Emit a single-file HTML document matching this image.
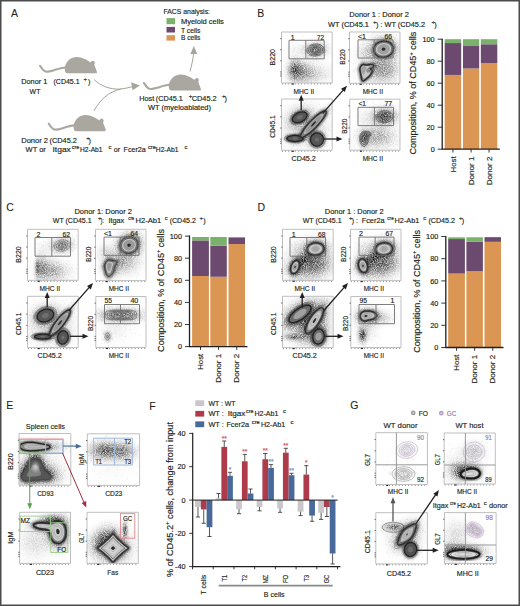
<!DOCTYPE html>
<html><head><meta charset="utf-8"><style>
html,body{margin:0;padding:0;background:#fff;}
svg{display:block;font-family:"Liberation Sans", sans-serif;}
text{stroke-width:.16px;}text:not([fill]){fill:#231f20;stroke:#231f20;}
</style></head><body>
<svg width="520" height="606" viewBox="0 0 520 606">
<rect width="520" height="606" fill="#fff"/>
<rect x="0.75" y="0.75" width="518.5" height="604.5" fill="none" stroke="#4b4b4b" stroke-width="1.5"/>
<text x="11.00" y="16.80" font-size="10.5" style="stroke-width:.08px">A</text>
<text x="257.30" y="16.60" font-size="10.5" style="stroke-width:.08px">B</text>
<text x="6.20" y="211.20" font-size="10.5" style="stroke-width:.08px">C</text>
<text x="257.50" y="211.20" font-size="10.5" style="stroke-width:.08px">D</text>
<text x="6.30" y="409.00" font-size="10.5" style="stroke-width:.08px">E</text>
<text x="149.20" y="409.60" font-size="10.5" style="stroke-width:.08px">F</text>
<text x="350.20" y="408.80" font-size="10.5" style="stroke-width:.08px">G</text>
<g transform="translate(65 73.3)"><path d="M2 0C0.3 0 -0.4 -2.5 -0.2 -5C0.2 -10 4 -15.5 11 -16.2C17 -16.5 22.5 -12.8 25.8 -10.8C26 -12.6 28.3 -13.3 29.4 -11.8C30.1 -10.8 29.8 -9.5 29.2 -8.8L31.9 -1.6C32.3 -0.5 31.6 0 30.5 0Z" fill="#aaa6a0"/><path d="M0.5 -5.8C-4 -5.5 -8 -4 -12 -2.8C-15 -1.8 -18 -1.1 -20 -2C-22 -3 -23.8 -5.5 -25 -7.5" fill="none" stroke="#aaa6a0" stroke-width="2.1" stroke-linecap="round"/></g>
<g transform="translate(73.8 131.2)"><path d="M2 0C0.3 0 -0.4 -2.5 -0.2 -5C0.2 -10 4 -15.5 11 -16.2C17 -16.5 22.5 -12.8 25.8 -10.8C26 -12.6 28.3 -13.3 29.4 -11.8C30.1 -10.8 29.8 -9.5 29.2 -8.8L31.9 -1.6C32.3 -0.5 31.6 0 30.5 0Z" fill="#aaa6a0"/><path d="M0.5 -5.8C-4 -5.5 -8 -4 -12 -2.8C-15 -1.8 -18 -1.1 -20 -2C-22 -3 -23.8 -5.5 -25 -7.5" fill="none" stroke="#aaa6a0" stroke-width="2.1" stroke-linecap="round"/></g>
<g transform="translate(169 90.6)"><path d="M2 0C0.3 0 -0.4 -2.5 -0.2 -5C0.2 -10 4 -15.5 11 -16.2C17 -16.5 22.5 -12.8 25.8 -10.8C26 -12.6 28.3 -13.3 29.4 -11.8C30.1 -10.8 29.8 -9.5 29.2 -8.8L31.9 -1.6C32.3 -0.5 31.6 0 30.5 0Z" fill="#aaa6a0"/><path d="M0.5 -5.8C-4 -5.5 -8 -4 -12 -2.8C-15 -1.8 -18 -1.1 -20 -2C-22 -3 -23.8 -5.5 -25 -7.5" fill="none" stroke="#aaa6a0" stroke-width="2.1" stroke-linecap="round"/></g>
<path d="M94.2 79.7C101 86 110 89.6 120 89.1C124 88.8 128 87.7 132 86.8" fill="none" stroke="#a7a39d" stroke-width="1"/>
<path d="M94 110.8C100 100 108 92 121 89" fill="none" stroke="#a7a39d" stroke-width="1"/>
<path d="M139.8 85.6L131.2 82.2L132.6 90.2Z" fill="#a7a39d"/>
<path d="M190.1 71.5C191.6 65 193 60 193.6 53.5" fill="none" stroke="#a7a39d" stroke-width="1"/>
<path d="M193.8 46.1L190.4 54L197.2 54Z" fill="#a7a39d"/>
<rect x="166.50" y="18.10" width="8.50" height="6.10" fill="#7bb26b"/>
<rect x="166.50" y="26.90" width="8.50" height="5.60" fill="#6c4a70"/>
<rect x="166.50" y="35.20" width="8.50" height="5.40" fill="#da9652"/>
<text x="163.40" y="14.10" font-size="7.3" textLength="46.60" lengthAdjust="spacingAndGlyphs">FACS analysis:</text>
<text x="180.90" y="23.50" font-size="7.3" textLength="43.00" lengthAdjust="spacingAndGlyphs">Myeloid cells</text>
<text x="180.90" y="32.50" font-size="7.3" textLength="19.50" lengthAdjust="spacingAndGlyphs">T cells</text>
<text x="180.90" y="40.30" font-size="7.3" textLength="19.50" lengthAdjust="spacingAndGlyphs">B cells</text>
<text x="21.20" y="84.20" font-size="7.3" textLength="26.10" lengthAdjust="spacingAndGlyphs">Donor 1</text>
<text x="53.50" y="84.20" font-size="7.3" textLength="26.10" lengthAdjust="spacingAndGlyphs">(CD45.1</text>
<text x="83.50" y="81.20" font-size="6.0">+</text>
<text x="88.00" y="84.20" font-size="7.3">)</text>
<text x="29.60" y="93.50" font-size="7.3" textLength="10.80" lengthAdjust="spacingAndGlyphs">WT</text>
<text x="21.20" y="142.70" font-size="7.3" textLength="26.90" lengthAdjust="spacingAndGlyphs">Donor 2</text>
<text x="49.60" y="142.70" font-size="7.3" textLength="27.30" lengthAdjust="spacingAndGlyphs">(CD45.2</text>
<text x="86.30" y="139.70" font-size="6.0">+</text>
<text x="88.60" y="142.70" font-size="7.3">)</text>
<text x="25.60" y="152.30" font-size="7.3" textLength="20.20" lengthAdjust="spacingAndGlyphs">WT or</text>
<text x="52.50" y="152.30" font-size="7.3" textLength="18.30" lengthAdjust="spacingAndGlyphs">Itgax</text>
<text x="71.70" y="149.20" font-size="6.0" textLength="7.70" lengthAdjust="spacingAndGlyphs">cre</text>
<text x="80.00" y="152.30" font-size="7.3" textLength="22.50" lengthAdjust="spacingAndGlyphs">H2-Ab1</text>
<text x="108.50" y="149.20" font-size="6.0">c</text>
<text x="113.80" y="152.10" font-size="7.3" textLength="6.40" lengthAdjust="spacingAndGlyphs">or</text>
<text x="123.50" y="152.10" font-size="7.3" textLength="22.30" lengthAdjust="spacingAndGlyphs">Fcer2a</text>
<text x="148.00" y="149.00" font-size="6.0" textLength="7.80" lengthAdjust="spacingAndGlyphs">cre</text>
<text x="155.80" y="152.10" font-size="7.3" textLength="22.70" lengthAdjust="spacingAndGlyphs">H2-Ab1</text>
<text x="184.60" y="149.00" font-size="6.0">c</text>
<text x="139.20" y="101.20" font-size="7.3" textLength="15.00" lengthAdjust="spacingAndGlyphs">Host</text>
<text x="155.80" y="101.20" font-size="7.3" textLength="26.90" lengthAdjust="spacingAndGlyphs">(CD45.1</text>
<text x="188.80" y="98.20" font-size="6.0">+</text>
<text x="191.70" y="101.20" font-size="7.3" textLength="25.00" lengthAdjust="spacingAndGlyphs">CD45.2</text>
<text x="221.90" y="98.20" font-size="6.0">+</text>
<text x="224.40" y="101.20" font-size="7.3">)</text>
<text x="148.00" y="110.40" font-size="7.3" textLength="63.00" lengthAdjust="spacingAndGlyphs">WT (myeloablated)</text>
<defs><radialGradient id="gg"><stop offset="0.00" stop-opacity="1.000"/><stop offset="0.15" stop-opacity="0.904"/><stop offset="0.30" stop-opacity="0.667"/><stop offset="0.45" stop-opacity="0.402"/><stop offset="0.60" stop-opacity="0.198"/><stop offset="0.75" stop-opacity="0.080"/><stop offset="0.90" stop-opacity="0.026"/><stop offset="1.00" stop-opacity="0.011"/></radialGradient><filter id="sp" x="-5%" y="-5%" width="110%" height="110%"><feTurbulence type="fractalNoise" baseFrequency="1.1" numOctaves="1" seed="4" result="n"/><feColorMatrix in="n" type="matrix" values="0 0 0 0 0 0 0 0 0 0 0 0 0 0 0 0 0 0 1.8 -0.2" result="na"/><feComposite in="SourceGraphic" in2="na" operator="in"/></filter><radialGradient id="gw"><stop offset="0" stop-color="#fff" stop-opacity="1"/><stop offset="1" stop-color="#fff" stop-opacity="0"/></radialGradient><filter id="bl" x="-20%" y="-20%" width="140%" height="140%"><feGaussianBlur stdDeviation="0.9"/></filter></defs>
<clipPath id="c1"><rect x="281.50" y="32.00" width="50.70" height="51.00"/></clipPath>
<g clip-path="url(#c1)">
<g filter="url(#sp)" fill="#000">
<ellipse rx="15.6" ry="10.8" fill="url(#gg)" opacity="0.59" transform="translate(315.5 50.0) rotate(-5)"/>
<ellipse rx="21.0" ry="14.4" fill="url(#gg)" opacity="0.33" transform="translate(315.5 50.0) rotate(-5)"/>
<ellipse rx="12.0" ry="18.0" fill="url(#gg)" opacity="0.78" transform="translate(295.0 70.0) rotate(0)"/>
<ellipse rx="21.0" ry="18.0" fill="url(#gg)" opacity="0.45" transform="translate(302.0 72.0) rotate(0)"/>
<ellipse rx="36.0" ry="18.0" fill="url(#gg)" opacity="0.20" transform="translate(312.0 74.0) rotate(0)"/>
<ellipse rx="18.0" ry="15.0" fill="url(#gg)" opacity="0.07" transform="translate(297.0 50.0) rotate(0)"/>
</g>
<path transform="translate(281.50 32.00) scale(.5)" d="M0 0m44 9h1m24 4h1m14 2h1m-25 1h1m-32 1h1m22 0h1m19 0h1m5 1h1m-32 2h1m24 0h1m1 0h1m-30 2h1m18 0h1m19 0h1m-22 1h1m2 0h1m5 0h1m-14 1h1m11 0h1m-10 1h1m30 0h1m-37 1h1m4 0h1m1 0h1m2 0h1m-26 1h1m9 0h1m9 0h1m12 0h1m13 0h1m-30 1h1m19 0h1m-31 1h1m1 0h1m26 0h1m-53 1h1m37 0h1m6 0h1m-27 1h1m13 0h1m24 0h1m-1 0h1m-6 1h1m0 0h1m13 0h1m-71 1h1m24 0h1m16 0h1m-1 0h1m16 0h1m-32 1h1m10 0h1m4 0h1m3 0h1m2 0h1m6 0h1m-45 1h1m2 0h1m5 0h1m30 0h1m-55 1h1m39 0h1m12 0h1m5 0h1m-80 1h1m44 0h1m2 0h1m11 0h1m8 0h1m0 0h1m1 0h1m11 0h1m-68 1h1m47 0h1m5 0h1m0 0h1m11 0h1m-38 1h1m6 0h1m2 0h1m4 0h1m2 0h1m-31 1h1m19 0h1m1 0h1m1 0h1m6 0h1m6 0h1m8 0h1m0 0h1m-30 1h1m14 0h1m9 0h1m1 0h1m-1 0h1m0 0h1m-54 1h1m8 0h1m24 0h1m4 0h1m-15 1h1m13 0h1m2 0h1m-29 1h1m2 0h1m21 0h1m4 0h1m-19 1h1m1 0h1m2 0h1m2 0h1m1 0h1m-15 1h1m3 0h1m-34 1h1m24 0h1m1 0h1m-1 1h1m5 0h1m10 0h1m-48 1h1m54 0h1m-70 1h1m33 0h1m9 0h1m8 0h1m8 0h1m-69 1h1m27 0h1m18 0h1m10 0h1m-9 1h1m6 0h1m10 0h1m4 0h1m13 0h1m-64 2h1m11 0h1m7 0h1m7 0h1m13 0h1m-7 1h1m5 0h1m-50 1h1m9 0h1m1 0h1m35 0h1m-46 1h1m10 0h1m-17 1h1m13 0h1m30 0h1m-41 1h1m6 0h1m10 0h1m-16 1h1m7 0h1m21 0h1m-40 1h1m3 0h1m0 0h1m22 0h1m-1 0h1m26 0h1m-50 1h1m4 0h1m-22 1h1m12 0h1m0 0h1m2 0h1m20 0h1m-12 1h1m4 0h1m39 0h1m-53 1h1m2 0h1m4 0h1m-34 1h1m12 0h1m2 0h1m2 0h1m3 0h1m20 0h1m0 0h1m-9 1h1m2 0h1m1 0h1m0 0h1m4 0h1m-23 1h1m0 0h1m6 0h1m0 0h1m4 0h1m5 0h1m11 0h1m-38 1h1m3 0h1m12 0h1m3 0h1m-35 1h1m28 0h1m17 0h1m-1 0h1m18 0h1m22 0h1m-81 1h1m6 0h1m2 0h1m0 0h1m3 0h1m41 0h1m5 0h1m-70 1h1m16 0h1m6 0h1m27 0h1m-53 1h1m-2 1h1m6 0h1m1 0h1m0 0h1m1 0h1m3 0h1m10 0h1m18 0h1m-39 1h1m2 0h1m16 0h1m23 0h1m-38 1h1m-1 0h1m1 0h1m8 0h1m41 0h1m-69 1h1m17 0h1m5 0h1m0 0h1m10 0h1m1 0h1m-31 1h1m3 0h1m0 0h1m18 0h1m1 0h1m8 0h1m0 0h1m1 0h1m8 0h1m6 0h1m-57 1h1m0 0h1m4 0h1m11 0h1m11 0h1m-1 0h1m15 0h1m-51 1h1m1 0h1m4 0h1m22 0h1m21 0h1m-51 1h1m-1 0h1m5 0h1m5 0h1m0 0h1m11 0h1m0 0h1m3 0h1m10 0h1m10 0h1m-47 1h1m2 0h1m7 0h1m1 0h1m10 0h1m9 0h1m0 0h1m4 0h1m-47 1h1m8 0h1m6 0h1m0 0h1m15 0h1m-25 1h1m6 0h1m21 0h1m-44 1h1m3 0h1m21 0h1m7 0h1m8 0h1m-36 1h1m1 0h1m0 0h1m10 0h1m2 0h1m7 0h1m20 0h1m0 0h1m-28 1h1m4 0h1m4 0h1m11 0h1m1 0h1m17 0h1m2 0h1m-61 1h1m0 0h1m4 0h1m22 0h1m0 0h1m1 0h1m3 0h1m14 0h1m-61 1h1m14 0h1m11 0h1m8 0h1m-45 1h1m4 0h1m11 0h1m16 0h1m26 0h1m17 0h1m-51 1h1m4 0h1m-30 1h1m3 0h1m1 0h1m2 0h1m18 0h1m4 0h1m0 0h1m10 0h1m8 0h1m30 0h1m-74 1h1m0 0h1m15 0h1m13 0h1m-42 1h1m10 0h1m-1 0h1m33 0h1m10 0h1m1 0h1m16 0h1m-74 1h1m23 0h1m0 0h1m-17 1h1m6 0h1m38 0h1m-44 1h1m9 0h1m6 0h1m22 0h1m-64 1h1m38 0h1m3 0h1m2 0h1m12 0h1m-35 1h1m18 1h1m8 0h1" stroke="#333" stroke-width="1" stroke-opacity="0.3"/>
<path d="M315.4 44l.7 0 .6 0 .9.1 1 .2.9.2.7.2.6.3.8.5.6.4.5.4.5.6.4.6.2.5.3 1 0 1-.2 1-.2.6-.5.8-.5.6-.5.5-.5.4-.5.4-.5.3-.9.4-.7.3-.6.2-.9.2-1 .2-1 .1-.5 0-.8 0-.7 0-1-.2-1-.3-.5-.1-.9-.4-.6-.3-.5-.4-.5-.4-.5-.5-.5-.6-.4-.8-.2-.5-.1-1 0-1 .2-.5.5-1 .3-.5.4-.5.5-.5.6-.5.7-.5.5-.2.6-.3.9-.4.5-.1 1-.3 1-.1.8-.1zM313.2 45.5l.9-.2 1-.2 1 0 1 .1 1 .2.6.1 1 .4.5.2.5.4.6.5.5.5.4.7.3.8 0 1-.2 1-.3.5-.3.6-.5.5-.5.5-.6.4-.9.5-.6.2-.8.3-.7.2-1 .1-1 .1-1 0-1-.2-.8-.2-.7-.3-.5-.2-.8-.5-.6-.5-.5-.5-.3-.5-.3-.8-.1-.7.1-1 .1-.5.4-.7.5-.7.5-.5.5-.4.5-.3.7-.4.8-.3.6-.2zM314.3 46.5l.8-.1 1 0 1 .1.5.1 1 .3.5.3.6.4.5.5.4.9.1.5 0 .9-.3.6-.3.5-.4.5-.6.5-.9.5-.6.2-.9.3-.6.1-1 .1-1-.1-.5-.1-1-.3-.5-.3-.7-.4-.5-.5-.3-.5-.3-1 .1-1 .2-.6.5-.7.5-.5.5-.3.7-.4.8-.3.7-.2zM313.8 48l.8-.3 1-.1 1 .1 1 .3.5.3.5.6.3.6-.1 1-.2.5-.5.5-.9.5-.6.2-1 .2-1 0-1-.3-.5-.2-.5-.4-.5-.8-.1-.7.2-.5.4-.7.5-.4.7-.4z" fill="none" stroke="#444" stroke-width="0.7"/>
</g>
<clipPath id="c2"><rect x="349.50" y="32.00" width="50.50" height="51.30"/></clipPath>
<g clip-path="url(#c2)">
<g filter="url(#sp)" fill="#000">
<ellipse rx="18.9" ry="15.6" fill="url(#gg)" opacity="1.00" transform="translate(383.5 49.2) rotate(-8)"/>
<ellipse rx="25.5" ry="21.0" fill="url(#gg)" opacity="0.52" transform="translate(383.0 48.5) rotate(-8)"/>
<ellipse rx="6.0" ry="18.0" fill="url(#gg)" opacity="0.65" transform="translate(362.8 72.0) rotate(0)"/>
<ellipse rx="16.5" ry="5.4" fill="url(#gg)" opacity="0.55" transform="translate(368.5 66.5) rotate(-15)"/>
<ellipse rx="16.5" ry="5.4" fill="url(#gg)" opacity="0.55" transform="translate(368.5 74.5) rotate(-48)"/>
<ellipse rx="9.0" ry="10.5" fill="url(#gg)" opacity="0.39" transform="translate(365.5 71.0) rotate(0)"/>
<ellipse rx="30.0" ry="21.0" fill="url(#gg)" opacity="0.45" transform="translate(378.0 70.0) rotate(0)"/>
<ellipse rx="18.0" ry="15.0" fill="url(#gg)" opacity="0.18" transform="translate(366.0 52.0) rotate(0)"/>
<ellipse rx="21.0" ry="27.0" fill="url(#gg)" opacity="0.23" transform="translate(388.0 68.0) rotate(0)"/>
</g>
<path transform="translate(349.50 32.00) scale(.5)" d="M0 0m45 3h1m1 1h1m28 2h1m-23 1h1m39 0h1m-51 1h1m30 0h1m-7 1h1m-7 1h1m27 0h1m-37 2h1m7 0h1m17 0h1m-12 1h1m9 0h1m-12 1h1m2 0h1m11 0h1m-57 1h1m23 0h1m18 0h1m0 0h1m1 0h1m-41 1h1m23 0h1m3 0h1m6 0h1m-16 1h1m2 0h1m19 0h1m-37 1h1m16 0h1m11 0h1m0 0h1m-34 1h1m5 0h1m15 0h1m4 0h1m5 0h1m10 0h1m5 0h1m-63 1h1m39 0h1m24 1h1m0 0h1m-42 1h1m0 0h1m27 0h1m8 0h1m-58 1h1m19 0h1m6 0h1m2 0h1m1 0h1m4 0h1m5 0h1m13 0h1m-32 1h1m1 0h1m10 0h1m5 0h1m8 0h1m0 0h1m9 0h1m-77 1h1m5 0h1m33 0h1m6 0h1m9 0h1m10 0h1m1 0h1m-42 1h1m2 0h1m-1 0h1m5 0h1m3 0h1m2 0h1m0 0h1m5 0h1m-21 1h1m11 0h1m-1 0h1m0 0h1m7 0h1m-1 0h1m4 0h1m-31 1h1m7 0h1m6 0h1m4 0h1m-1 0h1m4 0h1m1 0h1m3 0h1m0 0h1m-32 1h1m9 0h1m2 0h1m4 0h1m26 0h1m-35 1h1m0 0h1m4 0h1m9 0h1m0 0h1m1 0h1m2 0h1m-64 1h1m34 0h1m4 0h1m3 0h1m3 0h1m5 0h1m14 0h1m-58 1h1m26 0h1m10 0h1m18 0h1m0 0h1m5 0h1m-50 1h1m9 0h1m6 0h1m0 0h1m5 0h1m-1 0h1m-1 0h1m-1 0h1m1 0h1m21 0h1m-44 1h1m1 0h1m-1 0h1m17 0h1m6 0h1m-39 1h1m12 0h1m2 0h1m8 0h1m5 0h1m1 0h1m7 0h1m5 0h1m-32 1h1m2 0h1m3 0h1m2 0h1m5 0h1m1 0h1m3 0h1m1 0h1m16 0h1m1 0h1m-68 1h1m8 0h1m3 0h1m2 0h1m0 0h1m9 0h1m11 0h1m5 0h1m-24 1h1m0 0h1m5 0h1m8 0h1m1 0h1m24 0h1m-64 1h1m20 0h1m6 0h1m4 0h1m-13 1h1m-1 0h1m3 0h1m-15 1h1m3 0h1m-1 0h1m13 0h1m7 0h1m2 0h1m-1 0h1m13 0h1m-69 1h1m3 0h1m1 0h1m11 0h1m17 0h1m1 0h1m2 0h1m5 0h1m5 0h1m3 0h1m-12 1h1m7 0h1m14 0h1m-75 1h1m11 0h1m9 0h1m12 0h1m2 0h1m4 0h1m1 0h1m3 0h1m7 0h1m-1 0h1m0 0h1m-39 1h1m9 0h1m22 0h1m0 0h1m0 0h1m-1 0h1m1 0h1m0 0h1m2 0h1m15 0h1m-82 1h1m19 0h1m13 0h1m19 0h1m1 0h1m1 0h1m-1 0h1m0 0h1m5 0h1m-12 1h1m-1 0h1m27 0h1m0 0h1m-63 1h1m16 0h1m10 0h1m12 0h1m13 0h1m3 0h1m-60 1h1m4 0h1m1 0h1m22 0h1m-1 0h1m5 0h1m11 0h1m11 0h1m-65 1h1m0 0h1m26 0h1m1 0h1m18 0h1m1 0h1m-25 1h1m11 0h1m1 0h1m-14 1h1m13 0h1m23 0h1m-6 1h1m9 0h1m-81 2h1m6 0h1m28 0h1m4 0h1m-21 1h1m13 0h1m22 0h1m13 0h1m-46 1h1m1 0h1m5 0h1m7 0h1m14 0h1m2 0h1m-73 1h1m15 0h1m4 0h1m21 0h1m-1 0h1m10 0h1m0 0h1m8 0h1m-40 1h1m5 0h1m0 0h1m1 1h1m10 0h1m1 0h1m8 0h1m-1 0h1m2 0h1m3 0h1m7 0h1m-49 1h1m31 0h1m14 0h1m0 0h1m9 0h1m1 0h1m-85 1h1m18 0h1m15 0h1m25 0h1m2 0h1m26 0h1m-88 1h1m24 0h1m22 0h1m7 0h1m26 0h1m-55 1h1m26 0h1m0 0h1m0 0h1m5 0h1m17 0h1m-68 1h1m13 0h1m24 0h1m7 0h1m-41 1h1m16 0h1m19 0h1m2 0h1m14 0h1m-41 1h1m3 0h1m4 0h1m1 0h1m-19 1h1m9 0h1m-20 1h1m6 0h1m7 0h1m8 0h1m-36 1h1m1 0h1m13 0h1m2 0h1m2 0h1m5 0h1m-14 1h1m9 0h1m4 0h1m6 0h1m7 0h1m18 0h1m-50 1h1m7 0h1m3 0h1m14 0h1m0 0h1m2 0h1m15 0h1m5 0h1m-64 1h1m3 0h1m17 0h1m4 0h1m0 0h1m10 0h1m-50 1h1m12 0h1m6 0h1m1 0h1m11 0h1m11 0h1m21 0h1m-59 1h1m1 0h1m1 0h1m47 0h1m-59 1h1m9 0h1m4 0h1m7 0h1m4 0h1m18 0h1m2 0h1m10 0h1m-56 1h1m9 0h1m0 0h1m46 0h1m-79 1h1m24 0h1m0 0h1m13 0h1m9 0h1m8 0h1m12 0h1m-55 1h1m1 0h1m13 0h1m9 0h1m26 0h1m0 0h1m3 0h1m-55 1h1m13 0h1m16 0h1m12 0h1m-33 1h1m53 0h1m-60 1h1m0 0h1m3 0h1m28 0h1m6 0h1m1 0h1m10 0h1m-63 1h1m0 0h1m6 0h1m6 0h1m17 0h1m3 0h1m2 0h1m-47 1h1m12 0h1m1 0h1m17 0h1m0 0h1m10 0h1m8 0h1m-50 1h1m10 0h1m1 0h1m42 0h1m-13 1h1m3 0h1m7 0h1m-61 1h1m10 0h1m33 0h1m-2 1h1m1 0h1m16 0h1m-61 1h1m0 0h1m5 0h1m4 2h1m5 0h1m2 0h1m30 0h1m-13 1h1m-45 1h1m21 0h1m-23 1h1m6 0h1m21 0h1m8 0h1m-35 1h1m7 0h1m-1 1h1m6 0h1m22 0h1m5 0h1m20 0h1m-52 1h1m9 0h1m0 0h1m16 0h1m11 0h1m10 0h1m-62 1h1m7 0h1m23 0h1m-36 1h1m14 0h1m2 0h1m9 0h1m-45 1h1m12 0h1m24 0h1m-26 1h1" stroke="#333" stroke-width="1" stroke-opacity="0.3"/>
<defs><path id="p2" d="M380.8 41.6l.7-.2 1-.2 1-.1 1 0 1 .1 1 .2.7.2.8.2.6.3.9.5.5.3.5.4.5.4.5.5.5.7.4.7.3.5.3.9.1.6.1 1 0 1-.2 1-.2.5-.3.8-.4.7-.3.5-.4.5-.5.5-.5.5-.6.5-.8.5-.5.3-.5.3-1 .4-.5.2-1 .2-.6.1-.9.2-1 0-1 0-.9-.2-.6-.1-1-.2-.5-.2-1-.5-.5-.3-.5-.3-.5-.4-.6-.5-.4-.5-.5-.6-.5-.8-.3-.6-.2-.7-.2-.8-.1-1 .1-1 .2-.8.2-.7.3-.6.5-.9.4-.5.4-.5.5-.5.6-.5.6-.5.5-.3.5-.3.9-.4.6-.3.8-.2zM362.2 64.7l.8-.4 1 .1 1 .2.5.1 1 .1 1 0 .8-.1.7-.1 1-.1 1 0 1 .1.7.1.8.4.2.6-.2.6-.5.6-.5.4-.5.4-.8.5-.6.5-.4.5.8.5.5.2.5.5.2.8-.2.9-.2.6-.3.6-.5.8-.4.7-.4.5-.4.5-.5.5-.5.5-.5.5-.6.5-.6.5-.6.4-.5.5-.5.4-.5.4-.5.4-.8.4-.7.1-.5-.2-.5-.7-.3-.7-.2-.9-.1-.6-.3-1-.1-.5-.3-1-.1-1.1-.1-.5-.2-1-.1-1-.2-1-.1-.5-.1-1 .1-1 .2-.5.4-1 .3-.5.3-.5.5-.5.6-.5z"/></defs>
<use href="#p2" fill="none" stroke="#222" stroke-width="3" stroke-opacity="0.6" filter="url(#bl)"/>
<use href="#p2" fill="#c8c8c8" stroke="#2e2e2e" stroke-width="1.25" stroke-linejoin="round"/>
<path d="M382.3 44.1l.7-.1 1-.1 1 .1.5.1 1 .3.5.2.7.5.6.5.5.5.4.5.3.6.3.9 0 1-.1 1-.2.6-.5.9-.4.5-.5.5-.6.5-.5.3-.5.3-1 .4-.5.2-1 .1-1 .1-1-.1-1-.2-.5-.2-.7-.4-.8-.5-.5-.4-.5-.6-.3-.5-.2-.5-.3-1 0-1 .2-1 .2-.5.4-.8.5-.6.5-.5.5-.4.5-.3.7-.4.8-.3.8-.2zM362.5 66.7l.5-.3 1-.1 1 .1 1 .3.5.3.2.7-.2.5-.5.8-.4.7-.2.5-.3 1-.1.6-.2.9-.2 1-.3.5-.3.6-.9 0-.5-.6-.3-.5-.3-.9-.1-.6-.2-1-.2-.9-.1-.6 0-1 .1-.5.5-1 .5-.5z" fill="#a8a8a8"/>
<path d="M381.3 42.1l.7-.2 1-.1 1-.1 1 .1 1 .1.6.2.9.2.5.3 1 .5.5.3.5.4.5.4.5.6.5.7.3.6.3.5.3 1 .1 1-.1 1-.2 1-.2.6-.4.9-.3.5-.4.5-.5.5-.5.5-.6.5-.7.5-.6.4-.5.2-1 .4-.5.2-1 .2-1 .1-.5.1-1 0-.5-.1-1-.1-1-.3-.5-.1-1-.5-.5-.3-.5-.3-.5-.4-.5-.5-.5-.5-.5-.7-.4-.8-.2-.5-.3-1-.1-1 .1-1 .2-1 .2-.5.5-.9.4-.6.4-.5.5-.5.5-.5.7-.5.5-.4.5-.3.8-.3.7-.3.8-.2zM362.2 65.2l.8-.4 1 0 1 .2 1 .1 1 .1 1-.1 1-.1 1 0 1 .1.6.1.7.5-.3.8-.5.5-.5.4-.5.3-.8.5-.7.5-.5.5-.4.5-.1.5.5.5.5.1.9-.1.2 0 .9.2.4.8-.2 1-.2.6-.5.9-.4.6-.4.5-.4.5-.5.5-.5.5-.6.5-.6.5-.6.4-.5.4-.5.4-.5.4-.6.4-.9.3-.8-.3-.4-.5-.3-.9-.2-.6-.3-1-.1-.5-.3-1-.1-.6-.2-1-.1-1-.2-1-.1-.5-.1-1-.1-1 .1-1 .2-.7.4-.8.3-.5.4-.5.6-.5zM382.5 42.6l1-.1 1 0 .8.1.7.1 1 .3.5.2.8.4.7.4.5.4.5.5.5.6.4.6.2.5.4 1 .1.5 0 1-.1.8-.2.7-.3.8-.4.7-.3.5-.5.5-.5.5-.6.5-.7.5-.5.3-.5.2-1 .4-.5.1-1 .2-1 .1-1 0-1-.1-.8-.2-.7-.2-.7-.3-.8-.4-.5-.3-.5-.4-.5-.5-.5-.6-.5-.8-.2-.5-.3-1-.1-.5 0-1 .1-.6.2-.9.3-.6.5-.9.4-.5.5-.5.5-.5.6-.5.5-.3.5-.3 1-.4.5-.2 1-.2.5-.1zM362.3 65.7l.7-.3 1-.1 1 .1 1 .2 1 0 1 0 1 0 .7.1.7.5-.4.7-.5.5-.5.4-.5.4-.6.5-.5.5-.4.7-.2.8.2 1 .5.3 1-.1 1-.2 1 .5 0 .5-.1.5-.4.8-.5.8-.4.5-.5.5-.5.5-.6.5-.5.3-.5.4-.5.4-.5.4-.8.5-.7.3-1-.3-.3-.5-.2-.5-.3-1-.2-.5-.4-1-.1-.5-.3-1.1-.2-1 0-.5-.2-1-.1-1-.1-1 .1-1 .3-.9.3-.6.4-.5.6-.5z" fill="none" stroke="#333" stroke-width="0.6"/>
<path d="M382.6 45.1l.9-.1 1 0 .5.1 1 .3.5.3.6.4.6.5.3.5.5 1 .1.5-.1 1-.1.5-.4.9-.5.6-.5.5-.5.4-.5.3-.8.3-.7.2-1 .1-1 0-1-.2-.5-.2-.7-.4-.7-.5-.4-.5-.4-.5-.3-.9-.1-.6.1-1 .2-.5.3-.7.5-.6.5-.5.5-.4.6-.3.9-.4.6-.1zM363.1 67.2l.9-.1.6.1.6.5-.1 1-.2.5-.4 1-.3.5-.2.7-.5.7-.7-.4-.3-.5-.3-1-.1-1 .1-1 .3-.5.6-.5zM382.3 46.6l.7-.2 1-.1 1 .3.5.2.5.3.5.6.4.9 0 1-.4.9-.5.6-.5.3-.5.3-1 .3-1 .1-1-.3-.5-.2-.7-.5-.4-.5-.3-1 .1-1 .3-.7.5-.6.5-.3.8-.4z" fill="none" stroke="#8a8a8a" stroke-width="0.45"/>
<path d="M383.1 47.6l.9 0 .5.1.6.4.4.9 0 .2-.4.9-.6.5-.5.2-1 0-.7-.2-.5-.5-.3-.9 0-.1.5-.9.5-.4.6-.2z" fill="#2a2a2a"/>
</g>
<clipPath id="c3"><rect x="281.50" y="99.00" width="50.70" height="51.30"/></clipPath>
<g clip-path="url(#c3)">
<g filter="url(#sp)" fill="#000">
<ellipse rx="15.0" ry="9.0" fill="url(#gg)" opacity="1.00" transform="translate(299.7 117.3) rotate(-25)"/>
<ellipse rx="34.5" ry="7.8" fill="url(#gg)" opacity="1.00" transform="translate(313.5 124.0) rotate(-46)"/>
<ellipse rx="16.5" ry="6.0" fill="url(#gg)" opacity="1.00" transform="translate(295.0 138.5) rotate(0)"/>
<ellipse rx="12.9" ry="13.2" fill="url(#gg)" opacity="1.00" transform="translate(317.0 139.5) rotate(30)"/>
<ellipse rx="39.0" ry="33.0" fill="url(#gg)" opacity="0.26" transform="translate(306.0 128.0) rotate(0)"/>
<ellipse rx="24.0" ry="18.0" fill="url(#gg)" opacity="0.39" transform="translate(300.0 117.0) rotate(-25)"/>
</g>
<path transform="translate(281.50 99.00) scale(.5)" d="M0 0m96 1h1m-59 5h1m21 0h1m12 1h1m19 1h1m6 0h1m-56 1h1m29 2h1m22 0h1m-71 1h1m13 5h1m6 1h1m-37 1h1m50 0h1m-28 1h1m1 0h1m22 0h1m1 0h1m6 0h1m5 0h1m-30 1h1m46 0h1m0 0h1m-59 1h1m26 0h1m21 0h1m-8 1h1m3 0h1m-44 1h1m7 0h1m14 0h1m-8 1h1m20 0h1m2 0h1m11 0h1m-50 1h1m42 0h1m-51 1h1m19 0h1m-33 2h1m14 0h1m7 0h1m23 0h1m5 0h1m19 0h1m-68 1h1m22 0h1m5 0h1m4 0h1m-34 1h1m0 0h1m14 0h1m0 0h1m1 0h1m20 0h1m5 0h1m-59 1h1m14 0h1m-1 0h1m2 0h1m6 0h1m4 0h1m2 0h1m12 0h1m24 0h1m-1 0h1m-77 1h1m16 0h1m3 0h1m0 0h1m0 0h1m6 0h1m5 0h1m34 0h1m-59 1h1m2 0h1m1 0h1m3 0h1m8 0h1m7 0h1m6 0h1m29 0h1m-67 1h1m5 0h1m25 0h1m0 0h1m7 0h1m16 0h1m-55 1h1m2 0h1m1 0h1m0 0h1m1 0h1m33 0h1m1 0h1m-54 1h1m1 0h1m1 0h1m4 0h1m9 0h1m1 0h1m2 0h1m0 0h1m1 0h1m-42 1h1m2 0h1m27 0h1m3 0h1m41 0h1m-50 1h1m2 0h1m3 0h1m0 0h1m10 0h1m26 0h1m14 0h1m-82 1h1m6 0h1m1 0h1m0 0h1m0 0h1m0 0h1m0 0h1m0 0h1m3 0h1m0 0h1m2 0h1m2 0h1m27 0h1m11 0h1m-64 1h1m8 0h1m3 0h1m10 0h1m10 0h1m4 0h1m7 0h1m7 0h1m-55 1h1m0 0h1m9 0h1m3 0h1m4 0h1m29 0h1m5 0h1m-49 1h1m26 0h1m7 0h1m7 0h1m10 0h1m-47 1h1m5 0h1m0 0h1m0 0h1m13 0h1m15 0h1m2 0h1m-60 1h1m2 0h1m39 0h1m2 0h1m4 0h1m4 0h1m0 0h1m8 0h1m1 0h1m-69 1h1m8 0h1m1 0h1m3 0h1m40 0h1m-56 1h1m18 0h1m4 0h1m6 0h1m1 0h1m3 0h1m10 0h1m0 0h1m-1 0h1m4 0h1m-41 1h1m0 0h1m15 0h1m1 0h1m9 0h1m1 0h1m0 0h1m0 0h1m6 0h1m-50 1h1m5 0h1m2 0h1m11 0h1m22 0h1m-47 1h1m11 0h1m10 0h1m9 0h1m8 0h1m0 0h1m6 0h1m-46 1h1m7 0h1m19 0h1m9 0h1m0 0h1m11 0h1m-71 1h1m4 0h1m9 0h1m4 0h1m28 0h1m11 0h1m0 0h1m2 0h1m7 0h1m-67 1h1m13 0h1m34 0h1m2 0h1m3 0h1m3 0h1m-23 1h1m4 0h1m1 0h1m7 0h1m2 0h1m-1 0h1m3 0h1m11 0h1m-25 1h1m-1 0h1m21 0h1m-52 1h1m10 0h1m20 0h1m-20 1h1m10 0h1m3 0h1m3 0h1m-49 1h1m3 0h1m27 0h1m2 0h1m0 0h1m12 0h1m-60 1h1m47 0h1m2 0h1m-38 1h1m10 0h1m-1 0h1m1 0h1m1 0h1m13 0h1m6 0h1m2 0h1m4 0h1m-44 1h1m4 0h1m30 0h1m27 0h1m7 0h1m-42 1h1m0 0h1m16 0h1m-37 1h1m30 0h1m2 0h1m8 0h1m-48 1h1m8 0h1m10 0h1m11 0h1m7 0h1m26 0h1m-57 1h1m7 0h1m4 0h1m-1 0h1m24 0h1m-28 1h1m1 0h1m15 0h1m-14 1h1m1 0h1m5 0h1m1 0h1m0 0h1m-28 1h1m8 0h1m5 0h1m4 0h1m1 0h1m3 0h1m1 0h1m10 0h1m-75 1h1m21 0h1m5 0h1m0 0h1m-1 0h1m-24 1h1m43 0h1m12 0h1m1 0h1m-1 0h1m15 0h1m-61 1h1m31 0h1m18 0h1m20 0h1m-93 1h1m4 0h1m12 0h1m-1 0h1m16 0h1m4 0h1m0 0h1m9 0h1m8 0h1m4 0h1m1 0h1m3 0h1m-60 1h1m26 0h1m15 0h1m-1 0h1m9 0h1m5 0h1m-55 1h1m16 0h1m22 0h1m8 0h1m-60 1h1m20 0h1m8 0h1m11 0h1m3 0h1m0 0h1m0 0h1m4 0h1m8 0h1m1 0h1m-59 1h1m13 0h1m1 0h1m1 0h1m4 0h1m4 0h1m7 0h1m2 0h1m2 0h1m11 0h1m-46 1h1m18 0h1m24 0h1m0 0h1m14 0h1m-75 1h1m1 0h1m2 0h1m5 0h1m3 0h1m0 0h1m2 0h1m-1 0h1m2 0h1m2 0h1m15 0h1m21 0h1m1 0h1m2 0h1m-68 1h1m19 0h1m-1 0h1m0 0h1m-1 0h1m0 0h1m4 0h1m37 0h1m-62 1h1m7 0h1m6 0h1m3 0h1m0 0h1m19 0h1m16 0h1m-66 1h1m0 0h1m1 0h1m7 0h1m11 0h1m36 0h1m12 0h1m9 0h1m-84 1h1m19 0h1m30 0h1m10 0h1m-54 1h1m7 0h1m2 0h1m15 0h1m24 0h1m-40 1h1m37 0h1m1 0h1m2 0h1m3 0h1m-70 1h1m1 0h1m12 0h1m33 0h1m2 0h1m2 0h1m5 0h1m-47 1h1m15 0h1m4 0h1m4 0h1m21 0h1m3 0h1m0 0h1m4 0h1m-63 1h1m0 0h1m30 0h1m5 0h1m3 0h1m5 0h1m8 0h1m-16 1h1m-1 0h1m4 0h1m-43 1h1m4 0h1m45 0h1m-46 1h1m52 0h1m-10 1h1m-55 1h1m5 0h1m5 0h1m20 0h1m9 0h1m-30 1h1m-34 1h1m70 1h1m-25 1h1m19 0h1m5 0h1m3 0h1m-26 2h1m14 0h1m-41 1h1" stroke="#333" stroke-width="1" stroke-opacity="0.3"/>
<path d="M301.3 110.6l.8-.1 1-.1 1 0 1 .2.5.1 1 .3.5.3.5.3.5.5.5.7.4.8.1.8 0 .6-.1.6-.3 1-.2.5-.4.8-.5.7-.4.5-.5.5-.5.5-.6.5-.5.4-.5.4-.5.3-.7.4-.8.5-.5.2-.8.3-.7.3-.8.2-.7.3-1 .1-.9.1-.6.1-1 0-.5-.1-1.1-.1-1-.3-.5-.3-.5-.3-.6-.5-.4-.5-.5-.8-.2-.7 0-1 .2-1 .1-.5.4-.9.4-.6.3-.5.4-.5.5-.5.5-.5.5-.5.7-.5.7-.5.6-.4.5-.3.6-.3.9-.4.5-.2 1-.4.5-.2 1-.2.7-.1zM315.3 131.2l.8-.2 1 0 1 0 .9.2.7.1.8.4.7.3.5.3.5.4.6.5.5.5.4.5.5.7.4.8.3.5.3 1 .1.5.1 1 0 1-.1 1-.1.7-.3.9-.2.6-.5.9-.3.5-.4.5-.4.5-.5.5-.6.5-.7.5-.6.3-.5.2-1.1.4-.5.1-1 .2-1 0-1 0-.8-.2-.7-.2-.7-.3-.8-.4-.5-.3-.5-.4-.5-.5-.5-.5-.5-.6-.5-.8-.3-.5-.2-.5-.5-1-.2-.6-.3-.5-.5-.7-.5-.4-1 .1-.5.3-.5.2-1 .5-.5.2-.9.3-.6.3-1 .2-.5.1-1 .2-1 .2-.7.1-.8 0-1 .1-1 0-1.1 0-1-.1-.9 0-.6-.1-1-.1-1-.2-.5-.2-1-.2-.6-.3-.9-.3-.5-.3-.6-.4-.6-.5-.3-.5-.2-1 .2-.5.5-.6.5-.4.8-.5.7-.3.5-.2 1-.3.7-.2.8-.2 1-.1 1-.2.5 0 1-.1 1.1 0 1 0 1 0 .9.1.6.1 1 .1 1 .1.7.2.8.2 1 .3.5.2.8.3.7.4.5.2.7.4.8.5.5.1.5-.2.5-.4.5-.6.5-.6.5-.7.4-.6.5-.5.4-.5.5-.5.6-.5.6-.4.5-.3.7-.3.8-.3.7-.2z" fill="none" stroke="#666" stroke-width="0.5"/>
<defs><path id="p3" d="M301 112.1l.6-.1 1-.1 1 .1.5.1 1 .4.5.2.5.4.5.7.3.8.1 1-.2 1-.2.5-.5.8-.5.7-.5.5-.5.5-.5.4-.5.4-.5.4-.7.3-.8.5-.5.2-1 .3-.5.2-1 .2-1 .1-.5 0-.6 0-.9-.1-1-.3-.6-.2-.5-.4-.5-.5-.5-.8-.1-.7.1-1 .1-.5.4-1 .3-.5.4-.5.5-.5.5-.5.6-.5.6-.5.7-.4.5-.3.6-.3.9-.4.5-.2 1-.3.9-.1zM315.6 133.2l.5-.1 1-.1 1 .1.6.1 1 .3.5.3.6.4.6.5.5.5.4.5.4.6.4.9.1.5.2 1 0 1-.1 1-.2.5-.3 1.1-.3.5-.3.5-.5.6-.5.5-.5.4-.9.5-.7.3-.6.2-.9.2-1 0-1-.1-.5-.1-1-.4-.5-.3-.5-.3-.6-.5-.4-.5-.5-.6-.5-.9-.2-.5-.3-1-.1-.6-.1-1 .2-1 .1-.5.4-.9.4-.6.3-.5.4-.5.5-.5.7-.5.7-.5.5-.2 1-.3zM292.2 135.7l.8-.1 1-.1 1.1 0 1 0 1 .1.7.1.8.1 1 .2.6.2.9.3.5.2.8.5.5.5.3.5-.1.8-.5.6-.5.4-.5.3-1 .4-.5.1-1 .3-1 .1-.5.1-1 .1-1 .1-1 0-1.1-.1-1-.1-.6-.1-.9-.1-1-.2-.5-.2-1-.4-.5-.3-.5-.3-.5-.6-.1-.9.2-.5.5-.5.9-.5.5-.2.8-.3.7-.2 1-.2.7-.1z"/></defs>
<use href="#p3" fill="none" stroke="#222" stroke-width="3" stroke-opacity="0.6" filter="url(#bl)"/>
<use href="#p3" fill="#555" stroke="#222" stroke-width="1.25" stroke-linejoin="round"/>
<path d="M300 115.1l.6-.1 1 .1.5.1.5.4.2 1-.2.8-.5.6-.5.5-.5.3-.5.3-1 .4-1 .1-1-.1-.6-.4-.4-.8 0-.3.3-.9.4-.5.5-.5.8-.5.5-.2.9-.3zM293.3 137.7l.7-.1 1.1-.1 1 .1.6.1.9.5 0 .5-.5.4-.5.2-1 .1-1 0-1.1-.1-.5-.1-.6-.5.1-.6.8-.4zM315.8 137.7l.8-.3 1 0 .6.3.5.5.4 1-.1 1-.4.6-.5.5-1 .3-1-.1-.5-.3-.5-.6-.2-.9.1-1 .3-.5.5-.5z" fill="#6e6e6e"/>
</g>
<clipPath id="c4"><rect x="281.50" y="99.00" width="50.70" height="51.30"/></clipPath>
<g clip-path="url(#c4)">
<defs><path id="p4" d="M323.8 111.1l.9-.2 1 .1.5.6 0 .5 0 .6-.2.9-.3.7-.4.8-.2.5-.4.7-.5.8-.3.5-.3.5-.4.6-.5.7-.5.7-.4.5-.4.5-.4.5-.4.5-.5.5-.4.6-.6.6-.5.6-.5.6-.5.5-.5.5-.5.6-.5.5-.5.5-.5.5-.5.5-.5.5-.5.4-.5.5-.5.5-.5.4-.5.5-.5.4-.5.4-.6.5-.6.5-.7.5-.6.5-.5.3-.5.4-.5.3-.9.5-.6.4-.5.2-.9.4-.6.3-1 .1-1-.3-.3-.6 0-1 .3-.9.2-.6.3-.6.4-.9.3-.5.3-.5.5-.8.5-.7.3-.5.4-.5.3-.5.5-.6.5-.7.5-.6.5-.6.4-.5.4-.6.5-.5.4-.5.5-.5.4-.5.5-.5.5-.5.5-.5.4-.5.5-.5.6-.5.5-.5.5-.5.5-.5.6-.5.6-.5.5-.5.6-.5.6-.5.5-.4.5-.4.5-.4.5-.4.7-.4.7-.5.7-.5.5-.3.5-.2.9-.5.6-.3.6-.2z"/></defs>
<use href="#p4" fill="none" stroke="#222" stroke-width="3" stroke-opacity="0.6" filter="url(#bl)"/>
<use href="#p4" fill="#b4b4b4" stroke="#2e2e2e" stroke-width="1.25" stroke-linejoin="round"/>
<path d="M320.1 115.6l.6-.1.8.1.3.5-.1 1-.2.5-.3.7-.5.8-.3.5-.3.5-.4.6-.6.7-.5.7-.4.5-.4.5-.4.5-.5.5-.4.5-.5.6-.4.5-.5.5-.5.5-.5.5-.6.5-.5.5-.6.5-.6.5-.6.5-.6.4-.5.4-.5.4-.5.3-.8.5-.7.4-.5.2-1 .3-.8-.4 0-1 .3-1 .3-.5.2-.5.5-.8.5-.7.3-.5.4-.5.4-.5.4-.6.5-.6.5-.6.5-.6.5-.6.5-.5.5-.5.5-.6.5-.5.5-.4.5-.5.5-.5.5-.4.5-.4.5-.5.5-.4.6-.4.7-.5.7-.5.5-.3.5-.3 1-.4z" fill="#9a9a9a"/>
<path d="M323.1 112.1l.6-.2 1 .1.5.6 0 .5 0 .6-.3.9-.2.6-.5.9-.2.5-.3.5-.5.9-.5.6-.3.5-.4.5-.3.6-.5.6-.5.7-.5.6-.5.5-.4.5-.4.5-.5.5-.4.5-.5.6-.4.5-.5.5-.5.5-.5.5-.5.5-.5.5-.5.5-.6.5-.5.5-.6.5-.5.5-.6.5-.6.5-.6.5-.5.3-.5.4-.5.4-.6.4-.7.5-.7.4-.5.3-.5.3-1 .5-.5.2-1 .2-1-.3-.3-.6.1-1 .2-.8.3-.7.2-.5.5-.9.3-.6.3-.5.4-.6.5-.7.5-.7.4-.5.3-.5.4-.5.4-.5.5-.6.5-.6.5-.6.5-.6.5-.5.5-.6.5-.5.5-.6.5-.5.5-.5.5-.5.5-.5.5-.5.5-.4.5-.5.5-.4.5-.5.5-.4.5-.4.5-.5.6-.4.7-.5.6-.5.6-.4.6-.4.5-.3.7-.4.8-.5.5-.2.9-.3zM322.9 113.1l.4 0 .7.5.1 1-.3 1-.2.5-.4.8-.4.7-.3.5-.3.5-.5.8-.5.7-.4.5-.4.5-.4.5-.4.5-.5.6-.5.6-.5.6-.5.6-.5.5-.5.6-.5.5-.5.5-.5.5-.5.5-.5.5-.5.5-.5.5-.5.4-.5.5-.5.4-.5.4-.5.4-.6.5-.6.5-.7.5-.6.4-.5.3-.5.3-.9.5-.6.3-.5.2-1 .2-.9-.2-.3-.5.1-1 .1-.5.4-1 .3-.5.3-.6.5-.8.4-.6.3-.5.3-.5.5-.7.5-.6.5-.7.4-.5.5-.5.4-.6.4-.5.4-.5.5-.5.5-.5.4-.5.5-.5.5-.5.5-.5.5-.5.5-.5.6-.5.5-.5.6-.5.6-.5.6-.5.6-.5.5-.4.5-.4.5-.4.5-.3.8-.5.8-.5.5-.2.5-.3 1-.4.7-.1z" fill="none" stroke="#333" stroke-width="0.6"/>
<path d="M317.5 118.6l.6-.2.8.2-.1 1-.2.5-.5.9-.4.6-.3.5-.4.5-.4.5-.5.6-.5.6-.5.5-.5.5-.5.5-.5.5-.5.5-.5.4-.5.5-.7.5-.7.5-.6.4-.5.2-1 .4-.6-.5.1-.6.4-.9.3-.5.3-.6.5-.7.5-.7.5-.6.4-.5.5-.5.4-.5.5-.5.5-.5.5-.5.6-.5.5-.5.6-.5.5-.3.5-.4.5-.3.9-.5z" fill="none" stroke="#8a8a8a" stroke-width="0.45"/>
<path d="M315 121.6l.6-.3.6.3-.2.5-.4.6-.5.7-.5.6-.5.6-.5.5-.5.4-.5.4-.5.4-.7.4-.4 0 .1-1 .4-.5.3-.5.4-.6.5-.5.5-.5.5-.5.6-.5.7-.5z" fill="#2a2a2a"/>
</g>
<clipPath id="c5"><rect x="349.80" y="99.20" width="50.20" height="51.00"/></clipPath>
<g clip-path="url(#c5)">
<g filter="url(#sp)" fill="#000">
<ellipse rx="17.1" ry="12.0" fill="url(#gg)" opacity="0.72" transform="translate(384.3 116.8) rotate(-5)"/>
<ellipse rx="22.5" ry="16.5" fill="url(#gg)" opacity="0.45" transform="translate(384.3 116.8) rotate(-5)"/>
<ellipse rx="8.4" ry="15.0" fill="url(#gg)" opacity="0.72" transform="translate(364.0 139.0) rotate(0)"/>
<ellipse rx="10.5" ry="6.0" fill="url(#gg)" opacity="0.45" transform="translate(367.0 135.0) rotate(-30)"/>
<ellipse rx="33.0" ry="21.0" fill="url(#gg)" opacity="0.39" transform="translate(377.0 137.0) rotate(0)"/>
<ellipse rx="18.0" ry="15.0" fill="url(#gg)" opacity="0.08" transform="translate(366.0 117.0) rotate(0)"/>
</g>
<path transform="translate(349.80 99.20) scale(.5)" d="M0 0m61 3h1m-17 3h1m2 2h1m33 2h1m-33 1h1m10 0h1m6 0h1m15 1h1m1 0h1m-20 1h1m2 0h1m-24 1h1m8 0h1m-1 0h1m31 1h1m-62 1h1m22 0h1m10 2h1m13 0h1m-32 1h1m7 0h1m25 0h1m-36 1h1m1 0h1m12 0h1m8 0h1m-2 1h1m1 0h1m-13 1h1m3 0h1m0 0h1m2 0h1m-1 0h1m5 0h1m-8 1h1m-1 0h1m1 0h1m10 0h1m3 0h1m2 0h1m1 0h1m-9 1h1m-47 1h1m9 0h1m1 0h1m21 0h1m2 0h1m1 1h1m3 0h1m14 0h1m-38 1h1m9 0h1m7 0h1m8 0h1m0 0h1m2 0h1m5 0h1m2 0h1m-39 1h1m9 0h1m2 0h1m0 0h1m11 0h1m2 0h1m6 0h1m2 0h1m-61 1h1m25 0h1m3 0h1m9 0h1m6 0h1m-50 1h1m13 0h1m10 0h1m9 0h1m1 0h1m5 0h1m22 0h1m-43 1h1m6 0h1m1 0h1m3 0h1m1 0h1m2 0h1m18 0h1m3 0h1m-60 1h1m10 0h1m1 0h1m0 0h1m0 0h1m4 0h1m5 0h1m9 0h1m23 0h1m-55 1h1m10 0h1m3 0h1m4 0h1m0 0h1m2 0h1m6 0h1m3 0h1m0 0h1m-65 1h1m25 0h1m4 0h1m16 0h1m8 0h1m16 0h1m-52 1h1m14 0h1m3 0h1m0 0h1m3 0h1m2 0h1m0 0h1m0 0h1m0 0h1m0 0h1m0 0h1m21 0h1m1 0h1m0 0h1m-1 0h1m-39 1h1m0 0h1m3 0h1m2 0h1m-25 1h1m11 0h1m9 0h1m15 0h1m2 0h1m-34 1h1m0 0h1m8 0h1m4 0h1m3 0h1m0 0h1m0 0h1m2 0h1m8 0h1m-61 1h1m21 0h1m19 0h1m1 0h1m1 0h1m-36 1h1m1 0h1m22 0h1m9 0h1m14 0h1m-59 1h1m44 0h1m9 0h1m-17 1h1m0 0h1m0 0h1m1 0h1m6 0h1m2 0h1m14 0h1m-58 1h1m32 0h1m14 0h1m7 0h1m-77 1h1m5 0h1m35 0h1m5 0h1m5 0h1m1 0h1m16 0h1m-28 1h1m9 0h1m8 0h1m3 0h1m-60 1h1m24 0h1m26 0h1m9 0h1m0 0h1m-64 1h1m39 1h1m0 0h1m3 0h1m-1 0h1m6 0h1m10 0h1m4 0h1m-33 1h1m16 1h1m18 0h1m-44 1h1m2 0h1m6 0h1m-44 1h1m17 0h1m21 0h1m2 0h1m12 0h1m3 0h1m-1 0h1m-20 2h1m-20 1h1m48 0h1m-34 1h1m2 0h1m-38 1h1m36 0h1m7 0h1m-41 1h1m12 0h1m23 0h1m-28 1h1m8 0h1m6 0h1m1 0h1m7 0h1m0 0h1m-23 1h1m16 0h1m-10 1h1m9 0h1m0 0h1m-51 1h1m15 0h1m46 0h1m19 0h1m-62 1h1m18 0h1m34 0h1m-77 1h1m20 0h1m7 0h1m1 0h1m3 0h1m17 0h1m-56 1h1m16 0h1m3 0h1m16 0h1m6 0h1m-1 0h1m3 0h1m14 0h1m-52 1h1m2 0h1m1 0h1m6 0h1m5 0h1m10 0h1m-32 1h1m0 0h1m6 0h1m9 0h1m19 0h1m13 0h1m-49 1h1m11 0h1m4 0h1m-1 0h1m40 0h1m-52 1h1m15 0h1m6 0h1m-30 1h1m4 0h1m0 0h1m-1 0h1m23 0h1m-40 1h1m12 0h1m3 0h1m0 0h1m38 0h1m9 0h1m-79 1h1m18 0h1m-1 0h1m0 0h1m9 0h1m1 0h1m2 0h1m14 0h1m3 0h1m1 0h1m1 0h1m10 0h1m-50 1h1m4 0h1m0 0h1m50 0h1m6 0h1m-77 1h1m13 0h1m4 0h1m5 0h1m0 0h1m2 0h1m2 0h1m8 0h1m5 0h1m12 0h1m6 0h1m-58 1h1m2 0h1m1 0h1m2 0h1m-29 1h1m12 0h1m7 0h1m1 0h1m2 0h1m-1 0h1m3 0h1m6 0h1m10 0h1m22 0h1m9 0h1m-59 1h1m13 0h1m6 0h1m-30 1h1m3 0h1m-1 0h1m13 0h1m25 0h1m-47 1h1m29 0h1m1 0h1m-1 0h1m-32 1h1m0 0h1m-1 0h1m-1 0h1m0 0h1m5 0h1m17 0h1m11 0h1m-32 1h1m9 0h1m8 0h1m11 0h1m-40 1h1m4 0h1m1 0h1m0 0h1m3 0h1m-1 0h1m-1 0h1m15 0h1m-40 1h1m11 0h1m6 0h1m3 0h1m3 0h1m29 0h1m17 0h1m-67 1h1m1 0h1m0 0h1m1 0h1m11 0h1m1 0h1m57 0h1m-75 1h1m1 0h1m19 0h1m11 0h1m-30 1h1m11 0h1m0 0h1m4 0h1m5 0h1m25 0h1m0 0h1m-53 1h1m3 0h1m3 0h1m2 0h1m8 0h1m12 0h1m13 0h1m-46 1h1m1 0h1m23 0h1m1 0h1m4 0h1m26 0h1m-62 1h1m5 0h1m1 0h1m7 0h1m7 0h1m-20 1h1m4 0h1m27 0h1m-46 1h1m19 0h1m1 0h1m3 0h1m0 0h1m47 0h1m-1 0h1m-28 1h1m-44 1h1m8 0h1m3 0h1m39 0h1m-73 1h1m29 0h1m51 0h1m-65 1h1m31 0h1m-6 2h1m21 0h1m-39 1h1m2 0h1m4 0h1m31 0h1m16 0h1m-70 1h1m-3 1h1m1 0h1m17 0h1m4 0h1m-3 1h1m31 0h1" stroke="#333" stroke-width="1" stroke-opacity="0.3"/>
<path d="M381.8 111.2l.6-.1 1-.2 1-.1 1 0 1 .1 1 .2.6.2 1 .3.5.2.6.4.7.5.6.5.4.5.3.5.4.7.2.8.1 1-.2 1-.2.5-.4.8-.5.7-.5.5-.5.4-.5.4-.5.3-.8.4-.7.3-.6.2-1 .3-1 .2-.5 0-1 .1-1 0-.5-.1-1-.2-1-.2-.5-.2-.9-.4-.6-.3-.5-.4-.5-.4-.5-.6-.5-.7-.3-.6-.2-.8-.1-.7.1-.8.2-.7.3-.7.5-.8.4-.5.6-.5.5-.4.5-.4.5-.3.9-.4.6-.2.9-.3zM364 131.2l.9-.1 1 .1.5 0 1 .2 1 .1.6.2.9.4.5.4.4.7.1.5-.1.5-.3 1-.2.5-.4.7-.5.8-.3.5-.2.5-.4 1-.1.5-.3 1-.2 1-.1.5-.4 1-.2.5-.3.7-.5.7-.5.6-.5.3-.5.3-1 .1-.9-.2-.6-.4-.6-.4-.5-.7-.3-.5-.2-.5-.4-1-.2-.5-.3-1-.1-.5-.1-1-.1-1 0-1 .1-1 .2-.5.2-1 .2-.5.5-1 .4-.5.3-.5.5-.5.7-.5.7-.3.6-.2zM381.9 112.7l.5-.1 1-.2 1-.1 1 0 1 .1 1 .3.6.2.5.3.8.5.5.5.4.5.3.6.2.9 0 1-.2.6-.5.9-.5.5-.5.5-.5.4-.5.3-.8.3-.8.3-.9.2-.6.1-1 0-1 0-.5-.1-1-.2-.7-.3-.8-.4-.5-.3-.5-.5-.5-.6-.3-.7-.2-.7 0-.8.1-.5.4-1 .4-.5.5-.5.6-.5.5-.3.5-.3 1-.4zM363.4 132.7l1-.4 1-.1 1 0 1 .2 1 .2.5.3.5.4.3.9-.2 1-.2.5-.4.8-.4.7-.3.5-.3.7-.3.8-.2.6-.3.9-.2.8-.3.7-.2.6-.5.8-.5.5-.5.3-1 .2-1-.3-.5-.5-.5-.6-.3-.5-.3-.5-.3-1-.2-.5-.2-1-.1-1 0-1 .2-1 .1-.7.3-.8.3-.5.4-.7.6-.6.5-.4.5-.3zM383.3 114.2l.6-.1 1 0 .8.1.7.2.6.3.6.5.4.5.2 1-.2.8-.5.7-.6.5-.5.3-.5.2-1 .3-1 0-1-.1-.7-.2-.8-.4-.5-.5-.3-.6-.2-1 .5-1 .4-.5.6-.5.5-.2.9-.3zM363.9 133.7l1-.3 1-.1 1 .1.8.3.5.5.1 1-.3 1-.3.5-.3.7-.5.8-.2.5-.3.8-.3.7-.3.5-.4.9-.5.5-.5.3-1-.1-.5-.4-.5-.7-.3-.5-.3-.8-.1-.7-.2-1 .1-1 .2-1 .2-.5.4-.6.5-.6.5-.5.5-.3zM364.2 134.7l.7-.2 1-.1.8.3.3.5-.1 1-.2.5-.3.6-.5.9-.4.5-.3.5-.5.5-.8.3-.6-.3-.4-.7-.3-.8 0-1 .2-1 .3-.5.5-.5.6-.5z" fill="none" stroke="#444" stroke-width="0.65"/>
</g>
<path d="M281.50 32.00H332.20V83.00H281.50Z" fill="none" stroke="#b8b8b8" stroke-width="0.9"/>
<path d="M282.00 84.00H331.70" stroke="#555" stroke-width="1" stroke-dasharray="0.8 2.4" stroke-opacity="0.8"/>
<path d="M291.64 84.00h2.2" stroke="#222" stroke-width="1.1"/>
<path d="M280.20 71.91h1.3M280.20 60.83h1.3M280.20 49.74h1.3M280.20 38.65h1.3M280.20 76.00h1.3M280.20 74.00h1.3" stroke="#444" stroke-width="0.8"/>
<path d="M349.50 32.00H400.00V83.30H349.50Z" fill="none" stroke="#b8b8b8" stroke-width="0.9"/>
<path d="M350.00 84.30H399.50" stroke="#555" stroke-width="1" stroke-dasharray="0.8 2.4" stroke-opacity="0.8"/>
<path d="M359.60 84.30h2.2" stroke="#222" stroke-width="1.1"/>
<path d="M348.20 72.15h1.3M348.20 61.00h1.3M348.20 49.84h1.3M348.20 38.69h1.3M348.20 76.30h1.3M348.20 74.30h1.3" stroke="#444" stroke-width="0.8"/>
<path d="M281.50 99.00H332.20V150.30H281.50Z" fill="none" stroke="#b8b8b8" stroke-width="0.9"/>
<path d="M282.00 151.30H331.70" stroke="#555" stroke-width="1" stroke-dasharray="0.8 2.4" stroke-opacity="0.8"/>
<path d="M291.64 151.30h2.2" stroke="#222" stroke-width="1.1"/>
<path d="M280.20 139.15h1.3M280.20 128.00h1.3M280.20 116.84h1.3M280.20 105.69h1.3M280.20 143.30h1.3M280.20 141.30h1.3" stroke="#444" stroke-width="0.8"/>
<path d="M349.80 99.20H400.00V150.20H349.80Z" fill="none" stroke="#b8b8b8" stroke-width="0.9"/>
<path d="M350.30 151.20H399.50" stroke="#555" stroke-width="1" stroke-dasharray="0.8 2.4" stroke-opacity="0.8"/>
<path d="M359.84 151.20h2.2" stroke="#222" stroke-width="1.1"/>
<path d="M348.50 139.11h1.3M348.50 128.03h1.3M348.50 116.94h1.3M348.50 105.85h1.3M348.50 143.20h1.3M348.50 141.20h1.3" stroke="#444" stroke-width="0.8"/>
<path d="M289.00 40.30H324.20V58.80H289.00ZM305.80 40.30V58.80" fill="none" stroke="#707070" stroke-width="0.9"/>
<path d="M358.00 39.80H393.00V58.00H358.00ZM374.20 39.80V58.00" fill="none" stroke="#707070" stroke-width="0.9"/>
<path d="M358.00 107.30H393.50V125.60H358.00ZM374.40 107.30V125.60" fill="none" stroke="#707070" stroke-width="0.9"/>
<text x="290.80" y="39.60" font-size="7">1</text>
<text x="317.00" y="39.60" font-size="7" textLength="7.00" lengthAdjust="spacingAndGlyphs">72</text>
<text x="358.00" y="38.90" font-size="7" textLength="8.00" lengthAdjust="spacingAndGlyphs">&lt;1</text>
<text x="384.40" y="38.90" font-size="7" textLength="7.60" lengthAdjust="spacingAndGlyphs">66</text>
<text x="358.50" y="106.10" font-size="7" textLength="7.50" lengthAdjust="spacingAndGlyphs">&lt;1</text>
<text x="384.40" y="106.10" font-size="7" textLength="7.90" lengthAdjust="spacingAndGlyphs">77</text>
<text x="0" y="0" font-size="7.7" text-anchor="middle" transform="translate(275.01 57.20) rotate(-90)" textLength="16.40" lengthAdjust="spacingAndGlyphs">B220</text>
<text x="293.50" y="93.50" font-size="7.7" textLength="20.70" lengthAdjust="spacingAndGlyphs">MHC II</text>
<text x="0" y="0" font-size="7.7" text-anchor="middle" transform="translate(345.41 57.00) rotate(-90)" textLength="15.40" lengthAdjust="spacingAndGlyphs">B220</text>
<text x="362.70" y="93.50" font-size="7.7" textLength="20.30" lengthAdjust="spacingAndGlyphs">MHC II</text>
<text x="0" y="0" font-size="7.7" text-anchor="middle" transform="translate(275.01 126.50) rotate(-90)" textLength="22.30" lengthAdjust="spacingAndGlyphs">CD45.1</text>
<text x="291.60" y="160.80" font-size="7.7" textLength="24.20" lengthAdjust="spacingAndGlyphs">CD45.2</text>
<text x="0" y="0" font-size="7.7" text-anchor="middle" transform="translate(346.81 126.20) rotate(-90)" textLength="15.00" lengthAdjust="spacingAndGlyphs">B220</text>
<text x="362.70" y="160.80" font-size="7.7" textLength="20.30" lengthAdjust="spacingAndGlyphs">MHC II</text>
<line x1="301.20" y1="110.00" x2="301.20" y2="100.30" stroke="#231f20" stroke-width="1.3"/>
<path d="M301.20 94.80L303.70 100.80L298.70 100.80Z" fill="#231f20"/>
<line x1="322.70" y1="113.40" x2="343.23" y2="90.08" stroke="#231f20" stroke-width="1.3"/>
<path d="M347.00 85.80L344.78 92.11L341.03 88.80Z" fill="#231f20"/>
<line x1="323.80" y1="139.00" x2="337.00" y2="139.00" stroke="#231f20" stroke-width="1.3"/>
<path d="M342.50 139.00L336.50 141.50L336.50 136.50Z" fill="#231f20"/>
<text x="349.30" y="16.50" font-size="7.3" textLength="59.60" lengthAdjust="spacingAndGlyphs">Donor 1 : Donor 2</text>
<text x="328.00" y="26.50" font-size="7.3" textLength="41.00" lengthAdjust="spacingAndGlyphs">WT (CD45.1</text>
<text x="373.00" y="23.50" font-size="6.0">+</text>
<text x="376.00" y="26.50" font-size="7.3" textLength="49.00" lengthAdjust="spacingAndGlyphs">) : WT (CD45.2</text>
<text x="431.50" y="23.50" font-size="6.0">+</text>
<text x="434.20" y="26.50" font-size="7.3">)</text>
<rect x="444.70" y="74.95" width="16.50" height="74.25" fill="#da9652"/>
<rect x="444.70" y="43.05" width="16.50" height="31.90" fill="#6c4a70"/>
<rect x="444.70" y="39.20" width="16.50" height="3.85" fill="#7bb26b"/>
<rect x="463.00" y="68.46" width="16.20" height="80.74" fill="#da9652"/>
<rect x="463.00" y="46.02" width="16.20" height="22.44" fill="#6c4a70"/>
<rect x="463.00" y="39.20" width="16.20" height="6.82" fill="#7bb26b"/>
<rect x="480.80" y="63.07" width="16.50" height="86.13" fill="#da9652"/>
<rect x="480.80" y="44.26" width="16.50" height="18.81" fill="#6c4a70"/>
<rect x="480.80" y="39.20" width="16.50" height="5.06" fill="#7bb26b"/>
<path d="M442.20 38.70V149.20H499.80" fill="none" stroke="#231f20" stroke-width="1.3"/>
<text x="434.70" y="151.80" font-size="7.3" text-anchor="end">0</text>
<text x="434.70" y="129.80" font-size="7.3" text-anchor="end">20</text>
<text x="434.70" y="107.80" font-size="7.3" text-anchor="end">40</text>
<text x="434.70" y="85.80" font-size="7.3" text-anchor="end">60</text>
<text x="434.70" y="63.80" font-size="7.3" text-anchor="end">80</text>
<text x="434.70" y="41.80" font-size="7.3" text-anchor="end">100</text>
<path d="M437.70 149.20H442.20M437.70 127.20H442.20M437.70 105.20H442.20M437.70 83.20H442.20M437.70 61.20H442.20M437.70 39.20H442.20M452.95 149.20V152.50M471.10 149.20V152.50M489.05 149.20V152.50" stroke="#231f20" stroke-width="0.9"/>
<text x="0" y="0" font-size="7.3" text-anchor="end" textLength="16" lengthAdjust="spacingAndGlyphs" transform="translate(455.61 156.40) rotate(-90)">Host</text>
<text x="0" y="0" font-size="7.3" text-anchor="end" textLength="28.9" lengthAdjust="spacingAndGlyphs" transform="translate(473.76 156.40) rotate(-90)">Donor 1</text>
<text x="0" y="0" font-size="7.3" text-anchor="end" textLength="28.9" lengthAdjust="spacingAndGlyphs" transform="translate(491.71 156.40) rotate(-90)">Donor 2</text>
<text x="0" y="0" font-size="9.4" text-anchor="middle" textLength="122.8" lengthAdjust="spacingAndGlyphs" transform="translate(416.30 93.10) rotate(-90)">Composition, % of CD45<tspan font-size="6" dy="-3.5">+</tspan><tspan dy="3.5"> cells</tspan></text>
<clipPath id="c6"><rect x="27.50" y="229.20" width="50.50" height="52.00"/></clipPath>
<g clip-path="url(#c6)">
<g filter="url(#sp)" fill="#000">
<ellipse rx="15.6" ry="10.8" fill="url(#gg)" opacity="0.45" transform="translate(62.0 245.5) rotate(-8)"/>
<ellipse rx="21.0" ry="14.4" fill="url(#gg)" opacity="0.33" transform="translate(62.0 245.5) rotate(-8)"/>
<ellipse rx="4.2" ry="18.0" fill="url(#gg)" opacity="0.65" transform="translate(37.5 268.0) rotate(0)"/>
<ellipse rx="10.5" ry="19.5" fill="url(#gg)" opacity="0.52" transform="translate(42.0 268.0) rotate(0)"/>
<ellipse rx="21.0" ry="18.0" fill="url(#gg)" opacity="0.36" transform="translate(50.0 270.0) rotate(0)"/>
<ellipse rx="30.0" ry="18.0" fill="url(#gg)" opacity="0.16" transform="translate(58.0 272.0) rotate(0)"/>
<ellipse rx="15.0" ry="15.0" fill="url(#gg)" opacity="0.08" transform="translate(43.0 250.0) rotate(0)"/>
</g>
<path transform="translate(27.50 229.20) scale(.5)" d="M0 0m70 8h1m-8 3h1m15 0h1m10 0h1m-8 2h1m-22 1h1m34 0h1m-21 2h1m6 0h1m-16 1h1m8 0h1m-20 2h1m15 0h1m-4 1h1m-32 1h1m51 0h1m-26 1h1m-5 1h1m12 0h1m1 0h1m11 0h1m-61 1h1m24 0h1m17 0h1m4 0h1m0 0h1m-1 2h1m7 0h1m-45 2h1m3 0h1m7 0h1m7 0h1m12 0h1m8 0h1m-32 1h1m1 0h1m8 0h1m0 0h1m21 0h1m-50 1h1m26 0h1m8 0h1m12 0h1m-69 1h1m53 0h1m3 0h1m6 0h1m9 0h1m-66 1h1m19 0h1m0 0h1m10 0h1m9 0h1m10 0h1m9 0h1m-34 1h1m7 0h1m2 0h1m0 0h1m3 0h1m-48 1h1m10 0h1m21 0h1m1 0h1m11 0h1m1 0h1m0 0h1m4 0h1m-43 1h1m0 0h1m3 0h1m21 0h1m-24 1h1m1 0h1m3 0h1m1 0h1m0 0h1m9 0h1m9 0h1m13 0h1m-26 1h1m2 0h1m0 0h1m1 0h1m-1 0h1m2 0h1m-20 1h1m7 0h1m15 0h1m-34 1h1m9 0h1m7 0h1m0 0h1m4 0h1m3 0h1m5 0h1m12 0h1m-44 1h1m17 0h1m3 0h1m7 0h1m6 0h1m-24 1h1m2 0h1m-17 1h1m15 0h1m14 0h1m-60 1h1m44 0h1m4 0h1m18 0h1m-43 1h1m10 1h1m8 0h1m1 0h1m-16 1h1m14 0h1m-19 1h1m2 0h1m-36 1h1m21 0h1m-20 1h1m27 0h1m10 0h1m-41 1h1m51 1h1m14 0h1m-58 1h1m21 0h1m-22 1h1m43 0h1m2 0h1m-65 1h1m5 0h1m3 0h1m9 0h1m-16 1h1m8 0h1m8 0h1m3 0h1m4 0h1m-16 1h1m-4 1h1m1 0h1m11 0h1m-21 1h1m2 0h1m20 2h1m-23 1h1m14 0h1m6 0h1m-31 1h1m18 0h1m-26 1h1m9 0h1m19 0h1m1 0h1m32 0h1m-69 1h1m16 0h1m22 0h1m31 0h1m-59 1h1m28 0h1m-35 1h1m0 0h1m-1 0h1m23 0h1m14 0h1m-41 1h1m12 0h1m6 0h1m1 0h1m0 0h1m0 0h1m17 0h1m-47 1h1m0 1h1m1 0h1m2 0h1m-1 0h1m4 0h1m4 0h1m2 0h1m-1 0h1m25 0h1m16 0h1m-55 1h1m-1 0h1m8 0h1m2 0h1m30 0h1m10 0h1m5 0h1m15 0h1m-80 1h1m8 0h1m11 0h1m9 0h1m11 0h1m-48 1h1m0 0h1m3 0h1m13 0h1m0 0h1m1 0h1m23 0h1m-40 1h1m29 0h1m-38 1h1m7 0h1m-11 1h1m2 0h1m8 0h1m0 0h1m4 0h1m5 0h1m0 0h1m18 0h1m6 0h1m8 0h1m-59 1h1m60 0h1m-48 1h1m0 0h1m2 0h1m4 0h1m28 0h1m18 0h1m-85 1h1m43 0h1m3 0h1m9 0h1m3 0h1m1 0h1m3 0h1m-52 1h1m11 0h1m2 0h1m11 0h1m17 0h1m17 0h1m5 0h1m6 0h1m-80 1h1m0 0h1m1 0h1m3 0h1m-1 0h1m7 0h1m9 0h1m3 0h1m18 0h1m-1 0h1m-1 0h1m1 0h1m-46 1h1m-1 0h1m9 0h1m18 0h1m10 0h1m-46 1h1m8 0h1m6 0h1m13 0h1m5 0h1m6 0h1m7 0h1m-53 1h1m7 0h1m2 0h1m3 0h1m8 0h1m2 0h1m2 0h1m2 0h1m8 0h1m-42 1h1m0 0h1m9 0h1m7 0h1m9 0h1m2 0h1m3 0h1m18 0h1m-57 2h1m1 0h1m18 0h1m5 0h1m0 0h1m5 0h1m8 0h1m8 0h1m-39 1h1m0 0h1m0 0h1m0 0h1m-7 1h1m6 0h1m2 0h1m5 0h1m30 0h1m-58 1h1m1 0h1m0 0h1m0 0h1m0 0h1m3 0h1m13 0h1m8 0h1m7 0h1m-43 1h1m1 0h1m3 0h1m4 0h1m4 0h1m9 0h1m2 0h1m20 0h1m-55 1h1m1 0h1m23 0h1m3 0h1m3 0h1m5 0h1m5 0h1m-30 1h1m19 0h1m0 0h1m6 0h1m-1 0h1m9 0h1m-33 1h1m5 0h1m27 0h1m-44 1h1m7 0h1m0 0h1m27 0h1m-47 1h1m19 0h1m7 0h1m25 0h1m-47 1h1m-1 0h1m7 0h1m8 0h1m20 0h1m-50 1h1m16 0h1m15 0h1m9 0h1m2 0h1m11 0h1m-43 1h1m40 0h1m-48 1h1m13 0h1m0 0h1m11 0h1m-15 1h1m16 0h1m12 0h1m11 0h1m-60 1h1m5 0h1m10 0h1m16 0h1m12 0h1m-52 1h1m5 0h1m36 0h1" stroke="#333" stroke-width="1" stroke-opacity="0.3"/>
<path d="M60 240.2l1-.2 1-.1 1-.1 1 .1 1 .2.5.1 1 .3.5.2.8.5.7.5.5.5.4.5.2.5.4 1 0 .5 0 .7-.2.8-.3.8-.5.7-.4.5-.5.5-.6.5-.5.3-.5.3-.8.4-.7.3-.6.2-.9.2-1 .2-1 0-1 0-1-.1-1-.2-.5-.1-1-.4-.5-.3-.5-.3-.6-.5-.5-.5-.4-.7-.4-.8-.1-.7 0-.8.1-.5.3-1 .3-.5.3-.5.5-.5.5-.5.6-.5.8-.5.6-.3.5-.2 1-.4.5-.1zM60.9 241.7l.6-.1 1-.1 1 .1.7.1.8.2.6.3.8.5.5.5.4.5.2.5.2 1-.2.8-.3.7-.4.5-.4.5-.7.5-.7.4-.5.3-1 .3-.5.1-1 .2-1 0-1-.1-.6-.2-.9-.3-.5-.3-.5-.4-.5-.5-.5-.9-.2-.6.1-1 .2-.5.4-.7.5-.6.5-.4.5-.4.8-.4.7-.3.9-.2zM61.2 243.2l.8-.1 1 0 .5.1 1 .4.5.5.4.6 0 1-.4.8-.5.5-.5.3-.9.4-.6.2-1 0-1-.1-.5-.2-.7-.4-.5-.5-.3-1 .4-1 .4-.5.6-.5.6-.3.7-.2z" fill="none" stroke="#666" stroke-width="0.55"/>
</g>
<clipPath id="c7"><rect x="95.00" y="229.20" width="50.50" height="51.30"/></clipPath>
<g clip-path="url(#c7)">
<g filter="url(#sp)" fill="#000">
<ellipse rx="17.4" ry="15.6" fill="url(#gg)" opacity="1.00" transform="translate(129.0 245.2) rotate(-20)"/>
<ellipse rx="24.0" ry="21.0" fill="url(#gg)" opacity="0.52" transform="translate(130.0 244.0) rotate(-20)"/>
<ellipse rx="7.8" ry="22.5" fill="url(#gg)" opacity="0.52" transform="translate(108.5 268.0) rotate(0)"/>
<ellipse rx="15.0" ry="15.0" fill="url(#gg)" opacity="0.39" transform="translate(111.5 269.0) rotate(0)"/>
<ellipse rx="19.5" ry="6.9" fill="url(#gg)" opacity="0.36" transform="translate(113.0 263.0) rotate(-20)"/>
<ellipse rx="30.0" ry="21.0" fill="url(#gg)" opacity="0.39" transform="translate(122.0 262.0) rotate(0)"/>
<ellipse rx="15.0" ry="15.0" fill="url(#gg)" opacity="0.16" transform="translate(105.0 252.0) rotate(0)"/>
</g>
<path transform="translate(95.00 229.20) scale(.5)" d="M0 0m65 3h1m7 0h1m15 0h1m-30 1h1m17 0h1m-16 1h1m25 0h1m-27 1h1m14 2h1m13 0h1m-20 2h1m8 0h1m-21 1h1m1 0h1m2 0h1m10 0h1m-21 1h1m-1 1h1m13 0h1m-37 1h1m14 0h1m18 0h1m2 0h1m10 0h1m-12 1h1m16 0h1m-48 1h1m0 0h1m9 0h1m14 0h1m-1 0h1m1 0h1m4 0h1m-1 0h1m17 0h1m-44 1h1m-1 0h1m37 0h1m-36 2h1m7 0h1m0 0h1m0 0h1m1 0h1m2 0h1m0 0h1m-1 0h1m-17 1h1m11 0h1m1 0h1m19 0h1m-53 1h1m13 0h1m3 0h1m11 0h1m2 0h1m0 0h1m0 0h1m1 0h1m0 0h1m5 0h1m0 0h1m-45 1h1m31 0h1m9 0h1m12 0h1m-49 1h1m15 0h1m2 0h1m5 0h1m7 0h1m7 0h1m-63 1h1m20 0h1m3 0h1m1 0h1m9 0h1m5 0h1m-1 0h1m0 0h1m8 0h1m0 0h1m1 0h1m1 0h1m6 0h1m0 0h1m-39 1h1m17 0h1m6 0h1m1 0h1m6 0h1m0 0h1m-36 1h1m9 0h1m2 0h1m0 0h1m29 0h1m-35 1h1m1 0h1m0 0h1m8 0h1m0 0h1m3 0h1m0 0h1m5 0h1m-1 0h1m-12 1h1m3 0h1m3 0h1m2 0h1m10 0h1m-49 1h1m10 0h1m1 0h1m3 0h1m1 0h1m2 0h1m2 0h1m-16 1h1m12 0h1m0 0h1m-1 0h1m0 0h1m2 0h1m2 0h1m8 0h1m-48 1h1m1 0h1m3 0h1m15 0h1m4 0h1m8 0h1m7 0h1m-45 1h1m13 0h1m9 0h1m21 0h1m-50 1h1m15 0h1m0 0h1m3 0h1m2 0h1m-1 0h1m2 0h1m1 0h1m-24 1h1m4 0h1m3 0h1m4 0h1m5 0h1m0 0h1m14 0h1m5 0h1m-54 1h1m14 0h1m16 0h1m0 0h1m-1 0h1m-1 0h1m9 0h1m2 0h1m-35 1h1m4 0h1m3 0h1m3 0h1m8 0h1m16 0h1m-40 1h1m7 0h1m2 0h1m0 0h1m2 0h1m0 0h1m10 0h1m-1 0h1m1 0h1m3 0h1m7 0h1m-56 1h1m33 0h1m1 0h1m11 0h1m3 0h1m-48 1h1m3 0h1m11 0h1m5 0h1m1 0h1m3 0h1m5 0h1m0 0h1m-1 0h1m21 0h1m-54 1h1m25 0h1m1 0h1m2 0h1m1 0h1m3 0h1m-44 1h1m11 0h1m7 0h1m10 0h1m0 0h1m4 0h1m0 0h1m0 0h1m-17 1h1m15 0h1m2 0h1m8 0h1m-62 1h1m52 0h1m11 0h1m4 0h1m-60 1h1m1 0h1m4 0h1m7 0h1m14 0h1m2 0h1m2 0h1m12 0h1m11 0h1m-57 1h1m6 0h1m2 0h1m14 0h1m1 0h1m2 0h1m6 0h1m9 0h1m-40 1h1m4 0h1m7 0h1m7 0h1m0 0h1m18 0h1m-43 1h1m21 0h1m1 0h1m4 0h1m2 0h1m1 0h1m2 0h1m1 0h1m-14 1h1m18 0h1m-66 1h1m10 0h1m32 0h1m18 0h1m0 0h1m-61 1h1m2 0h1m0 0h1m12 0h1m4 0h1m3 0h1m2 0h1m9 0h1m2 0h1m6 0h1m-31 1h1m5 0h1m2 0h1m9 0h1m10 0h1m-48 1h1m6 0h1m0 0h1m19 0h1m11 0h1m5 0h1m5 0h1m-51 1h1m1 0h1m16 0h1m2 0h1m5 0h1m5 0h1m-54 1h1m9 0h1m5 0h1m1 0h1m8 0h1m7 0h1m0 0h1m9 0h1m5 0h1m10 0h1m3 0h1m-67 1h1m10 0h1m2 1h1m10 0h1m3 0h1m5 0h1m10 0h1m16 0h1m-35 1h1m14 0h1m-25 1h1m34 0h1m-47 1h1m33 0h1m1 0h1m8 0h1m-45 1h1m4 0h1m-1 0h1m11 0h1m2 0h1m6 0h1m-38 1h1m4 0h1m6 0h1m0 0h1m3 0h1m27 0h1m19 0h1m-58 1h1m2 0h1m-21 1h1m12 0h1m10 0h1m-1 0h1m0 0h1m3 0h1m4 0h1m1 0h1m-27 1h1m0 0h1m7 0h1m6 0h1m14 0h1m-24 1h1m0 0h1m9 0h1m26 0h1m-44 1h1m1 0h1m2 0h1m-14 1h1m9 0h1m13 0h1m2 0h1m1 0h1m0 0h1m0 0h1m4 0h1m34 0h1m4 0h1m-78 1h1m9 0h1m6 0h1m2 0h1m0 0h1m28 0h1m26 0h1m6 0h1m-66 1h1m-14 1h1m7 0h1m0 0h1m17 0h1m11 0h1m-27 1h1m2 0h1m6 0h1m3 0h1m6 0h1m2 0h1m23 0h1m-68 1h1m6 0h1m0 0h1m6 0h1m8 0h1m14 0h1m13 0h1m-36 1h1m14 0h1m2 0h1m6 0h1m21 0h1m-61 1h1m1 0h1m-1 0h1m2 0h1m-1 0h1m2 0h1m4 0h1m3 0h1m12 0h1m-21 1h1m0 0h1m0 0h1m6 0h1m32 0h1m4 0h1m-41 1h1m0 0h1m38 0h1m-52 1h1m23 0h1m-34 1h1m3 0h1m6 0h1m-1 0h1m2 0h1m51 0h1m-57 1h1m9 0h1m10 0h1m2 0h1m7 0h1m12 0h1m-47 1h1m2 0h1m18 0h1m-24 1h1m6 0h1m2 0h1m3 0h1m16 0h1m-29 1h1m6 0h1m1 0h1m-14 1h1m25 0h1m-14 1h1m-9 1h1m2 0h1m1 0h1m37 0h1m-39 1h1m24 0h1m9 0h1m-44 1h1m61 0h1m-64 1h1m4 0h1m0 0h1m24 0h1m7 0h1m3 0h1m-37 1h1m3 0h1m-15 1h1m8 0h1m2 0h1m8 0h1m-15 1h1m58 0h1m-70 1h1m1 0h1m8 1h1m1 0h1m-1 0h1m4 1h1m-10 2h1m9 0h1m47 0h1m-60 1h1m-15 3h1m12 1h1m1 0h1m5 0h1" stroke="#333" stroke-width="1" stroke-opacity="0.3"/>
<defs><path id="p7" d="M127.5 237.2l1-.1 1-.1 1 .1 1 .1.5.1 1 .3.5.3.7.4.8.5.5.4.5.5.5.6.3.5.3.5.4.9.2.6.2 1 0 1-.1 1-.2 1-.2.5-.4 1-.3.5-.3.5-.4.5-.5.6-.5.4-.6.5-.7.5-.7.4-.5.3-.9.3-.6.2-1 .3-.6 0-.9.1-1 0-.5-.1-1-.2-.8-.3-.7-.3-.5-.2-.7-.5-.7-.5-.5-.5-.4-.5-.4-.5-.3-.5-.4-1-.2-.5-.2-1-.1-1 .1-1 .2-1 .1-.5.4-1 .3-.5.3-.5.5-.7.5-.6.5-.4.5-.5.5-.3.8-.5.7-.4.5-.2 1-.3.5-.2zM108.2 259.9l.8-.2 1 .1.5.2 1 .3.5.1 1 .2 1 .2.6.1.9.2.8.3.4.5 0 1-.2.5-.5.8-.4.7-.3.5-.3.6-.3.9-.2.7-.1.8-.2 1-.2.8-.2.7-.3.6-.5 1-.3.5-.3.5-.4.5-.5.6-.5.6-.5.4-.5.4-1 .4-1-.2-.5-.3-.5-.6-.5-.7-.3-.6-.2-.5-.4-1-.1-.5-.3-1.1-.2-.7-.2-.8-.2-1-.1-.5-.2-1 0-1 .2-.8.2-.7.3-.7.4-.8.3-.5.3-.5.5-.7.5-.5.5-.4.7-.4z"/></defs>
<use href="#p7" fill="none" stroke="#222" stroke-width="3.5" stroke-opacity="0.5" filter="url(#bl)"/>
<use href="#p7" fill="#c4c4c4" stroke="#3a3a3a" stroke-width="1.0" stroke-linejoin="round"/>
<path d="M127.2 240.3l.8-.3 1-.1 1 0 1 .2.6.2.9.4.5.4.5.5.5.6.3.6.2.5.3 1 0 1-.2 1-.2.5-.4.8-.5.7-.5.5-.5.4-.5.4-.5.2-1 .4-.5.2-1 .1-1 0-1-.2-.5-.1-.7-.4-.8-.5-.5-.5-.4-.5-.3-.5-.3-.6-.2-.9-.1-1 .2-1 .1-.5.5-1 .4-.5.4-.5.6-.5.6-.5.5-.2.7-.3zM108.3 262.9l.7-.3 1 0 .9.3.6.5.3.5 0 1-.2 1-.2.5-.3 1-.1.5-.3 1-.2.6-.4.9-.5.5-.6.4-.7-.4-.4-.5-.4-.7-.3-.8-.2-.6-.2-.9-.2-1 .1-1 .3-1 .3-.5.4-.5.6-.5z" fill="#a0a0a0"/>
<path d="M128.3 237.8l.7-.1 1 0 .8.1.7.1 1 .3.5.2.7.4.8.5.5.4.5.5.5.6.3.5.2.5.4 1 .2.5.1 1 0 1-.2 1-.1.5-.4.9-.3.6-.3.5-.4.6-.5.5-.5.5-.5.4-.7.5-.8.5-.5.2-.9.3-.6.2-1 .2-1 .1-1-.1-1-.2-.7-.2-.8-.3-.5-.2-.7-.5-.7-.5-.5-.5-.4-.5-.4-.5-.3-.6-.4-.9-.1-.5-.2-1 0-1 .2-1 .1-.5.3-1 .3-.5.3-.6.5-.7.5-.5.5-.5.5-.4.5-.4.8-.4.7-.4.5-.2 1-.3.8-.1zM107.7 260.9l.8-.4 1-.1 1 .2 1 .2.5.2 1 .2.6.2.9.3.5.2.5 1-.3 1-.2.5-.5.9-.3.6-.2.5-.3 1-.2.9-.1.6-.2 1-.2.6-.3.9-.3.6-.4.7-.5.7-.4.6-.5.5-.6.5-.5.2-1 .1-.7-.3-.6-.5-.3-.5-.4-.7-.3-.8-.2-.5-.3-1.1-.2-.8-.2-.7-.2-1-.1-.5-.2-1 0-1 .2-.9.2-.6.3-.8.4-.7.3-.5.4-.5.5-.5.6-.5zM127.1 238.8l.9-.3 1-.1 1 0 1 .1.9.3.6.2.6.3.7.5.7.5.4.5.4.5.3.5.4.8.2.7.2 1 0 1-.2 1-.2.6-.4.9-.3.5-.3.5-.5.6-.5.5-.5.4-.8.5-.7.4-.5.2-1 .4-.5.1-1 .1-1 0-1-.1-.5-.1-1-.4-.5-.2-.6-.4-.6-.5-.6-.5-.4-.5-.3-.5-.5-1-.2-.5-.2-1 0-1 .2-1 .2-.8.3-.7.3-.5.4-.7.5-.6.5-.5.5-.4.5-.4.9-.4.6-.3.6-.2zM108.2 261.4l.8-.3 1 0 1 .3.5.1 1 .4.5.2.6.3.4.5 0 1-.1.5-.4 1-.2.5-.3.8-.2.7-.2 1-.1.5-.3 1-.2.8-.3.7-.2.6-.5.7-.5.6-.5.5-.5.2-1 .1-.5-.2-.5-.5-.5-.8-.3-.6-.2-.6-.3-1-.2-.7-.2-.8-.2-1-.1-.5-.1-1 .1-1 .1-.5.3-1 .3-.5.3-.5.5-.6.5-.5.7-.4z" fill="none" stroke="#333" stroke-width="0.6"/>
<path d="M127.5 241.3l.5-.2 1-.2 1 .1 1 .2.5.2.5.4.6.5.4.5.5 1 .1.5 0 1-.1.7-.3.8-.3.5-.4.5-.6.5-.7.5-.7.3-.6.2-.9.2-1-.1-.6-.1-.9-.3-.5-.4-.5-.4-.5-.6-.4-.8-.2-.5 0-1 .1-.9.2-.6.3-.5.5-.7.5-.5.5-.3 1-.5zM109 263.9l.5 0 .5.2.4.8-.1 1-.3.9-.4.6-.5.5-.6 0-.4-.5-.2-.5-.2-1 .2-1 .3-.5.8-.5zM127.5 242.8l.5-.3 1-.2 1 .1.9.4.6.5.3.5.2.5.1 1-.1.6-.5.9-.5.5-.5.3-.5.3-1 .2-1-.1-.6-.2-.7-.5-.4-.5-.3-.5-.1-1 .1-.8.4-.7.4-.5.7-.5z" fill="none" stroke="#8a8a8a" stroke-width="0.45"/>
<path d="M128.1 243.8l.9-.3 1 .2.5.5.3.6-.1 1-.4.5-.8.5-.5.1-.7-.1-.8-.5-.2-.5 0-1 .2-.5.6-.5z" fill="#2a2a2a"/>
</g>
<clipPath id="c8"><rect x="27.50" y="296.30" width="50.50" height="51.20"/></clipPath>
<g clip-path="url(#c8)">
<g filter="url(#sp)" fill="#000">
<ellipse rx="16.2" ry="11.7" fill="url(#gg)" opacity="1.00" transform="translate(45.4 315.5) rotate(-20)"/>
<ellipse rx="30.9" ry="7.8" fill="url(#gg)" opacity="1.00" transform="translate(60.0 322.7) rotate(-52)"/>
<ellipse rx="16.5" ry="4.8" fill="url(#gg)" opacity="1.00" transform="translate(42.7 336.6) rotate(0)"/>
<ellipse rx="10.5" ry="13.5" fill="url(#gg)" opacity="1.00" transform="translate(63.0 337.5) rotate(10)"/>
<ellipse rx="39.0" ry="33.0" fill="url(#gg)" opacity="0.26" transform="translate(52.0 326.0) rotate(0)"/>
<ellipse rx="24.0" ry="18.0" fill="url(#gg)" opacity="0.39" transform="translate(45.0 315.0) rotate(-20)"/>
</g>
<path transform="translate(27.50 296.30) scale(.5)" d="M0 0m11 6h1m66 0h1m-7 2h1m-60 1h1m26 0h1m46 3h1m-15 2h1m-27 1h1m8 0h1m-46 2h1m70 1h1m13 0h1m-31 1h1m-23 1h1m-16 1h1m11 0h1m21 0h1m9 0h1m-4 1h1m-53 1h1m15 0h1m8 0h1m10 1h1m38 0h1m-60 1h1m18 0h1m0 0h1m-36 1h1m2 0h1m57 0h1m1 0h1m8 0h1m-58 1h1m14 0h1m29 0h1m-32 1h1m1 0h1m10 0h1m0 0h1m9 0h1m5 0h1m-38 1h1m40 0h1m2 0h1m1 0h1m-64 1h1m4 0h1m1 0h1m8 0h1m-1 0h1m12 0h1m16 0h1m-46 1h1m12 0h1m-1 0h1m1 0h1m6 0h1m6 0h1m29 0h1m-60 1h1m2 0h1m2 0h1m3 0h1m13 0h1m5 0h1m2 0h1m5 0h1m12 0h1m0 0h1m-66 1h1m3 0h1m18 0h1m1 0h1m5 0h1m1 0h1m32 0h1m0 0h1m12 0h1m-64 1h1m6 0h1m0 0h1m8 0h1m-1 0h1m2 0h1m2 0h1m24 0h1m-55 1h1m2 0h1m1 0h1m4 0h1m2 0h1m9 0h1m11 0h1m10 0h1m-1 0h1m5 0h1m3 0h1m-66 1h1m11 0h1m31 0h1m-32 1h1m3 0h1m10 0h1m13 0h1m8 0h1m-51 1h1m3 0h1m2 0h1m1 0h1m12 0h1m3 0h1m32 0h1m0 0h1m0 0h1m3 0h1m-70 1h1m14 0h1m9 0h1m10 0h1m-1 0h1m1 0h1m3 0h1m4 0h1m-43 1h1m10 0h1m0 0h1m38 0h1m4 0h1m0 0h1m6 0h1m17 0h1m-58 1h1m4 0h1m26 0h1m3 0h1m-1 0h1m-69 1h1m3 0h1m1 0h1m20 0h1m7 0h1m49 0h1m-62 1h1m12 0h1m5 0h1m9 0h1m12 0h1m-64 1h1m0 0h1m18 0h1m-1 0h1m4 0h1m2 0h1m12 0h1m10 0h1m2 0h1m-55 1h1m2 0h1m8 0h1m16 0h1m3 0h1m5 0h1m0 0h1m1 0h1m1 0h1m15 0h1m-56 1h1m0 0h1m7 0h1m1 0h1m0 0h1m3 0h1m0 0h1m16 0h1m17 0h1m-53 1h1m16 0h1m7 0h1m5 0h1m34 0h1m-60 1h1m0 0h1m3 0h1m7 0h1m3 0h1m-1 0h1m0 0h1m12 0h1m12 0h1m7 0h1m4 0h1m-59 1h1m19 0h1m37 0h1m-57 1h1m31 0h1m14 0h1m5 0h1m4 0h1m-60 1h1m2 0h1m3 0h1m9 0h1m6 0h1m5 0h1m8 0h1m13 0h1m-69 1h1m14 0h1m9 0h1m-1 0h1m16 0h1m2 0h1m-44 1h1m17 0h1m30 0h1m3 0h1m1 0h1m1 0h1m20 0h1m-69 1h1m16 0h1m-30 1h1m23 0h1m6 0h1m9 0h1m5 0h1m17 0h1m-30 1h1m1 0h1m-31 1h1m1 0h1m13 0h1m21 0h1m9 0h1m-22 1h1m0 0h1m1 0h1m-1 0h1m6 0h1m6 0h1m-1 0h1m7 0h1m0 0h1m-52 1h1m6 0h1m13 0h1m16 0h1m4 0h1m1 0h1m19 0h1m12 0h1m-98 1h1m0 0h1m29 0h1m18 0h1m10 0h1m-34 1h1m4 0h1m9 0h1m16 0h1m-1 0h1m2 0h1m-38 1h1m15 0h1m2 0h1m7 0h1m1 0h1m3 0h1m-1 0h1m2 0h1m-39 1h1m14 0h1m27 0h1m0 0h1m-33 1h1m9 0h1m1 0h1m-1 0h1m2 0h1m-1 0h1m11 0h1m-1 0h1m-59 1h1m34 0h1m18 0h1m-18 1h1m0 0h1m5 0h1m4 0h1m2 0h1m3 0h1m8 0h1m-13 1h1m1 0h1m-15 1h1m3 0h1m2 0h1m0 0h1m-22 1h1m15 0h1m3 0h1m-1 0h1m4 0h1m6 0h1m7 0h1m16 0h1m-51 1h1m-34 1h1m5 0h1m31 0h1m3 0h1m1 0h1m2 0h1m6 0h1m-1 0h1m-19 1h1m4 0h1m0 0h1m12 0h1m12 0h1m5 0h1m-44 1h1m7 0h1m9 0h1m10 0h1m-48 1h1m17 0h1m0 0h1m2 0h1m11 0h1m-46 1h1m3 0h1m30 0h1m29 0h1m7 0h1m-66 1h1m18 0h1m2 0h1m8 0h1m7 0h1m-1 0h1m16 0h1m14 0h1m-70 1h1m18 0h1m21 0h1m3 0h1m10 0h1m-66 1h1m7 0h1m13 0h1m19 0h1m1 0h1m1 0h1m0 0h1m3 0h1m4 0h1m6 0h1m-55 1h1m2 0h1m12 0h1m9 0h1m0 0h1m0 0h1m10 0h1m13 0h1m3 0h1m12 0h1m-80 1h1m0 0h1m15 0h1m4 0h1m11 0h1m15 0h1m5 0h1m-44 1h1m4 0h1m0 0h1m6 0h1m1 0h1m2 0h1m8 0h1m4 0h1m11 0h1m4 0h1m1 0h1m2 0h1m0 0h1m-67 1h1m4 0h1m13 0h1m29 0h1m0 0h1m3 0h1m5 0h1m-52 1h1m0 0h1m-1 0h1m-1 0h1m6 0h1m1 0h1m2 0h1m5 0h1m26 0h1m4 0h1m3 0h1m-66 1h1m0 0h1m18 0h1m7 0h1m3 0h1m1 0h1m17 0h1m13 0h1m-73 1h1m58 0h1m5 0h1m2 0h1m8 0h1m-67 1h1m0 0h1m56 0h1m2 0h1m-6 1h1m-13 1h1m-28 1h1m14 0h1m12 0h1m10 0h1m4 0h1m-45 1h1m45 0h1m1 0h1m-20 1h1m2 0h1m8 0h1m3 0h1m-47 1h1m23 0h1m12 0h1m-36 1h1m26 0h1m4 0h1m-10 1h1m7 0h1m6 1h1m-8 1h1m0 0h1m-12 1h1m-39 1h1m37 2h1" stroke="#333" stroke-width="1" stroke-opacity="0.3"/>
<path d="M46.4 307.3l.6 0 1 0 .8 0 .7.1 1 .2.7.2.8.4.5.2.7.4.6.6.6.5.4.5.3.5.4.8.2.7.2 1 0 1-.2 1-.2.6-.3.9-.3.5-.4.6-.5.7-.5.6-.5.5-.5.5-.5.4-.5.4-.5.3-.9.5-.6.3-.5.3-1 .4-.5.1-1 .3-.5.1-1 .2-1 .1-1 0-1 0-1-.2-.5-.1-1-.3-.5-.2-1-.5-.5-.3-.5-.4-.5-.5-.5-.6-.5-.7-.2-.5-.3-1-.1-.5 0-1 .1-.8.2-.7.3-1 .3-.5.2-.5.5-.7.5-.7.5-.5.5-.5.5-.4.5-.4.5-.4.7-.4.8-.5.5-.2.8-.4.7-.2.7-.3.8-.2 1-.2.9-.1zM62.4 328.9l.6-.1 1 0 .8.1.7.2.6.3.8.5.6.5.5.5.3.5.4.5.3.7.4.8.1.5.2 1.1.2 1 0 1-.1 1-.1 1-.2.6-.2.9-.3.6-.4.9-.3.5-.3.5-.5.6-.5.5-.5.5-.5.4-.8.5-.7.3-.6.2-.9.2-1 0-1-.2-.5-.1-.8-.4-.7-.5-.5-.4-.5-.6-.4-.5-.3-.5-.3-.6-.4-.9-.1-.5-.3-1-.2-.7-.3-.8-.2-.5-.5-.8-1 0-.5.3-.9.5-.6.2-.6.3-.9.3-.8.2-.7.1-1 .2-1 .2-.5 0-1 .1-1 .1-1 0-1 0-1 0-1 0-1-.1-1-.1-.5-.1-1-.1-1-.3-.5-.1-1-.3-.5-.2-.9-.4-.6-.5-.4-.5-.1-.5.2-.5.5-.5.8-.5.5-.2.9-.4.6-.1 1-.3.6-.1.9-.1 1-.2 1 0 1-.1 1 0 1 0 1 0 1 0 1 .1 1 .1 1 .2.5.1 1 .2 1 .2.5.2.9.4.6.2.5.3.8.5.7.5.9-.5.4-.5.4-.5.4-.6.4-.7.4-.8.3-.5.4-.5.4-.5.5-.5.5-.5.6-.5.9-.5.5-.2.9-.3zM44.6 306.8l.9-.1 1-.2 1 0 1 0 1 .1 1 .2.5.1 1 .3.5.2.9.4.6.4.5.4.5.5.5.5.5.7.3.6.2.5.3 1 .1 1 0 1-.2 1-.2.6-.3.9-.3.5-.4.7-.5.7-.5.6-.4.5-.5.5-.6.5-.5.4-.5.4-.5.3-.7.4-.8.4-.5.3-.8.3-.7.3-.8.2-.7.2-1 .2-.8.1-.7.1-1 0-1 0-.6-.1-.9-.1-1-.3-.5-.1-1-.4-.5-.3-.5-.3-.7-.5-.5-.5-.5-.5-.4-.5-.4-.8-.3-.7-.2-.8-.1-.7 0-1 .1-.8.2-.7.3-1 .2-.5.3-.5.5-.8.5-.7.5-.5.5-.5.5-.5.5-.4.5-.4.5-.4.6-.4.9-.5.5-.2.5-.3 1-.4.5-.1 1-.3.6-.2zM63.2 327.9l.8 0 .5.1 1 .2.6.2.9.5.5.4.5.5.5.5.5.6.3.5.2.5.5 1 .1.5.3 1 .1.9.1.7 0 1-.1 1 0 .5-.2 1-.3.9-.2.6-.3.7-.4.8-.3.5-.3.5-.5.7-.5.5-.5.5-.5.4-.6.4-.9.5-.5.2-1 .3-.5.1-1 0-.7-.1-.8-.2-.7-.3-.8-.4-.5-.4-.5-.5-.5-.5-.5-.7-.3-.5-.3-.5-.4-1-.2-.5-.3-1-.1-.5-.4-.9-.5-.5-1-.1-1 .2-1 .2-.5.2-1 .2-.8.2-.7.1-1 .2-1 .1-1 0-.5.1-1 0-1 0-1 0-1 0-.6 0-.9-.1-1-.1-1-.1-1-.2-.5-.1-1-.2-.9-.2-.6-.2-.7-.3-.8-.5-.5-.3-.5-.7-.1-.5.2-.5.5-.5.7-.5.7-.4.5-.2 1-.3.7-.2.8-.2 1-.1 1-.2.5 0 1-.1 1-.1 1 0 1-.1 1 0 1 .1 1 0 1 .1.9.1.6.1 1 .2 1 .2.5.1 1 .3.6.1.9.3 1 .3.5 0 .5-.2.5-.4.5-.5.5-.8.4-.7.3-.5.3-.5.5-.5.5-.6.5-.5.5-.4.7-.5.8-.4.5-.2 1-.3.7-.1z" fill="none" stroke="#666" stroke-width="0.5"/>
<defs><path id="p8" d="M45 309.4l.5-.2 1-.1 1 0 1 .1.6.2.9.2.6.3.9.5.5.4.5.5.4.6.3.5.3 1 0 .5 0 .9-.1.6-.3 1-.3.5-.3.5-.5.7-.5.5-.5.5-.5.4-.5.4-.8.5-.7.4-.5.2-1 .4-.5.1-1 .2-1 .1-1 .1-1-.1-1-.2-.7-.2-.8-.4-.5-.2-.5-.4-.5-.5-.5-.6-.5-.9-.1-.5-.1-1 0-1 .2-.6.4-.9.2-.5.4-.6.5-.6.5-.5.5-.5.5-.4.7-.4.8-.5.5-.3.7-.2.8-.3 1-.2zM62.7 330.9l.8 0 .7 0 .8.3.5.2.7.5.5.5.4.5.4.7.3.8.2.6.2 1 0 1 0 1-.2.9-.1.6-.4.9-.3.6-.3.5-.4.5-.5.6-.5.4-.7.5-.8.4-.5.1-1 .1-1-.1-.5-.2-.7-.3-.6-.5-.5-.5-.4-.5-.3-.6-.4-.9-.1-.5-.3-1-.1-1 0-1 .3-1 .2-.5.4-1 .3-.6.3-.5.4-.5.5-.5.5-.5.8-.5.7-.3.7-.2zM39.3 334.4l.7 0 1-.1 1-.1 1 0 1 0 1 .1 1 .1.5.1 1 .2 1 .2.5.2.9.4.6.4.4.6-.4.8-.5.4-.6.3-.9.3-.8.2-.7.1-1 .2-1 .1-1 0-.8.1-.7 0-.5 0-1-.1-1-.1-1-.1-1-.2-.5-.1-1-.3-.5-.1-.9-.5-.5-.5.2-1 .7-.5.5-.2.8-.3.7-.2 1-.2.8-.2z"/></defs>
<use href="#p8" fill="none" stroke="#222" stroke-width="3" stroke-opacity="0.6" filter="url(#bl)"/>
<use href="#p8" fill="#555" stroke="#222" stroke-width="1.25" stroke-linejoin="round"/>
<path d="M45.2 312.9l.8-.1 1 .1.5.1.6.4.5.5.3 1-.2 1-.3.5-.4.5-.6.5-.9.5-.5.1-1 .2-1 0-.9-.3-.6-.4-.4-.6-.2-.5.1-1 .2-.5.4-.5.5-.5.7-.5.7-.3.7-.2zM62.6 335.5l.9-.1.5.2.5.7.2.7-.1 1-.1.5-.5.6-.5.4-1 .1-.5-.2-.5-.7-.2-.7.1-1 .1-.5.5-.7.6-.3zM41.2 336l.8-.1 1-.1 1 .1.5.2.8.4-.3.5-1 .2-1 .1-1 0-1-.1-.7-.2.2-.8.7-.2z" fill="#6e6e6e"/>
</g>
<clipPath id="c9"><rect x="27.50" y="296.30" width="50.50" height="51.20"/></clipPath>
<g clip-path="url(#c9)">
<defs><path id="p9" d="M67.3 310.4l.7-.3 1-.2 1 .4.3.6 0 1-.1 1-.2.5-.3 1-.2.5-.4 1-.3.5-.3.6-.4.9-.3.5-.3.5-.5.8-.4.7-.3.5-.4.5-.4.6-.5.7-.5.7-.3.5-.4.5-.4.5-.4.5-.5.6-.5.7-.5.6-.5.5-.5.6-.5.5-.5.5-.4.5-.5.5-.5.5-.6.5-.5.5-.5.5-.5.4-.5.4-.5.4-.5.4-.8.4-.7.5-.5.2-.9.4-.6 0-.6 0-.5-.5-.2-1.1.1-1 .2-.9.2-.6.3-.9.2-.6.3-.5.5-1 .2-.5.3-.5.5-.9.4-.6.3-.5.3-.5.5-.8.5-.7.3-.5.4-.5.3-.5.5-.6.5-.7.5-.6.5-.6.4-.5.4-.5.4-.5.5-.5.4-.5.5-.5.4-.5.5-.5.5-.5.5-.5.6-.5.5-.5.6-.5.6-.5.6-.5.6-.5.5-.3.5-.3.8-.4z"/></defs>
<use href="#p9" fill="none" stroke="#222" stroke-width="3" stroke-opacity="0.6" filter="url(#bl)"/>
<use href="#p9" fill="#b4b4b4" stroke="#2e2e2e" stroke-width="1.25" stroke-linejoin="round"/>
<path d="M65.6 314.4l.5 0 .6.5 0 1-.2.8-.2.7-.3.6-.4.9-.3.5-.3.6-.5.8-.3.6-.4.5-.3.5-.5.7-.5.7-.5.6-.4.5-.4.5-.4.5-.5.5-.4.5-.5.5-.5.5-.5.5-.6.5-.6.5-.6.5-.6.4-.5.3-.8.3-.7.2-.5-.3-.2-.9.1-1 .2-.5.4-1 .2-.5.3-.6.5-.9.3-.5.3-.5.4-.6.5-.8.4-.6.4-.5.4-.5.4-.5.4-.5.5-.6.5-.6.5-.6.5-.5.5-.5.5-.5.5-.5.5-.4.5-.4.6-.4.8-.5.6-.3.6-.2z" fill="#9a9a9a"/>
<path d="M66.7 311.4l.8-.4 1-.1.8.5.2.6 0 .9-.1.5-.2 1-.2.5-.4 1-.2.5-.4.7-.4.8-.2.5-.4.6-.5.9-.3.5-.3.5-.4.5-.5.8-.5.7-.4.5-.3.5-.4.5-.4.5-.5.6-.5.7-.5.6-.5.5-.5.6-.5.5-.4.5-.5.5-.5.5-.5.5-.6.5-.5.5-.5.4-.5.5-.5.4-.5.3-.6.4-.9.5-.5.3-.8.2-.7.1-.5-.1-.5-.9 0-.6 0-.5.2-1 .3-.8.2-.7.3-.6.4-.9.3-.5.3-.6.5-.9.3-.5.3-.5.4-.7.5-.7.4-.6.3-.5.4-.5.4-.6.5-.7.5-.6.5-.6.4-.5.4-.5.4-.5.5-.5.4-.5.5-.5.4-.5.5-.5.5-.5.5-.5.6-.5.5-.5.6-.5.7-.5.6-.5.5-.4.5-.3.7-.3zM66.3 312.4l.7-.3 1 0 .5.6.1.7-.1.9-.1.6-.4 1-.2.5-.3.7-.4.8-.2.5-.4.6-.5.9-.3.5-.3.5-.4.6-.5.7-.5.7-.3.5-.4.5-.4.5-.4.6-.5.6-.5.6-.5.6-.5.5-.5.6-.5.5-.5.5-.5.5-.5.5-.5.5-.5.4-.5.4-.5.4-.5.4-.7.4-.8.5-.5.3-1 .2-.9-.5-.2-.5 0-1 .1-.5.3-1 .2-.5.4-1 .3-.5.3-.6.5-.9.2-.5.3-.5.5-.7.5-.8.3-.5.4-.5.3-.5.5-.6.5-.7.5-.7.4-.5.5-.5.4-.5.4-.5.5-.5.4-.5.5-.5.5-.5.5-.5.5-.5.6-.5.6-.5.6-.5.6-.5.5-.3.5-.4.8-.3z" fill="none" stroke="#333" stroke-width="0.6"/>
<path d="M63.2 317.4l.8-.2.5.7-.3 1-.2.6-.4.9-.3.5-.3.5-.5.8-.5.7-.4.5-.3.5-.4.5-.5.5-.4.5-.5.5-.5.5-.6.5-.6.5-.8.5-.5.3-.9-.3 0-1 .4-1 .2-.5.3-.6.5-.8.4-.6.3-.5.3-.5.5-.6.5-.6.5-.6.5-.6.5-.5.5-.5.5-.5.5-.4.5-.3.7-.4z" fill="none" stroke="#8a8a8a" stroke-width="0.45"/>
<path d="M61.1 320.4l.9-.3 0 .8-.2.5-.3.6-.5.7-.5.7-.4.5-.5.5-.6.5-.5.3-.6-.3.1-.5.5-1 .3-.5.4-.5.4-.5.4-.5.5-.5.6-.5z" fill="#2a2a2a"/>
</g>
<clipPath id="c10"><rect x="95.00" y="296.30" width="50.00" height="51.20"/></clipPath>
<g clip-path="url(#c10)">
<g filter="url(#sp)" fill="#000">
<ellipse rx="37.5" ry="12.0" fill="url(#gg)" opacity="0.72" transform="translate(121.0 315.0) rotate(0)"/>
<ellipse rx="6.9" ry="9.9" fill="url(#gg)" opacity="0.39" transform="translate(107.5 336.5) rotate(0)"/>
<ellipse rx="27.0" ry="24.0" fill="url(#gg)" opacity="0.08" transform="translate(115.0 328.0) rotate(0)"/>
</g>
<path transform="translate(95.00 296.30) scale(.5)" d="M0 0m67 9h1m-7 3h1m29 0h1m-11 1h1m-58 7h1m3 0h1m3 1h1m18 0h1m-33 1h1m4 0h1m20 0h1m12 0h1m8 0h1m-39 1h1m26 0h1m9 1h1m8 0h1m3 0h1m8 0h1m-62 1h1m13 0h1m1 0h1m2 0h1m16 0h1m17 0h1m-75 1h1m29 0h1m1 0h1m11 0h1m33 0h1m10 0h1m-88 1h1m13 0h1m7 0h1m11 0h1m17 0h1m6 0h1m0 0h1m10 0h1m-52 1h1m6 0h1m5 0h1m8 0h1m3 0h1m1 0h1m5 0h1m0 0h1m1 0h1m1 0h1m-67 1h1m19 0h1m24 0h1m8 0h1m10 0h1m14 0h1m3 0h1m3 0h1m-88 1h1m16 0h1m2 0h1m7 0h1m2 0h1m2 0h1m11 0h1m14 0h1m7 0h1m18 0h1m-72 1h1m2 0h1m13 0h1m16 0h1m-1 0h1m10 0h1m1 0h1m0 0h1m1 0h1m-56 1h1m1 0h1m14 0h1m5 0h1m0 0h1m2 0h1m3 0h1m0 0h1m15 0h1m0 0h1m-35 1h1m5 0h1m4 0h1m4 0h1m0 0h1m1 0h1m0 0h1m13 0h1m8 0h1m5 0h1m19 0h1m-95 1h1m15 0h1m2 0h1m8 0h1m5 0h1m9 0h1m0 0h1m0 0h1m5 0h1m-1 0h1m1 0h1m13 0h1m6 0h1m5 0h1m1 0h1m-82 1h1m1 0h1m6 0h1m-1 0h1m19 0h1m4 0h1m4 0h1m7 0h1m1 0h1m0 0h1m6 0h1m2 0h1m2 0h1m19 0h1m-73 1h1m10 0h1m4 0h1m3 0h1m1 0h1m12 0h1m-1 0h1m4 0h1m11 0h1m9 0h1m1 0h1m6 0h1m-70 1h1m2 0h1m3 0h1m3 0h1m-1 0h1m6 0h1m5 0h1m2 0h1m5 0h1m6 0h1m12 0h1m1 0h1m6 0h1m0 0h1m-68 1h1m2 0h1m0 0h1m18 0h1m-1 0h1m-1 0h1m9 0h1m1 0h1m2 0h1m1 0h1m10 0h1m0 0h1m0 0h1m5 0h1m6 0h1m1 0h1m5 0h1m0 0h1m-90 1h1m9 0h1m2 0h1m8 0h1m9 0h1m20 0h1m1 0h1m9 0h1m2 0h1m2 0h1m-1 0h1m1 0h1m7 0h1m-57 1h1m2 0h1m-1 0h1m7 0h1m5 0h1m5 0h1m1 0h1m9 0h1m2 0h1m3 0h1m11 0h1m-65 1h1m6 0h1m8 0h1m12 0h1m1 0h1m1 0h1m7 0h1m-1 0h1m10 0h1m3 0h1m12 0h1m-75 1h1m13 0h1m9 0h1m10 0h1m1 0h1m0 0h1m0 0h1m0 0h1m0 0h1m0 0h1m5 0h1m2 0h1m8 0h1m1 0h1m6 0h1m1 0h1m11 0h1m-93 1h1m23 0h1m8 0h1m4 0h1m1 0h1m18 0h1m4 0h1m9 0h1m15 0h1m-71 1h1m8 0h1m7 0h1m7 0h1m7 0h1m5 0h1m0 0h1m9 0h1m0 0h1m13 0h1m0 0h1m1 0h1m-1 0h1m-90 1h1m13 0h1m32 0h1m4 0h1m4 0h1m15 0h1m18 0h1m-84 1h1m8 0h1m2 0h1m17 0h1m9 0h1m3 0h1m-1 0h1m2 0h1m0 0h1m0 0h1m0 0h1m8 0h1m27 0h1m-77 1h1m2 0h1m15 0h1m3 0h1m1 0h1m5 0h1m3 0h1m11 0h1m9 0h1m6 0h1m-74 1h1m1 0h1m16 0h1m-1 0h1m2 0h1m13 0h1m8 0h1m5 0h1m10 0h1m4 0h1m4 0h1m6 0h1m-86 1h1m4 0h1m26 0h1m0 0h1m8 0h1m1 0h1m4 0h1m14 0h1m26 0h1m-60 1h1m11 0h1m5 0h1m5 0h1m7 0h1m2 0h1m1 0h1m3 0h1m-80 1h1m43 0h1m3 0h1m18 0h1m7 1h1m1 0h1m-1 0h1m-48 1h1m7 0h1m39 0h1m-47 1h1m-4 1h1m25 0h1m10 0h1m-47 1h1m15 0h1m21 0h1m-14 1h1m1 0h1m9 0h1m3 0h1m0 0h1m4 0h1m28 0h1m-27 1h1m-10 1h1m-21 1h1m-18 2h1m2 0h1m50 0h1m-22 1h1m-52 1h1m55 1h1m-12 1h1m18 1h1m-59 1h1m8 0h1m-10 1h1m4 1h1m7 1h1m4 0h1m-15 2h1m7 0h1m14 0h1m31 0h1m-54 1h1m0 0h1m9 0h1m1 0h1m48 0h1m-68 1h1m2 0h1m21 0h1m-18 1h1m4 0h1m20 1h1m-28 1h1m30 0h1m36 0h1m-63 1h1m4 0h1m-10 1h1m36 0h1m0 0h1m-28 3h1m-13 1h1m2 0h1m0 0h1m4 0h1m3 0h1m-4 1h1m-18 1h1m14 0h1m4 0h1m-13 1h1m3 0h1m3 2h1m-6 1h1m1 0h1m-10 1h1m37 0h1m-32 2h1m-15 1h1m14 4h1" stroke="#333" stroke-width="1" stroke-opacity="0.3"/>
<path d="M110 310.4l1-.2 1 0 1-.1 1 0 1-.1 1 0 1 0 1 0 1 0 1 0 1 0 1 0 1 0 1 0 1 0 1 0 1 0 1 .1 1 0 1 .1 1 0 1 .2.5 0 1 .2.7.3.8.3.5.3.5.5.4.9.1.5.1 1 0 1-.1 1 0 .5-.4 1-.4.5-.7.4-.5.2-1 .4-.5.1-1 .1-1 .2-1 0-1 .1-.5 0-1 0-1 .1-1 0-1 0-1 0-1 0-1 0-1 0-1 0-1 0-1 0-1 0-1 0-1-.1-1 0-.5 0-1-.1-1 0-1-.2-1-.1-.5-.1-1-.4-.5-.2-.7-.4-.4-.5-.4-1 0-.5-.1-1 0-1 .1-1 .1-.5.4-.9.5-.5.5-.3.8-.3.7-.3 1-.2.5 0zM107.1 332.9l.8 0 .6.3.5.4.5.7.3.7.2 1 0 .5 0 .5-.2 1-.3.7-.5.7-.5.4-.5.2-1 0-.5-.2-.5-.4-.5-.7-.3-.7-.2-1 0-.5 0-.5.2-1 .3-.7.5-.7.5-.4.6-.3zM112.3 310.9l.7-.1 1-.1 1 0 1 0 1 0 1 0 1 0 1 0 1 0 1 0 1 0 1 0 1 0 1 0 1 0 1 0 1 .1.7.1.8.1 1 .1.9.3.6.2.5.3.6.5.4 1 0 .5.1 1 0 1-.1.6-.3.9-.4.5-.7.5-.6.2-1 .3-.5.1-1 .1-1 .1-1 .1-1 0-1 0-1 0-1 0-1 0-1 0-1 0-1 0-1 0-1 0-1 0-1 0-1 0-1 0-1-.1-1-.1-1-.1-.5-.1-1-.3-.6-.2-.7-.5-.4-.5-.3-.9-.1-.6 0-1 .1-1 0-.5.4-1 .6-.5.5-.3.6-.2.9-.3 1-.1.8-.1zM106.9 335.5l.6-.4.6.4.3 1-.2 1-.7.4-.7-.4-.2-1 .3-1zM116 311.4l.5-.1 1 0 1 0 1 0 1 0 1 0 1 0 1 0 1 0 1 0 .5.1 1 0 1 .1 1 .1 1 .1.5.2 1 .4.5.4.4.7.1 1 0 1-.1 1-.4.9-.5.4-.5.3-1 .3-.7.1-.8.1-1 .1-1 0-1 0-1 .1-1 0-1 0-1 0-1 0-1 0-1 0-1 0-1-.1-1 0-1 0-1-.1-.8-.1-.7-.1-1-.3-.5-.3-.5-.4-.4-.9-.1-1 0-1 .1-1 .4-.7.5-.4 1-.4.5-.2 1-.1 1-.1 1-.1 1 0zM113.4 312.4l.6-.1 1-.2 1 0 1-.1 1 0 1 0 1 0 1 0 1 0 1 0 1 0 1 0 1 .1 1 0 1 .2.6.1.9.3.5.4.4.8 0 1 0 1-.3 1-.6.4-.5.2-1 .2-1 .2-.5 0-1 .1-1 0-1 0-1 0-1 0-1 0-1 0-1 0-1 0-1 0-1-.1-.5 0-1-.2-1-.2-.5-.2-.6-.4-.3-1 0-1 0-1 .4-.8.5-.4.9-.3z" fill="none" stroke="#555" stroke-width="0.55"/>
</g>
<path d="M27.50 229.30H78.20V280.30H27.50Z" fill="none" stroke="#b8b8b8" stroke-width="0.9"/>
<path d="M28.00 281.30H77.70" stroke="#555" stroke-width="1" stroke-dasharray="0.8 2.4" stroke-opacity="0.8"/>
<path d="M37.64 281.30h2.2" stroke="#222" stroke-width="1.1"/>
<path d="M26.20 269.21h1.3M26.20 258.13h1.3M26.20 247.04h1.3M26.20 235.95h1.3M26.20 273.30h1.3M26.20 271.30h1.3" stroke="#444" stroke-width="0.8"/>
<path d="M95.50 229.30H146.00V280.60H95.50Z" fill="none" stroke="#b8b8b8" stroke-width="0.9"/>
<path d="M96.00 281.60H145.50" stroke="#555" stroke-width="1" stroke-dasharray="0.8 2.4" stroke-opacity="0.8"/>
<path d="M105.60 281.60h2.2" stroke="#222" stroke-width="1.1"/>
<path d="M94.20 269.45h1.3M94.20 258.30h1.3M94.20 247.14h1.3M94.20 235.99h1.3M94.20 273.60h1.3M94.20 271.60h1.3" stroke="#444" stroke-width="0.8"/>
<path d="M27.50 296.30H78.20V347.60H27.50Z" fill="none" stroke="#b8b8b8" stroke-width="0.9"/>
<path d="M28.00 348.60H77.70" stroke="#555" stroke-width="1" stroke-dasharray="0.8 2.4" stroke-opacity="0.8"/>
<path d="M37.64 348.60h2.2" stroke="#222" stroke-width="1.1"/>
<path d="M26.20 336.45h1.3M26.20 325.30h1.3M26.20 314.14h1.3M26.20 302.99h1.3M26.20 340.60h1.3M26.20 338.60h1.3" stroke="#444" stroke-width="0.8"/>
<path d="M95.80 296.50H146.00V347.50H95.80Z" fill="none" stroke="#b8b8b8" stroke-width="0.9"/>
<path d="M96.30 348.50H145.50" stroke="#555" stroke-width="1" stroke-dasharray="0.8 2.4" stroke-opacity="0.8"/>
<path d="M105.84 348.50h2.2" stroke="#222" stroke-width="1.1"/>
<path d="M94.50 336.41h1.3M94.50 325.33h1.3M94.50 314.24h1.3M94.50 303.15h1.3M94.50 340.50h1.3M94.50 338.50h1.3" stroke="#444" stroke-width="0.8"/>
<path d="M35.00 237.50H70.50V256.20H35.00ZM51.80 237.50V256.20" fill="none" stroke="#707070" stroke-width="0.9"/>
<path d="M104.00 237.10H139.00V255.30H104.00ZM120.20 237.10V255.30" fill="none" stroke="#707070" stroke-width="0.9"/>
<path d="M104.50 304.50H139.50V323.70H104.50ZM120.50 304.50V323.70" fill="none" stroke="#707070" stroke-width="0.9"/>
<text x="36.50" y="236.90" font-size="7">2</text>
<text x="62.50" y="236.90" font-size="7" textLength="7.50" lengthAdjust="spacingAndGlyphs">62</text>
<text x="104.00" y="236.20" font-size="7" textLength="8.00" lengthAdjust="spacingAndGlyphs">&lt;1</text>
<text x="130.40" y="236.20" font-size="7" textLength="7.60" lengthAdjust="spacingAndGlyphs">64</text>
<text x="104.50" y="303.40" font-size="7" textLength="7.50" lengthAdjust="spacingAndGlyphs">55</text>
<text x="130.40" y="303.40" font-size="7" textLength="7.90" lengthAdjust="spacingAndGlyphs">40</text>
<text x="0" y="0" font-size="7.7" text-anchor="middle" transform="translate(21.01 254.50) rotate(-90)" textLength="16.40" lengthAdjust="spacingAndGlyphs">B220</text>
<text x="39.50" y="290.80" font-size="7.7" textLength="20.70" lengthAdjust="spacingAndGlyphs">MHC II</text>
<text x="0" y="0" font-size="7.7" text-anchor="middle" transform="translate(91.41 254.30) rotate(-90)" textLength="15.40" lengthAdjust="spacingAndGlyphs">B220</text>
<text x="108.70" y="290.80" font-size="7.7" textLength="20.30" lengthAdjust="spacingAndGlyphs">MHC II</text>
<text x="0" y="0" font-size="7.7" text-anchor="middle" transform="translate(21.01 323.80) rotate(-90)" textLength="22.30" lengthAdjust="spacingAndGlyphs">CD45.1</text>
<text x="37.60" y="358.10" font-size="7.7" textLength="24.20" lengthAdjust="spacingAndGlyphs">CD45.2</text>
<text x="0" y="0" font-size="7.7" text-anchor="middle" transform="translate(92.81 323.50) rotate(-90)" textLength="15.00" lengthAdjust="spacingAndGlyphs">B220</text>
<text x="108.70" y="358.10" font-size="7.7" textLength="20.30" lengthAdjust="spacingAndGlyphs">MHC II</text>
<line x1="47.20" y1="307.30" x2="47.20" y2="297.60" stroke="#231f20" stroke-width="1.3"/>
<path d="M47.20 292.10L49.70 298.10L44.70 298.10Z" fill="#231f20"/>
<line x1="68.70" y1="310.70" x2="89.23" y2="287.38" stroke="#231f20" stroke-width="1.3"/>
<path d="M93.00 283.10L90.78 289.41L87.03 286.10Z" fill="#231f20"/>
<line x1="69.80" y1="336.30" x2="83.00" y2="336.30" stroke="#231f20" stroke-width="1.3"/>
<path d="M88.50 336.30L82.50 338.80L82.50 333.80Z" fill="#231f20"/>
<text x="74.40" y="214.00" font-size="7.3" textLength="57.50" lengthAdjust="spacingAndGlyphs">Donor 1: Donor 2</text>
<text x="52.80" y="223.30" font-size="7.3" textLength="38.80" lengthAdjust="spacingAndGlyphs">WT (CD45.1</text>
<text x="98.10" y="220.20" font-size="6.0">+</text>
<text x="100.60" y="223.30" font-size="7.3" textLength="3.60" lengthAdjust="spacingAndGlyphs">):</text>
<text x="108.40" y="223.30" font-size="7.3" textLength="15.80" lengthAdjust="spacingAndGlyphs">Itgax</text>
<text x="128.20" y="220.00" font-size="6.0" textLength="6.10" lengthAdjust="spacingAndGlyphs">cre</text>
<text x="135.50" y="223.30" font-size="7.3" textLength="25.60" lengthAdjust="spacingAndGlyphs">H2-Ab1</text>
<text x="164.80" y="220.00" font-size="6.0">c</text>
<text x="169.70" y="223.30" font-size="7.3" textLength="26.20" lengthAdjust="spacingAndGlyphs">(CD45.2</text>
<text x="199.60" y="220.20" font-size="6.0">+</text>
<text x="203.20" y="223.30" font-size="7.3">)</text>
<rect x="192.10" y="275.99" width="16.80" height="70.61" fill="#da9652"/>
<rect x="192.10" y="240.41" width="16.80" height="35.58" fill="#6c4a70"/>
<rect x="192.10" y="236.98" width="16.80" height="3.43" fill="#7bb26b"/>
<rect x="210.30" y="276.76" width="16.50" height="69.84" fill="#da9652"/>
<rect x="210.30" y="245.71" width="16.50" height="31.05" fill="#6c4a70"/>
<rect x="210.30" y="236.98" width="16.50" height="8.73" fill="#7bb26b"/>
<rect x="228.50" y="244.06" width="16.50" height="102.54" fill="#da9652"/>
<rect x="228.50" y="237.43" width="16.50" height="6.63" fill="#6c4a70"/>
<rect x="228.50" y="236.98" width="16.50" height="0.44" fill="#7bb26b"/>
<path d="M189.50 235.60V346.60H247.50" fill="none" stroke="#231f20" stroke-width="1.3"/>
<text x="182.00" y="349.20" font-size="7.3" text-anchor="end">0</text>
<text x="182.00" y="327.10" font-size="7.3" text-anchor="end">20</text>
<text x="182.00" y="305.00" font-size="7.3" text-anchor="end">40</text>
<text x="182.00" y="282.90" font-size="7.3" text-anchor="end">60</text>
<text x="182.00" y="260.80" font-size="7.3" text-anchor="end">80</text>
<text x="182.00" y="238.70" font-size="7.3" text-anchor="end">100</text>
<path d="M185.00 346.60H189.50M185.00 324.50H189.50M185.00 302.40H189.50M185.00 280.30H189.50M185.00 258.20H189.50M185.00 236.10H189.50M200.50 346.60V349.90M218.55 346.60V349.90M236.75 346.60V349.90" stroke="#231f20" stroke-width="0.9"/>
<text x="0" y="0" font-size="7.3" text-anchor="end" textLength="16" lengthAdjust="spacingAndGlyphs" transform="translate(203.16 353.80) rotate(-90)">Host</text>
<text x="0" y="0" font-size="7.3" text-anchor="end" textLength="28.9" lengthAdjust="spacingAndGlyphs" transform="translate(221.21 353.80) rotate(-90)">Donor 1</text>
<text x="0" y="0" font-size="7.3" text-anchor="end" textLength="28.9" lengthAdjust="spacingAndGlyphs" transform="translate(239.41 353.80) rotate(-90)">Donor 2</text>
<text x="0" y="0" font-size="9.4" text-anchor="middle" textLength="122.8" lengthAdjust="spacingAndGlyphs" transform="translate(163.70 290.50) rotate(-90)">Composition, % of CD45<tspan font-size="6" dy="-3.5">+</tspan><tspan dy="3.5"> cells</tspan></text>
<clipPath id="c11"><rect x="282.50" y="229.20" width="51.30" height="51.80"/></clipPath>
<g clip-path="url(#c11)">
<g filter="url(#sp)" fill="#000">
<ellipse rx="17.4" ry="12.6" fill="url(#gg)" opacity="1.00" transform="translate(315.5 249.0) rotate(-5)"/>
<ellipse rx="23.4" ry="18.0" fill="url(#gg)" opacity="0.59" transform="translate(315.5 248.5) rotate(-5)"/>
<ellipse rx="13.5" ry="7.8" fill="url(#gg)" opacity="1.00" transform="translate(295.0 267.0) rotate(-70)"/>
<ellipse rx="27.0" ry="9.6" fill="url(#gg)" opacity="1.00" transform="translate(305.0 259.0) rotate(-35)"/>
<ellipse rx="36.0" ry="24.0" fill="url(#gg)" opacity="0.65" transform="translate(308.0 266.0) rotate(0)"/>
<ellipse rx="24.0" ry="18.0" fill="url(#gg)" opacity="0.45" transform="translate(318.0 262.0) rotate(0)"/>
<ellipse rx="15.0" ry="15.0" fill="url(#gg)" opacity="0.13" transform="translate(297.0 248.0) rotate(0)"/>
<ellipse rx="18.0" ry="12.0" fill="url(#gg)" opacity="0.59" transform="translate(297.0 267.0) rotate(-70)"/>
</g>
<path transform="translate(282.50 229.20) scale(.5)" d="M0 0m76 2h1m-9 1h1m19 3h1m-17 1h1m14 2h1m-42 3h1m23 1h1m0 0h1m-3 2h1m12 0h1m-33 1h1m1 0h1m6 0h1m21 2h1m-7 1h1m-3 1h1m-11 1h1m3 0h1m-32 1h1m39 0h1m-1 0h1m-27 1h1m-37 2h1m9 0h1m49 1h1m-62 1h1m45 0h1m13 1h1m-23 1h1m22 0h1m4 0h1m0 0h1m-26 1h1m13 0h1m7 0h1m-58 1h1m34 0h1m0 0h1m8 0h1m6 0h1m4 0h1m5 0h1m-48 1h1m6 0h1m21 0h1m11 0h1m-38 1h1m1 0h1m15 0h1m8 0h1m6 0h1m1 0h1m10 0h1m9 0h1m-47 1h1m2 0h1m-1 0h1m8 0h1m33 0h1m-50 1h1m20 0h1m-1 0h1m21 0h1m-72 1h1m34 0h1m8 0h1m2 0h1m20 0h1m-22 1h1m3 0h1m6 0h1m5 0h1m-54 1h1m11 0h1m12 0h1m4 0h1m0 0h1m1 0h1m-1 0h1m14 0h1m-40 1h1m15 0h1m1 0h1m13 0h1m2 0h1m6 0h1m1 0h1m-59 1h1m48 0h1m6 0h1m-1 0h1m12 0h1m-62 1h1m19 0h1m8 0h1m0 0h1m1 0h1m-13 1h1m4 0h1m18 0h1m-63 1h1m26 0h1m7 0h1m1 0h1m1 0h1m3 0h1m3 0h1m3 0h1m1 0h1m6 0h1m2 0h1m6 0h1m-39 1h1m10 0h1m3 0h1m12 0h1m0 0h1m6 0h1m-31 1h1m1 0h1m0 0h1m11 0h1m-1 0h1m1 0h1m-65 1h1m10 0h1m12 0h1m17 0h1m6 0h1m2 0h1m1 0h1m0 0h1m0 0h1m-1 0h1m29 0h1m-86 1h1m34 0h1m3 0h1m7 0h1m22 0h1m-40 1h1m0 0h1m9 0h1m7 0h1m1 0h1m2 0h1m15 0h1m1 0h1m-42 1h1m-1 0h1m10 0h1m0 0h1m15 0h1m23 0h1m-60 1h1m10 0h1m9 0h1m1 0h1m3 0h1m0 0h1m23 0h1m-66 1h1m14 0h1m3 0h1m8 0h1m23 0h1m6 0h1m-27 1h1m4 0h1m5 0h1m9 0h1m-43 1h1m1 0h1m3 0h1m7 0h1m0 0h1m6 0h1m8 0h1m0 0h1m3 0h1m-36 1h1m1 0h1m15 0h1m12 0h1m29 0h1m-75 1h1m7 0h1m9 0h1m6 0h1m15 0h1m-1 0h1m0 0h1m1 0h1m7 0h1m-45 1h1m13 0h1m1 0h1m9 0h1m19 0h1m16 0h1m-78 1h1m3 0h1m0 0h1m14 0h1m7 0h1m8 0h1m1 0h1m18 0h1m3 0h1m2 0h1m-49 1h1m-1 0h1m7 0h1m3 0h1m2 0h1m31 0h1m5 0h1m0 0h1m-50 1h1m11 0h1m4 0h1m0 0h1m2 0h1m0 0h1m12 0h1m24 0h1m4 0h1m-70 1h1m0 0h1m1 0h1m6 0h1m6 0h1m2 0h1m13 0h1m7 0h1m-49 1h1m2 0h1m1 0h1m23 0h1m10 0h1m-50 1h1m3 0h1m3 0h1m9 0h1m0 0h1m0 0h1m-1 0h1m20 0h1m2 0h1m2 0h1m21 0h1m-64 1h1m0 0h1m13 0h1m3 0h1m0 0h1m6 0h1m2 0h1m8 0h1m6 0h1m-57 1h1m9 0h1m5 0h1m0 0h1m6 0h1m12 0h1m3 0h1m1 0h1m14 0h1m-57 1h1m3 0h1m8 0h1m4 0h1m13 0h1m11 0h1m3 0h1m18 0h1m-62 1h1m3 0h1m5 0h1m0 0h1m-10 1h1m7 0h1m6 0h1m9 0h1m30 0h1m2 0h1m7 0h1m1 0h1m-78 1h1m3 0h1m0 0h1m6 0h1m1 0h1m10 0h1m10 0h1m4 0h1m16 0h1m4 0h1m2 0h1m6 0h1m-68 1h1m0 0h1m-1 0h1m3 0h1m7 0h1m0 0h1m8 0h1m17 0h1m20 0h1m-69 1h1m0 0h1m10 0h1m2 0h1m4 0h1m41 0h1m1 0h1m4 0h1m-1 0h1m3 0h1m1 0h1m2 0h1m-73 1h1m0 0h1m12 0h1m14 0h1m10 0h1m1 0h1m16 0h1m1 0h1m-1 0h1m-80 1h1m18 0h1m5 0h1m14 0h1m5 0h1m21 0h1m1 0h1m9 0h1m1 0h1m7 0h1m-87 1h1m25 0h1m1 0h1m4 0h1m4 0h1m0 0h1m12 0h1m11 0h1m-57 1h1m9 0h1m1 0h1m-1 0h1m31 0h1m-1 0h1m-45 1h1m8 0h1m1 0h1m8 0h1m5 0h1m13 0h1m-1 0h1m5 0h1m19 0h1m0 0h1m-54 1h1m3 0h1m21 0h1m27 0h1m1 0h1m5 0h1m-62 1h1m3 0h1m2 0h1m1 0h1m18 0h1m-45 1h1m8 0h1m8 0h1m0 0h1m19 0h1m-1 0h1m-8 1h1m28 0h1m11 0h1m4 0h1m-89 1h1m-1 0h1m7 0h1m8 0h1m4 0h1m6 0h1m19 0h1m2 0h1m15 0h1m17 0h1m-80 1h1m11 0h1m4 0h1m1 0h1m0 0h1m-6 1h1m8 0h1m17 0h1m2 0h1m0 0h1m-46 1h1m-1 0h1m0 0h1m2 0h1m4 0h1m0 0h1m4 0h1m9 0h1m32 0h1m23 0h1m-1 0h1m-62 1h1m2 0h1m7 1h1m-28 1h1m35 0h1m46 0h1m-73 1h1m19 0h1m23 0h1m-67 1h1m4 0h1m1 0h1m12 0h1m2 0h1m-1 0h1m-1 0h1m2 0h1m1 0h1m5 0h1m-16 1h1m0 0h1m6 0h1m45 0h1m16 0h1m-75 1h1m42 0h1m6 0h1m12 0h1m-83 1h1m6 0h1m6 0h1m1 0h1m19 0h1m13 0h1m8 1h1m9 0h1m12 0h1m-24 1h1m-45 1h1m37 0h1m7 0h1m-45 1h1m11 0h1m9 0h1m16 0h1m7 0h1m6 0h1m0 0h1m-50 1h1m0 0h1m45 0h1m-39 1h1m25 0h1m21 1h1m-46 1h1m-25 1h1m2 0h1m6 0h1m6 0h1m6 0h1m47 0h1m-52 1h1m26 0h1m-40 1h1m54 0h1" stroke="#333" stroke-width="1" stroke-opacity="0.3"/>
<defs><path id="p11" d="M315.2 242.8l1 0 .6 0 .9.1 1 .2.7.2.8.3.5.2.8.5.7.5.5.5.4.5.3.5.3.6.3.9.1 1-.2 1-.2.6-.4.9-.4.5-.4.5-.5.5-.7.5-.6.4-.5.3-.7.3-.8.4-.6.1-.9.2-1 .2-1 .1-1-.1-1-.1-1-.2-.5-.2-1-.3-.5-.3-.5-.3-.7-.5-.6-.5-.4-.5-.4-.5-.4-1-.2-.5-.1-1 .1-1 .2-.5.4-1 .4-.5.4-.5.5-.5.6-.5.7-.5.5-.3.5-.2 1-.4.5-.2 1-.2 1-.2.5 0zM295.9 260.4l.7-.1.6.1.9.4.5.6.3.5.2.5.3 1 .1 1 0 1-.2 1-.2 1-.1.5-.4 1-.2.5-.3.5-.5.9-.5.6-.4.5-.5.6-.6.4-.5.4-.5.2-1 .2-1-.2-.5-.2-.5-.5-.6-.8-.2-.6-.2-1-.1-.5 0-1 .1-.5.1-1 .2-1 .2-.5.4-1 .2-.5.4-.6.5-.8.4-.6.5-.5.5-.5.6-.4.5-.3.8-.3z"/></defs>
<use href="#p11" fill="none" stroke="#222" stroke-width="3" stroke-opacity="0.6" filter="url(#bl)"/>
<use href="#p11" fill="#c8c8c8" stroke="#2e2e2e" stroke-width="1.25" stroke-linejoin="round"/>
<path d="M313.9 246.8l.8-.2 1-.1 1 .1.7.2.8.5.5.5.2.5 0 1-.2.6-.5.6-.5.4-1 .4-.5.2-1 0-1-.1-.5-.2-.8-.4-.5-.5-.3-.5-.1-1 .2-.5.5-.7.5-.4.7-.4zM295.1 263.9l.5-.2.7.2.5.5.3.6.1.9-.1.9-.2.6-.3.9-.4.6-.4.5-.6.5-.6.3-1-.1-.5-.7-.2-.5-.1-1 .2-1 .1-.5.5-1 .3-.5.5-.5.7-.5z" fill="#b0b0b0"/>
<path d="M312.7 243.8l1-.3 1-.1 1-.1 1 0 1 .1 1 .3.5.1 1 .5.5.2.5.4.5.4.5.5.5.7.4.8.1.5.1 1-.1.8-.2.7-.3.6-.5.7-.5.6-.5.5-.5.3-.5.4-.9.4-.6.3-.9.2-.6.2-1 .1-1 .1-1 0-1-.2-.8-.2-.7-.2-.7-.3-.8-.4-.5-.4-.5-.4-.5-.5-.5-.8-.3-.5-.2-1 0-1 .2-1 .3-.5.5-.8.5-.6.5-.5.5-.4.5-.3.8-.4.7-.3.5-.2zM295.9 260.9l.7-.1.5.1.8.5.5.5.2.5.4 1 .1.8 0 .7 0 .6-.1.9-.2 1-.2.6-.4.9-.2.5-.4.8-.5.7-.4.5-.5.5-.6.5-.5.4-.5.2-1 .2-1-.2-.5-.4-.5-.6-.3-.6-.2-.7-.2-.8 0-1 .1-1 0-.5.3-1 .3-.8.2-.7.3-.5.5-.8.5-.7.4-.5.5-.5.6-.4.5-.3.8-.3zM313.3 244.3l.9-.2 1-.2 1 0 1 .1 1 .2.5.2 1 .4.5.3.5.3.5.5.5.6.5.8.2.5.1 1-.2 1-.2.5-.4.7-.5.7-.5.4-.5.4-.5.4-.9.4-.6.3-1 .2-.5.2-1 .1-1 0-1-.1-.7-.2-.8-.2-.7-.3-.8-.4-.5-.4-.5-.5-.5-.6-.4-.6-.1-.5-.2-1 .1-1 .2-.5.4-.6.5-.7.5-.5.5-.5.5-.3.7-.4.8-.3.6-.2zM294.8 261.9l.8-.4 1-.1 1 .5.4.5.3.5.3.9.1.6 0 1-.1 1-.1.5-.3 1-.2.5-.4 1-.3.5-.3.5-.4.5-.5.5-.6.5-.9.5-.5.2-1-.1-.5-.3-.5-.5-.5-.8-.2-.5-.1-1 0-1 .1-1 .2-.6.2-.9.3-.6.4-.9.3-.5.4-.5.4-.5.5-.5.7-.5z" fill="none" stroke="#333" stroke-width="0.6"/>
<path d="M314.6 246.3l.6-.1 1 0 .6.1.9.3.5.3.5.4.5.8.2.7-.2.8-.4.7-.5.5-.6.4-.5.3-1 .2-1 .1-1-.1-1-.4-.5-.3-.5-.4-.5-.8-.1-.5.1-.5.4-1 .5-.5.6-.5.5-.2.9-.3zM294.7 263.9l.9-.4 1 .3.5.6.1.5.1 1-.1 1-.1.5-.4 1-.3.5-.4.5-.5.5-.9.5-.5.1-.5-.2-.5-.5-.4-.9 0-1 .1-1 .3-.7.3-.8.3-.5.4-.5.6-.5zM315 247.8l.7-.1.5.1.8.5.2.5 0 .5-.5.6-1 .3-1-.1-.6-.3-.3-1 .4-.6.8-.4zM294.8 264.9l.8-.3.6.3.4 1-.1 1-.4 1-.3.5-.4.5-.8.5-.9-.5-.2-.5-.1-1 .2-.6.3-.9.4-.5.5-.5z" fill="none" stroke="#8a8a8a" stroke-width="0.45"/>
<path d="M294.9 265.9l.7 0 .2.5-.2 1-.4.5-.6.3-.4-.8.3-1 .4-.5z" fill="#2a2a2a"/>
</g>
<clipPath id="c12"><rect x="350.50" y="229.20" width="50.50" height="51.30"/></clipPath>
<g clip-path="url(#c12)">
<g filter="url(#sp)" fill="#000">
<ellipse rx="17.4" ry="12.6" fill="url(#gg)" opacity="1.00" transform="translate(384.0 249.0) rotate(-5)"/>
<ellipse rx="23.4" ry="18.0" fill="url(#gg)" opacity="0.59" transform="translate(384.0 248.5) rotate(-5)"/>
<ellipse rx="8.7" ry="13.5" fill="url(#gg)" opacity="1.00" transform="translate(363.0 265.7) rotate(-15)"/>
<ellipse rx="27.0" ry="9.6" fill="url(#gg)" opacity="1.00" transform="translate(373.0 258.0) rotate(-35)"/>
<ellipse rx="33.0" ry="24.0" fill="url(#gg)" opacity="0.62" transform="translate(378.0 265.0) rotate(0)"/>
<ellipse rx="24.0" ry="18.0" fill="url(#gg)" opacity="0.43" transform="translate(386.0 262.0) rotate(0)"/>
<ellipse rx="15.0" ry="15.0" fill="url(#gg)" opacity="0.13" transform="translate(364.0 248.0) rotate(0)"/>
<ellipse rx="13.5" ry="18.0" fill="url(#gg)" opacity="0.59" transform="translate(364.0 266.0) rotate(-15)"/>
</g>
<path transform="translate(350.50 229.20) scale(.5)" d="M0 0m29 8h1m31 0h1m1 2h1m33 1h1m-37 1h1m16 0h1m6 0h1m10 2h1m-59 4h1m40 0h1m-25 1h1m-21 2h1m25 0h1m15 0h1m-7 1h1m-33 1h1m24 0h1m27 0h1m-22 1h1m2 0h1m9 0h1m-18 1h1m2 0h1m-6 1h1m1 0h1m-40 1h1m22 0h1m18 0h1m14 0h1m2 0h1m-47 1h1m0 0h1m9 0h1m10 0h1m0 0h1m3 0h1m6 0h1m2 0h1m5 0h1m-48 1h1m23 0h1m1 0h1m22 0h1m-18 1h1m0 0h1m0 0h1m3 0h1m6 0h1m1 0h1m-68 2h1m33 0h1m15 0h1m7 0h1m10 0h1m-1 0h1m-70 1h1m3 0h1m49 0h1m-1 0h1m6 0h1m0 0h1m8 0h1m-57 1h1m31 0h1m0 0h1m7 0h1m-25 1h1m7 0h1m1 0h1m16 0h1m-29 1h1m7 0h1m6 0h1m5 0h1m6 0h1m-14 1h1m-1 0h1m1 0h1m0 0h1m4 0h1m-15 1h1m5 0h1m3 0h1m0 0h1m13 0h1m3 0h1m4 0h1m6 0h1m-47 1h1m1 0h1m6 0h1m0 0h1m6 0h1m1 0h1m0 0h1m4 0h1m-53 1h1m20 0h1m10 0h1m1 0h1m5 0h1m-31 1h1m11 0h1m9 0h1m0 0h1m1 0h1m1 0h1m-1 0h1m0 0h1m6 0h1m0 0h1m15 0h1m1 0h1m5 0h1m-61 1h1m9 0h1m7 0h1m2 0h1m17 0h1m-62 1h1m30 0h1m10 0h1m13 0h1m1 0h1m0 0h1m5 0h1m-60 1h1m12 0h1m6 0h1m11 0h1m3 0h1m4 0h1m5 0h1m4 0h1m5 0h1m0 0h1m-50 1h1m21 0h1m7 0h1m4 0h1m1 0h1m-1 0h1m-1 0h1m0 0h1m2 0h1m0 0h1m1 0h1m6 0h1m11 0h1m-72 1h1m28 0h1m1 0h1m6 0h1m5 0h1m10 0h1m7 0h1m-63 1h1m16 0h1m2 0h1m1 0h1m1 0h1m9 0h1m6 0h1m-1 0h1m8 0h1m0 0h1m-49 1h1m21 0h1m23 0h1m1 0h1m-36 1h1m4 0h1m0 0h1m11 0h1m2 0h1m-1 0h1m0 0h1m2 0h1m9 0h1m6 0h1m0 0h1m-67 1h1m28 0h1m12 0h1m17 0h1m-37 1h1m0 0h1m5 0h1m14 0h1m2 0h1m14 0h1m-35 1h1m3 0h1m14 0h1m7 0h1m-48 1h1m2 0h1m11 0h1m4 0h1m16 0h1m1 0h1m1 0h1m1 0h1m-1 0h1m4 0h1m-35 1h1m10 0h1m6 0h1m20 0h1m5 0h1m8 0h1m-87 1h1m10 0h1m18 0h1m0 0h1m0 0h1m5 0h1m16 0h1m11 0h1m-62 1h1m35 0h1m1 0h1m6 0h1m3 0h1m1 0h1m0 0h1m-1 0h1m-60 1h1m5 0h1m22 0h1m2 0h1m32 0h1m1 0h1m-60 1h1m5 0h1m10 0h1m18 0h1m0 0h1m1 0h1m5 0h1m5 0h1m4 0h1m1 0h1m-60 1h1m19 0h1m-1 0h1m17 0h1m31 0h1m4 0h1m-81 1h1m17 0h1m27 0h1m6 0h1m19 0h1m-61 1h1m2 0h1m0 0h1m0 0h1m-1 0h1m1 0h1m9 0h1m11 0h1m14 0h1m2 0h1m-58 1h1m2 0h1m11 0h1m17 0h1m-28 1h1m0 0h1m6 0h1m0 0h1m13 0h1m2 0h1m2 0h1m3 0h1m36 0h1m2 0h1m-1 0h1m-69 1h1m6 0h1m17 0h1m2 0h1m0 0h1m20 0h1m18 0h1m-75 1h1m9 0h1m6 0h1m1 0h1m0 0h1m5 0h1m9 0h1m3 0h1m-56 1h1m5 0h1m7 0h1m9 0h1m21 0h1m3 0h1m-39 1h1m8 0h1m1 0h1m1 0h1m2 0h1m3 0h1m12 0h1m5 0h1m9 0h1m18 0h1m12 0h1m-82 1h1m6 0h1m3 0h1m0 0h1m1 0h1m8 0h1m12 0h1m0 0h1m4 0h1m4 0h1m-33 1h1m-1 0h1m0 0h1m10 0h1m25 0h1m4 0h1m3 0h1m4 0h1m-78 1h1m15 0h1m25 0h1m13 0h1m-1 0h1m0 0h1m15 0h1m11 0h1m-81 1h1m10 0h1m18 0h1m19 0h1m5 0h1m-54 1h1m-1 0h1m5 0h1m7 0h1m-1 0h1m3 0h1m4 0h1m9 0h1m5 0h1m23 0h1m11 0h1m-81 1h1m8 0h1m17 0h1m1 0h1m2 0h1m-1 0h1m10 0h1m15 0h1m5 0h1m15 0h1m-71 1h1m5 0h1m3 0h1m2 0h1m3 0h1m8 0h1m6 0h1m6 0h1m-51 1h1m4 0h1m4 0h1m5 0h1m-1 0h1m3 0h1m0 0h1m16 0h1m2 0h1m6 0h1m9 0h1m23 0h1m-70 1h1m6 0h1m-1 0h1m1 0h1m-1 0h1m3 0h1m22 0h1m7 0h1m0 0h1m-37 1h1m3 0h1m3 0h1m1 0h1m8 0h1m-42 1h1m14 0h1m3 0h1m0 0h1m0 0h1m1 0h1m10 0h1m16 0h1m15 0h1m13 0h1m-84 1h1m7 0h1m11 0h1m2 0h1m0 0h1m2 0h1m27 0h1m-40 1h1m2 0h1m19 0h1m2 0h1m7 0h1m1 0h1m-18 1h1m0 0h1m7 0h1m5 0h1m2 0h1m-43 1h1m4 0h1m28 0h1m27 0h1m3 0h1m-71 1h1m12 0h1m1 0h1m37 0h1m4 0h1m-54 1h1m2 0h1m5 0h1m24 0h1m2 0h1m3 0h1m34 0h1m-79 1h1m11 0h1m26 0h1m16 0h1m-72 1h1m43 0h1m27 0h1m-64 1h1m5 0h1m1 0h1m9 0h1m13 0h1m18 0h1m9 0h1m-20 1h1m-36 1h1m7 0h1m17 0h1m8 0h1m6 0h1m1 0h1m3 0h1m5 0h1m-54 1h1m1 0h1m8 1h1m16 0h1m-15 1h1m6 0h1m-23 1h1m3 0h1m30 0h1m12 0h1m-9 1h1m-26 1h1m-1 1h1m3 0h1m14 0h1m1 0h1m0 0h1m-20 1h1m-14 1h1m10 0h1m16 1h1m31 1h1m4 0h1m-51 1h1m0 0h1" stroke="#333" stroke-width="1" stroke-opacity="0.3"/>
<defs><path id="p12" d="M383.7 242.8l.8-.1.8.1.7 0 1 .2.9.3.6.2.6.3.9.5.5.4.5.4.5.6.4.6.3.5.3 1 .1.5-.1 1-.1.5-.3 1-.3.5-.4.5-.4.5-.5.5-.7.5-.8.5-.5.3-.5.3-1 .3-.5.2-1 .2-1 .1-1 .1-1-.1-1-.1-1-.3-.5-.1-.9-.4-.6-.3-.5-.3-.5-.4-.6-.5-.4-.5-.5-.7-.3-.8-.2-.6-.1-.9.1-.8.2-.7.3-.7.5-.8.4-.5.5-.5.6-.5.5-.4.5-.3.7-.3.8-.4.5-.1 1-.3 1-.2.7 0zM361.7 258.9l.5 0 .8.1.8.4.7.4.5.5.5.5.4.6.3.5.3.5.5 1 .2.5.2 1 .1.5.2 1 0 1-.1 1-.1.7-.2.8-.3.6-.5.8-.5.5-.5.4-.7.3-.8.1-.7-.1-.8-.3-.5-.3-.6-.5-.6-.5-.4-.5-.4-.5-.5-.9-.3-.6-.2-.5-.3-1-.2-.7-.1-.8-.1-1 0-1 .2-1 .1-.5.4-1 .3-.5.4-.5.6-.5.7-.4.7-.1z"/></defs>
<use href="#p12" fill="none" stroke="#222" stroke-width="3" stroke-opacity="0.6" filter="url(#bl)"/>
<use href="#p12" fill="#c8c8c8" stroke="#2e2e2e" stroke-width="1.25" stroke-linejoin="round"/>
<path d="M382.4 246.8l.6-.2 1-.1 1 0 1 .3.5.3.5.5.4.7.1.5-.1.5-.4.9-.5.5-.5.3-.8.3-.7.2-1 0-1-.1-.5-.2-.6-.4-.5-.5-.4-1 .2-1 .3-.5.5-.5.9-.5zM362.2 262.4l.6 0 .7.3.5.4.5.6.4.7.2.5.2 1 0 1-.3 1-.3.5-.6.5-.6.2-.6-.2-.8-.5-.4-.5-.4-.5-.3-.7-.2-.8-.1-1 .1-1 .2-.5.5-.7.7-.3z" fill="#b0b0b0"/>
<path d="M381.2 243.8l.8-.2 1-.2 1-.1 1 0 1 .1 1 .2.6.2.9.3.5.3.6.4.6.5.5.5.4.5.4.7.3.8 0 1-.1 1-.2.6-.5.9-.4.5-.5.5-.6.5-.5.4-.5.3-.7.3-.8.3-.7.2-.8.2-1 .2-1 0-1 0-1-.2-.7-.2-.8-.2-.5-.3-.9-.5-.6-.4-.5-.4-.5-.6-.3-.6-.3-.5-.2-1 0-1 .2-1 .3-.5.3-.6.5-.6.5-.5.5-.4.5-.4.9-.5.6-.3.7-.2zM360.5 259.9l.5-.3 1-.2 1 .1.7.4.8.5.5.5.4.5.4.5.3.5.4.8.3.7.2.7.2.8.1 1 0 1-.1 1-.2 1-.2.5-.3.6-.5.6-.5.4-1 .5-.5 0-.6 0-.9-.3-.5-.3-.6-.5-.5-.5-.4-.5-.5-.7-.4-.8-.2-.5-.4-1-.1-.5-.2-1 0-1 0-1 .2-1 .1-.5.5-1 .4-.5.6-.5zM381.8 244.3l.7-.2 1-.1 1-.1 1 .1 1 .2.5.1 1 .4.5.2.6.4.6.5.4.5.4.6.4.9.1 1-.2 1-.3.8-.5.7-.4.5-.6.5-.5.4-.5.3-.7.3-.8.3-.8.2-.7.2-1 .1-1 0-1-.1-.5-.2-1-.3-.5-.2-.9-.5-.6-.4-.5-.5-.4-.6-.3-.5-.2-1-.1-1 .3-1 .3-.5.4-.6.5-.6.5-.4.5-.4.9-.5.6-.3.8-.2zM360.8 260.4l.7-.3 1-.1 1 .4.5.2.5.4.5.6.5.6.4.7.2.5.4.9.2.6.2 1 0 1 0 1-.3 1-.1.5-.5.8-.5.6-.5.3-1 .3-1-.1-.7-.4-.7-.5-.5-.5-.4-.5-.4-.5-.3-.6-.4-.9-.1-.5-.3-1-.1-1 0-1 .1-1 .3-.8.4-.7.3-.5.6-.5z" fill="none" stroke="#333" stroke-width="0.6"/>
<path d="M383.1 246.3l.9-.1 1 0 .5.1 1 .4.5.4.5.6.3.6 0 1-.3.7-.5.6-.5.4-.5.3-1 .4-1 .1-1 0-1-.3-.5-.2-.6-.5-.4-.5-.4-1 .2-1 .3-.5.4-.5.8-.5.7-.3.6-.2zM361.6 262.4l.9-.3.9.3.6.4.5.6.3.5.2.5.3 1 .2 1-.1 1-.4 1-.5.5-.5.3-1 0-.5-.3-.6-.5-.4-.5-.5-.8-.2-.7-.2-1 0-1 .2-1 .3-.5.5-.5zM383.4 247.8l.6-.1.7.1.8.5.2.5-.2.8-.5.4-1 .3-1-.2-.5-.4-.2-.9.3-.5.8-.5zM362.2 263.4l.8-.1.5.3.5.5.4.8.2.5.1 1-.2.8-.5.7-.5.2-.8-.2-.6-.5-.3-.5-.3-.7-.2-.8.1-1 .2-.5.6-.5z" fill="none" stroke="#8a8a8a" stroke-width="0.45"/>
<path d="M362.3 264.9l.7-.4.5.4.3 1-.3 1-.5 0-.5-.4-.3-.6.1-1z" fill="#2a2a2a"/>
</g>
<clipPath id="c13"><rect x="282.50" y="296.25" width="51.30" height="51.30"/></clipPath>
<g clip-path="url(#c13)">
<g filter="url(#sp)" fill="#000">
<ellipse rx="24.9" ry="10.2" fill="url(#gg)" opacity="1.00" transform="translate(300.0 314.0) rotate(-35)"/>
<ellipse rx="28.5" ry="9.6" fill="url(#gg)" opacity="1.00" transform="translate(314.5 320.5) rotate(-57)"/>
<ellipse rx="11.4" ry="15.0" fill="url(#gg)" opacity="1.00" transform="translate(318.5 336.5) rotate(10)"/>
<ellipse rx="18.0" ry="6.0" fill="url(#gg)" opacity="0.72" transform="translate(294.0 337.0) rotate(0)"/>
<ellipse rx="36.0" ry="33.0" fill="url(#gg)" opacity="0.65" transform="translate(307.0 322.0) rotate(0)"/>
<ellipse rx="33.0" ry="16.5" fill="url(#gg)" opacity="0.72" transform="translate(300.0 314.0) rotate(-35)"/>
<ellipse rx="16.5" ry="21.0" fill="url(#gg)" opacity="0.65" transform="translate(318.0 336.0) rotate(10)"/>
<ellipse rx="36.0" ry="15.0" fill="url(#gg)" opacity="0.65" transform="translate(314.5 320.5) rotate(-57)"/>
</g>
<path transform="translate(282.50 296.25) scale(.5)" d="M0 0m63 1h1m-15 2h1m3 1h1m30 0h1m-74 1h1m63 1h1m-24 1h1m-3 1h1m23 0h1m14 1h1m-55 1h1m28 0h1m-22 1h1m10 0h1m1 0h1m-7 1h1m11 0h1m-10 1h1m29 0h1m10 0h1m-15 1h1m-56 1h1m40 0h1m-8 1h1m10 0h1m16 0h1m-1 0h1m10 0h1m-70 2h1m5 0h1m0 0h1m40 0h1m-45 1h1m3 0h1m6 0h1m1 0h1m1 0h1m22 0h1m12 0h1m-82 1h1m21 0h1m6 0h1m10 0h1m0 0h1m20 0h1m14 0h1m-45 1h1m10 0h1m28 0h1m8 0h1m-49 1h1m9 0h1m6 0h1m15 0h1m7 0h1m-1 0h1m-63 1h1m19 0h1m1 0h1m3 0h1m29 0h1m2 0h1m7 0h1m-81 1h1m23 0h1m19 0h1m11 0h1m21 0h1m-71 1h1m24 0h1m14 0h1m10 0h1m4 0h1m14 0h1m3 0h1m-84 1h1m6 0h1m67 0h1m9 0h1m6 0h1m-79 1h1m10 0h1m4 0h1m25 0h1m6 0h1m-53 1h1m4 0h1m7 0h1m11 0h1m28 0h1m-23 1h1m0 0h1m3 0h1m3 0h1m10 0h1m5 0h1m1 0h1m-1 0h1m9 0h1m-77 1h1m5 0h1m10 0h1m59 0h1m-80 1h1m24 0h1m6 0h1m-1 0h1m4 0h1m10 0h1m14 0h1m-1 0h1m-48 1h1m37 0h1m5 0h1m11 0h1m-61 1h1m13 0h1m0 0h1m14 0h1m-30 1h1m-1 0h1m-1 0h1m4 0h1m4 0h1m6 0h1m6 0h1m2 0h1m-32 1h1m3 0h1m5 0h1m1 0h1m18 0h1m0 0h1m0 0h1m7 0h1m0 0h1m2 0h1m2 0h1m4 0h1m3 0h1m-65 1h1m5 0h1m15 0h1m21 0h1m10 0h1m8 0h1m17 0h1m-71 1h1m6 0h1m8 0h1m6 0h1m5 0h1m9 0h1m16 0h1m-57 1h1m3 0h1m5 0h1m16 0h1m31 0h1m-53 1h1m14 0h1m12 0h1m18 0h1m4 0h1m-63 1h1m1 0h1m7 0h1m5 0h1m3 0h1m-1 0h1m4 0h1m6 0h1m0 0h1m8 0h1m4 0h1m10 0h1m7 0h1m-60 1h1m2 0h1m13 0h1m6 0h1m8 0h1m-51 1h1m0 0h1m20 0h1m1 0h1m0 0h1m7 0h1m9 0h1m1 0h1m9 0h1m-1 0h1m0 0h1m12 0h1m-60 1h1m2 0h1m6 0h1m2 0h1m1 0h1m22 0h1m18 0h1m-61 1h1m6 0h1m9 0h1m7 0h1m1 0h1m24 0h1m5 0h1m8 0h1m9 0h1m-56 1h1m8 0h1m16 0h1m6 0h1m-56 1h1m1 0h1m16 0h1m9 0h1m5 0h1m0 0h1m28 0h1m4 0h1m3 0h1m-53 1h1m13 0h1m15 0h1m3 0h1m12 0h1m12 0h1m-73 1h1m12 0h1m1 0h1m15 0h1m14 0h1m9 0h1m-42 1h1m14 0h1m6 0h1m8 0h1m8 0h1m-40 1h1m21 0h1m0 0h1m37 0h1m-80 1h1m-1 0h1m7 0h1m36 0h1m15 0h1m-68 1h1m2 0h1m15 0h1m7 0h1m4 0h1m4 0h1m0 0h1m1 0h1m4 0h1m-1 0h1m2 0h1m18 0h1m-73 1h1m1 0h1m8 0h1m30 0h1m13 0h1m1 0h1m2 0h1m8 0h1m0 0h1m1 0h1m6 0h1m-65 1h1m6 0h1m15 0h1m1 0h1m1 0h1m-38 1h1m19 0h1m9 0h1m6 0h1m4 0h1m2 0h1m-49 1h1m32 0h1m7 0h1m5 0h1m2 0h1m1 0h1m-1 0h1m9 0h1m-71 1h1m7 0h1m32 0h1m19 0h1m-1 0h1m2 0h1m-59 1h1m5 0h1m10 0h1m1 0h1m10 0h1m6 0h1m10 0h1m0 0h1m4 0h1m15 0h1m0 0h1m-73 1h1m1 0h1m6 0h1m-1 0h1m17 0h1m3 0h1m19 0h1m6 0h1m-56 1h1m6 1h1m24 0h1m2 0h1m-1 0h1m5 0h1m0 0h1m1 0h1m0 0h1m3 0h1m22 0h1m-22 1h1m3 0h1m23 0h1m-82 1h1m21 0h1m0 0h1m21 0h1m-54 1h1m9 0h1m18 0h1m16 0h1m7 0h1m15 0h1m5 0h1m4 0h1m1 0h1m-74 1h1m29 0h1m0 0h1m0 0h1m3 0h1m9 0h1m4 0h1m18 0h1m-67 1h1m23 0h1m6 0h1m4 0h1m7 0h1m13 0h1m-72 1h1m6 0h1m35 0h1m38 0h1m-50 1h1m10 0h1m2 0h1m9 0h1m29 0h1m-35 1h1m11 0h1m-1 0h1m-40 1h1m1 0h1m1 0h1m2 0h1m34 0h1m2 0h1m8 0h1m-35 1h1m1 0h1m2 0h1m8 0h1m-1 0h1m16 0h1m5 0h1m-44 1h1m14 0h1m8 0h1m0 0h1m5 0h1m3 0h1m-48 1h1m17 0h1m-4 1h1m8 0h1m1 0h1m8 0h1m0 0h1m3 0h1m-1 0h1m4 0h1m11 0h1m-59 1h1m22 0h1m35 0h1m-84 1h1m19 0h1m15 0h1m18 0h1m4 0h1m2 0h1m-1 0h1m2 0h1m-29 1h1m6 0h1m13 0h1m5 0h1m2 0h1m-64 1h1m18 0h1m38 0h1m4 0h1m1 0h1m2 0h1m-55 1h1m32 0h1m2 0h1m2 0h1m3 0h1m5 0h1m-52 1h1m-9 1h1m0 0h1m16 0h1m0 0h1m4 0h1m1 0h1m0 0h1m0 0h1m10 0h1m3 0h1m0 0h1m2 0h1m5 0h1m-63 1h1m23 0h1m24 0h1m14 0h1m17 0h1m1 0h1m-70 1h1m1 0h1m-1 0h1m12 0h1m4 0h1m-1 0h1m9 0h1m24 0h1m-77 1h1m19 0h1m12 0h1m42 0h1m3 0h1m-64 1h1m41 0h1m-35 1h1m28 0h1m-1 0h1m-7 1h1m-1 0h1m10 0h1m15 0h1m-1 0h1m-34 1h1m25 0h1m2 0h1m-29 1h1m25 0h1m13 0h1m-48 1h1m-17 1h1m12 0h1m17 0h1m5 0h1m6 1h1m21 0h1m-55 1h1m25 0h1m17 0h1m3 0h1m-53 1h1m34 0h1m0 0h1m-1 1h1m7 0h1m1 0h1m0 0h1m-40 1h1m0 0h1m10 0h1m26 0h1m9 0h1m-19 1h1m22 0h1m-39 1h1m10 0h1m13 0h1m-30 1h1" stroke="#333" stroke-width="1" stroke-opacity="0.3"/>
<path d="M308.7 303.3l1 0 .6 0 .9.1 1 .4.5.3.5.5.4.7.1.5.1 1-.1.7-.2.8-.3.9-.3.6-.3.5-.4.8-.5.7-.4.5-.4.5-.4.6-.4.5-.5.5-.4.5-.5.5-.5.5-.6.5-.5.5-.6.5-.6.5-.7.5-.6.4-.5.4-.5.4-.5.3-.7.5-.8.5-.5.3-.5.2-.8.5-.7.4-.5.2-.9.4-.6.3-.6.2-.9.4-.5.1-1 .3-.9.2-.6.2-1 .1-1.1 0-1 0-1-.2-.5-.2-.6-.4-.5-.5-.4-.5-.3-1 0-1 .2-1 .2-.5.4-1 .3-.5.2-.5.5-.8.5-.7.4-.5.4-.5.4-.5.5-.5.4-.5.5-.6.5-.5.5-.5.6-.5.6-.5.6-.5.6-.5.6-.4.5-.4.5-.3.5-.4.7-.5.8-.5.5-.3.5-.3.7-.4.8-.4.5-.3.7-.3.8-.3.5-.3 1-.3.5-.2 1-.3.5-.2 1-.2 1.1-.2.5 0zM317.2 327.4l1-.2 1-.1 1 .1.9.2.6.3.5.3.6.4.6.5.4.5.4.7.5.8.3.6.2.7.3.8.2 1 .1.9 0 .6 0 .8-.1.7-.2 1-.2 1-.2.5-.3 1-.3.5-.3.5-.5.9-.5.6-.4.5-.5.5-.6.5-.5.4-.5.2-.9.4-.6.2-1 .2-1 0-1-.2-.5-.2-.9-.5-.6-.4-.5-.5-.5-.6-.4-.5-.3-.5-.3-.6-.4-.9-.1-.5-.3-1-.1-1-.1-1 .1-1 .1-1 .2-1 .1-.5.3-1 .3-.5.4-.9.4-.6.3-.6.4-.5.4-.5.5-.5.7-.5.7-.5.6-.3.5-.2zM307.5 302.3l.7-.1 1-.2 1-.1 1 0 1 .1 1 .3.5.2.5.3.5.5.5.7.2.8.1 1-.1 1-.2.8-.2.7-.3.6-.5.9-.2.5-.4.5-.4.7-.5.7-.5.6-.4.6-.4.5-.5.5-.4.5-.5.5-.5.5-.6.5-.5.5-.6.5-.6.5-.6.4-.5.4-.5.4-.5.4-.5.4-.7.5-.8.5-.5.3-.5.3-.6.4-.9.5-.5.3-.5.3-.9.4-.6.3-.5.3-1 .4-.5.2-.9.3-.6.2-1 .3-.5.2-1 .2-.7.1-.9.1-1 .1-1 0-1-.2-.5-.1-.8-.4-.7-.5-.4-.5-.3-.5-.3-1 0-.5 0-.6.2-.9.3-1 .2-.5.3-.8.4-.7.3-.5.3-.5.5-.7.5-.7.5-.6.5-.5.4-.5.5-.5.4-.6.5-.5.6-.5.5-.5.6-.5.5-.5.6-.4.5-.4.5-.4.5-.4.5-.4.7-.5.8-.5.5-.3.5-.4.5-.3.9-.5.6-.3.5-.3.7-.4.8-.4.5-.2.9-.4.6-.3.6-.2.9-.3.6-.2.9-.3.9-.2zM318.2 325.9l1-.1 1 .1.5.1 1 .3.5.3.6.3.7.5.5.5.5.5.3.5.4.7.5.8.2.6.4 1 .1.5.2 1 .1 1 0 1 0 1-.1 1-.2 1-.1.6-.3.9-.2.7-.4.8-.3.5-.4.7-.5.7-.4.6-.5.5-.5.5-.6.5-.5.4-.5.3-.7.3-.8.4-.8.1-.7.2-1-.1-.7-.1-.8-.2-.7-.3-.8-.4-.5-.4-.5-.4-.5-.6-.5-.6-.4-.6-.3-.5-.3-.7-.3-.8-.2-.7-.2-.8-.2-1 0-1 0-1 0-1 .2-1 .2-.8.1-.7.4-1 .2-.5.3-.6.5-.9.3-.6.4-.5.4-.5.4-.5.5-.5.6-.5.8-.5.6-.3.5-.2 1-.4.5-.1z" fill="none" stroke="#777" stroke-width="0.5"/>
<defs><path id="p13" d="M305 305.8l.6-.2 1-.1 1-.1 1.1.1.8.3.7.4.5.6.2.5.1 1-.2 1-.2.5-.4 1-.3.5-.3.5-.4.7-.5.7-.5.6-.6.5-.5.6-.5.5-.5.4-.5.5-.5.4-.5.4-.5.4-.5.4-.7.5-.7.5-.6.4-.5.3-.5.3-1 .5-.5.3-.5.2-1 .4-.5.2-1 .4-.5.2-1 .2-.5.1-1 .1-1 .1-1.1-.2-.5-.2-.5-.3-.5-.5-.4-1-.1-.5.1-.5.2-1 .2-.6.5-.9.3-.5.3-.5.4-.7.6-.6.5-.6.5-.5.5-.6.5-.5.5-.4.5-.5.5-.4.5-.4.5-.4.7-.5.7-.5.6-.4.5-.3.5-.3.9-.5.6-.3.5-.3 1-.4.5-.2.7-.3.8-.3.9-.2zM317.4 329.4l.8-.2 1-.1 1 .2.5.2.9.4.6.6.4.5.4.5.3.5.4 1 .2.5.2 1 .1 1 0 1-.1 1-.3 1-.1.5-.5 1-.2.5-.3.5-.5.6-.5.5-.5.5-.5.4-1 .5-.5.2-1 .2-1-.1-.9-.3-.6-.3-.5-.3-.5-.5-.5-.6-.5-.8-.3-.5-.2-.7-.2-.8-.2-1 0-1 .1-1 .2-1 .1-.5.4-1 .2-.5.4-.8.5-.7.5-.5.5-.5.5-.4.5-.3.7-.4z"/></defs>
<use href="#p13" fill="none" stroke="#222" stroke-width="3.5" stroke-opacity="0.75" filter="url(#bl)"/>
<use href="#p13" fill="#6a6a6a" stroke="#222" stroke-width="1.25" stroke-linejoin="round"/>
<path d="M302.2 309.3l.9-.2 1-.2 1 0 1 .4.3.5.1 1-.3 1-.2.5-.4.6-.5.6-.5.6-.5.6-.5.4-.5.5-.5.4-.5.4-.7.5-.8.5-.5.2-.5.3-1 .5-.5.2-1 .3-.5.1-1 .1-1-.1-.5-.2-.5-.6-.2-.8.2-.6.3-.9.3-.5.4-.6.5-.6.5-.6.5-.5.5-.4.5-.4.5-.5.7-.5.8-.5.5-.3.5-.3.8-.4.7-.3.6-.2zM317.3 333l.9-.4 1-.1 1 .5.5.4.4.6.2.5.3 1 0 1-.2 1-.2.6-.5.9-.4.5-.6.5-.5.3-1 .2-1-.2-.5-.3-.5-.5-.5-1-.2-.5-.1-1 .1-1 .2-.8.3-.7.3-.5.4-.5.6-.5z" fill="#a0a0a0"/>
</g>
<clipPath id="c14"><rect x="282.50" y="296.25" width="51.30" height="51.30"/></clipPath>
<g clip-path="url(#c14)">
<path d="M322 304.8l.7-.2 1 .1.5.1.8.5.3.5.4 1 .1.5.1 1-.1 1-.1.5-.1 1-.2 1-.2.5-.3 1.1-.2.5-.3 1-.2.5-.4 1-.2.5-.4.7-.3.8-.3.5-.4.7-.4.8-.2.5-.4.6-.5.8-.3.6-.3.5-.4.5-.5.8-.5.7-.3.5-.4.5-.4.5-.4.6-.5.6-.5.6-.5.6-.5.6-.5.5-.5.6-.5.5-.5.5-.5.5-.5.4-.5.5-.5.4-.5.4-.5.4-.7.4-.8.5-.5.3-.6.2-1 .3-1 .1-1-.3-.5-.3-.5-.7-.2-.6-.2-1-.1-1 .1-1 .2-1.1.2-1 .1-.5.3-1 .2-.5.3-1 .2-.5.4-1 .2-.5.3-.7.4-.8.2-.5.4-.8.4-.7.3-.5.3-.6.6-.9.3-.5.3-.5.4-.6.5-.8.4-.6.3-.5.4-.5.4-.5.5-.7.5-.7.5-.6.5-.6.4-.5.4-.5.5-.5.5-.5.5-.5.5-.5.5-.5.6-.5.6-.5.5-.4.5-.4.5-.3.6-.4.9-.5.5-.2.8-.3z" fill="none" stroke="#777" stroke-width="0.5"/>
<defs><path id="p14" d="M319.6 308.3l.6-.2 1-.2 1 .1.6.3.4.7.3.8 0 1 0 1-.2 1-.1.6-.3 1-.2.6-.3.9-.2.5-.4 1-.2.5-.4.8-.3.7-.3.5-.4.7-.4.8-.3.5-.3.5-.5.7-.5.8-.3.5-.4.5-.4.5-.4.6-.5.6-.5.6-.5.6-.5.6-.5.5-.5.5-.5.5-.5.5-.5.4-.5.4-.5.4-.5.4-.9.5-.6.3-.5.2-1.1.2-1-.2-.5-.4-.3-.6-.2-.5-.1-1.1 0-1 .1-1 .1-.5.3-1 .1-.5.4-1 .2-.5.3-1 .3-.5.3-.8.4-.7.2-.5.5-.8.4-.7.2-.5.4-.5.5-.8.4-.7.3-.5.4-.5.4-.5.5-.7.5-.7.5-.6.5-.5.4-.6.5-.5.4-.5.5-.5.6-.5.5-.5.6-.4.5-.4.5-.4.5-.3.9-.5z"/></defs>
<use href="#p14" fill="none" stroke="#222" stroke-width="3" stroke-opacity="0.6" filter="url(#bl)"/>
<use href="#p14" fill="#b4b4b4" stroke="#2e2e2e" stroke-width="1.25" stroke-linejoin="round"/>
<path d="M318.5 312.3l.7 0 .5.1.5.7.2.8-.1 1-.1.7-.2.8-.3.9-.2.6-.3.7-.4.8-.2.5-.4.7-.4.8-.4.5-.3.5-.4.6-.5.7-.5.7-.4.5-.5.5-.4.5-.5.5-.6.5-.6.5-.5.4-.5.4-.5.2-1 .3-1-.2-.4-.6-.2-.5 0-1 .1-.5.2-1 .3-.9.2-.6.3-.7.3-.8.3-.5.4-.8.4-.7.3-.5.3-.5.5-.7.5-.8.4-.5.4-.5.4-.5.5-.5.5-.5.5-.5.5-.5.7-.5.6-.5.5-.3.8-.3z" fill="#c8c8c8"/>
<path d="M319.1 309.3l.6-.2 1-.3 1 .2.5.4.5.9.1.5 0 1-.1 1-.1.6-.2 1-.2.6-.3.9-.2.5-.3 1-.3.5-.4.9-.3.6-.2.5-.5.8-.4.7-.3.5-.3.5-.5.8-.5.7-.3.5-.4.5-.4.5-.4.6-.5.6-.5.6-.5.6-.5.5-.5.5-.5.5-.5.4-.5.5-.5.4-.6.4-.8.5-.6.3-.5.2-1 .2-1-.2-.5-.5-.3-.5-.2-1.1 0-1 .1-1 .2-1 .2-.5.3-1 .1-.5.4-1 .2-.5.5-.9.2-.6.3-.5.5-.9.3-.6.3-.5.4-.6.5-.8.4-.6.3-.5.4-.5.4-.6.5-.6.5-.6.5-.6.5-.6.5-.6.5-.5.5-.5.5-.4.5-.5.5-.4.5-.3.5-.4.9-.5zM318.9 310.3l.8-.3 1 0 .6.3.4.6.3.9 0 1-.1 1.1-.2.7-.2.8-.3.9-.2.6-.3.7-.3.8-.3.5-.4.8-.3.7-.3.5-.4.6-.5.9-.3.5-.4.5-.3.5-.5.7-.5.6-.5.7-.5.5-.4.5-.5.5-.5.5-.5.5-.6.5-.5.5-.5.4-.5.3-.6.3-.9.5-.5.1-1 0-.6-.4-.4-.7-.1-.5-.1-1 .1-1 .1-.5.2-1 .2-.8.3-.7.3-.7.3-.8.2-.5.5-.9.3-.6.2-.5.5-.7.4-.8.3-.5.4-.5.4-.6.5-.7.5-.7.4-.5.4-.5.5-.5.4-.5.5-.5.5-.6.5-.5.6-.5.7-.5.5-.3.5-.3.7-.4z" fill="none" stroke="#333" stroke-width="0.6"/>
<path d="M316.5 315.4l.7-.3.9.3.2.5 0 1-.1.7-.2.8-.3.6-.4.9-.3.5-.3.6-.5.8-.4.6-.4.5-.4.5-.4.5-.5.5-.6.5-.6.5-.7.4-.5.1-.5 0-.5-.7-.1-.8.1-.5.2-1 .3-.6.4-.9.2-.5.4-.7.5-.8.3-.5.4-.5.4-.5.4-.5.5-.6.5-.5.5-.4.8-.5z" fill="none" stroke="#8a8a8a" stroke-width="0.45"/>
<path d="M315 318.4l.7-.5.6.5-.1 1-.2.5-.3.6-.5.8-.5.6-.4.5-.6.5-.5.2-.5-.3 0-.7.2-.7.3-.7.5-.8.3-.5.5-.5.5-.5z" fill="#2a2a2a"/>
</g>
<clipPath id="c15"><rect x="350.50" y="296.25" width="49.50" height="51.30"/></clipPath>
<g clip-path="url(#c15)">
<g filter="url(#sp)" fill="#000">
<ellipse rx="15.6" ry="9.0" fill="url(#gg)" opacity="1.00" transform="translate(369.0 315.5) rotate(0)"/>
<ellipse rx="7.5" ry="9.6" fill="url(#gg)" opacity="0.65" transform="translate(364.0 317.0) rotate(0)"/>
<ellipse rx="7.5" ry="13.5" fill="url(#gg)" opacity="0.91" transform="translate(362.5 335.0) rotate(0)"/>
<ellipse rx="24.0" ry="12.0" fill="url(#gg)" opacity="0.21" transform="translate(380.0 318.0) rotate(0)"/>
<ellipse rx="18.0" ry="24.0" fill="url(#gg)" opacity="0.18" transform="translate(366.0 328.0) rotate(0)"/>
<ellipse rx="22.5" ry="15.0" fill="url(#gg)" opacity="0.52" transform="translate(368.0 316.0) rotate(0)"/>
</g>
<path transform="translate(350.50 296.25) scale(.5)" d="M0 0m42 6h1m4 3h1m-15 7h1m15 2h1m3 0h1m-4 1h1m-13 1h1m-13 2h1m23 0h1m-24 1h1m9 0h1m6 0h1m-33 1h1m25 1h1m7 0h1m3 0h1m-36 1h1m27 0h1m2 0h1m-28 1h1m6 0h1m-12 1h1m6 0h1m23 0h1m31 0h1m-47 1h1m2 0h1m0 0h1m0 1h1m9 0h1m0 0h1m0 0h1m0 0h1m6 0h1m-39 1h1m1 0h1m2 0h1m4 0h1m7 0h1m-1 0h1m-1 0h1m1 0h1m9 0h1m2 0h1m-1 0h1m8 0h1m-44 1h1m5 0h1m4 0h1m0 0h1m5 0h1m2 0h1m-1 0h1m7 0h1m1 0h1m-39 1h1m1 0h1m0 0h1m13 0h1m6 0h1m2 0h1m3 0h1m-1 0h1m2 0h1m1 0h1m4 0h1m-16 1h1m1 0h1m1 0h1m2 0h1m2 0h1m42 0h1m-71 1h1m8 0h1m8 0h1m-1 0h1m4 0h1m2 0h1m1 0h1m3 0h1m10 0h1m22 0h1m-74 1h1m5 0h1m3 0h1m-1 0h1m2 0h1m1 0h1m0 0h1m0 0h1m-1 0h1m13 0h1m0 0h1m1 0h1m5 0h1m0 0h1m1 0h1m1 0h1m-50 1h1m14 0h1m2 0h1m2 0h1m0 0h1m0 0h1m2 0h1m1 0h1m3 0h1m3 0h1m0 0h1m1 0h1m-24 1h1m5 0h1m0 0h1m0 0h1m7 0h1m3 0h1m0 0h1m5 0h1m6 0h1m1 0h1m0 0h1m-46 1h1m5 0h1m3 0h1m2 0h1m-1 0h1m4 0h1m0 0h1m2 0h1m0 0h1m1 0h1m3 0h1m0 0h1m10 0h1m2 0h1m-45 1h1m2 0h1m4 0h1m0 0h1m-1 0h1m1 0h1m2 0h1m1 0h1m1 0h1m1 0h1m4 0h1m1 0h1m15 0h1m9 0h1m-55 1h1m8 0h1m2 0h1m1 0h1m0 0h1m3 0h1m3 0h1m2 0h1m-1 0h1m4 0h1m3 0h1m8 0h1m-53 1h1m12 0h1m8 0h1m5 0h1m0 0h1m3 0h1m-1 0h1m5 0h1m1 0h1m0 0h1m9 0h1m8 0h1m-62 1h1m14 0h1m0 0h1m1 0h1m4 0h1m6 0h1m3 0h1m1 0h1m1 0h1m0 0h1m0 0h1m16 0h1m9 0h1m-63 1h1m0 0h1m1 0h1m7 0h1m-1 0h1m0 0h1m12 0h1m2 0h1m2 0h1m0 0h1m2 0h1m2 0h1m3 0h1m-47 1h1m4 0h1m-1 0h1m6 0h1m2 0h1m2 0h1m1 0h1m2 0h1m9 0h1m1 0h1m3 0h1m1 0h1m6 0h1m1 0h1m6 0h1m10 0h1m-69 1h1m0 0h1m16 0h1m7 0h1m5 0h1m-1 0h1m3 0h1m8 0h1m11 0h1m5 0h1m-58 1h1m2 0h1m3 0h1m0 0h1m2 0h1m3 0h1m-1 0h1m2 0h1m15 0h1m4 0h1m13 0h1m17 0h1m-64 1h1m3 0h1m-1 0h1m1 0h1m0 0h1m0 0h1m0 0h1m0 0h1m0 0h1m1 0h1m3 0h1m3 0h1m3 0h1m0 0h1m2 0h1m5 0h1m-45 1h1m7 0h1m11 0h1m-1 0h1m8 0h1m16 0h1m-53 1h1m12 0h1m3 0h1m5 0h1m24 0h1m-33 1h1m16 0h1m13 0h1m11 0h1m-55 1h1m30 0h1m9 0h1m1 0h1m14 0h1m-36 1h1m11 0h1m4 0h1m0 0h1m11 0h1m-41 1h1m3 0h1m8 0h1m3 0h1m27 0h1m-53 1h1m19 0h1m-7 1h1m1 0h1m14 0h1m-1 0h1m-30 1h1m34 0h1m-10 1h1m-25 1h1m5 0h1m-5 1h1m1 0h1m12 0h1m-31 1h1m34 0h1m-32 1h1m3 0h1m10 0h1m1 1h1m21 0h1m-37 1h1m3 0h1m-3 2h1m7 0h1m-7 2h1m8 0h1m5 1h1m1 0h1m7 0h1m-28 1h1m6 0h1m7 0h1m-17 1h1m2 0h1m2 0h1m0 0h1m-9 1h1m2 0h1m6 0h1m-1 0h1m-6 1h1m-1 0h1m2 0h1m30 1h1m-33 1h1m-1 0h1m3 0h1m-12 1h1m-4 1h1m12 0h1m-7 1h1m-1 0h1m0 0h1m4 0h1m22 0h1m2 0h1m-33 1h1m3 0h1m1 0h1m4 0h1m-14 1h1m0 0h1m1 0h1m3 0h1m0 0h1m1 0h1m1 0h1m17 0h1m-30 1h1m5 0h1m0 0h1m-5 1h1m-1 1h1m2 0h1m-10 2h1m6 0h1m1 0h1m0 0h1m1 0h1m-8 1h1m9 0h1m4 0h1m-23 2h1m13 0h1m-15 1h1m10 1h1m6 0h1m-4 1h1m-23 1h1m3 0h1m10 2h1m28 1h1m-24 1h1m16 2h1m-20 2h1m1 0h1" stroke="#333" stroke-width="1" stroke-opacity="0.3"/>
<defs><path id="p15" d="M364.2 311.3l.8-.1 1-.1 1 0 1 0 1 0 1 .1 1 .1.5.1 1 .3.5.1 1 .5.5.3.5.3.5.5.5.6.4.9.1 1-.4 1-.4.5-.5.5-.6.5-.6.3-.5.3-1 .3-.5.2-1 .2-1 .2-.5.1-1 .2-.9.2-.6.2-1 .2-.5.1-1 .1-.8-.1-.7-.2-.5-.3-.7-.5-.5-.5-.4-.5-.4-.8-.3-.7-.2-1 .1-1 .2-1 .3-.5.4-.6.5-.6.5-.4.8-.5.7-.3.7-.2z"/></defs>
<use href="#p15" fill="none" stroke="#222" stroke-width="3" stroke-opacity="0.55" filter="url(#bl)"/>
<use href="#p15" fill="#c0c0c0" stroke="#2a2a2a" stroke-width="1.2" stroke-linejoin="round"/>
<path d="M363.8 311.8l.7-.1 1-.2 1-.1 1 0 1 .1 1 0 1 .1 1 .2.5.2 1 .3.5.3.5.2.7.6.5.5.3.5.3 1-.2 1-.2.5-.4.5-.6.5-.8.5-.6.3-.5.2-1 .3-1 .2-.5.1-1 .2-.9.2-.6.1-1 .3-.5.1-1 .2-1-.1-.6-.1-.9-.5-.5-.3-.5-.6-.4-.6-.3-.5-.3-1-.1-.5.1-1 .1-.5.4-.9.5-.6.5-.6.5-.3.5-.3.8-.4zM363.7 312.3l.8-.2 1-.2 1 0 1 0 1 0 1 .1 1 .1 1 .2.5.2.8.3.7.4.5.4.5.5.4.8.1 1-.5 1-.5.5-.5.4-.5.3-.7.3-.8.3-.8.2-.7.1-1 .2-.7.2-.8.2-1 .3-.5.1-1 .1-1 0-.6-.2-.9-.5-.5-.5-.4-.5-.3-.5-.3-.9-.1-.6.1-1 .1-.5.4-.8.5-.7.5-.4.5-.3.7-.4z" fill="none" stroke="#333" stroke-width="0.6"/>
<path d="M364 313.9l1-.4 1-.1 1 0 1 .1 1 .1 1 .2.5.2.7.4.6.5.1 1-.4.5-.6.5-.9.4-.5.1-1 .3-.5.2-1 .3-.8.2-.7.1-1 0-.5-.1-.8-.5-.4-.5-.3-1 .2-1 .3-.7.5-.5.5-.3zM365 314.4l.5-.2 1 0 1 .1.5.1 1 .3.5.3.2.9-.6.5-.6.3-.5.2-1 .4-.5.2-1 .2-1-.1-.5-.3-.5-.7-.1-.7.2-.5.4-.5 1-.5z" fill="none" stroke="#8a8a8a" stroke-width="0.45"/>
<path d="M364.6 315.4l.9-.4 1 0 1 .4.1.5-.5.5-.6.3-.5.2-1 0-.5-.3-.2-.7.3-.5z" fill="#2a2a2a"/>
</g>
<path d="M282.50 229.30H333.20V280.30H282.50Z" fill="none" stroke="#b8b8b8" stroke-width="0.9"/>
<path d="M283.00 281.30H332.70" stroke="#555" stroke-width="1" stroke-dasharray="0.8 2.4" stroke-opacity="0.8"/>
<path d="M292.64 281.30h2.2" stroke="#222" stroke-width="1.1"/>
<path d="M281.20 269.21h1.3M281.20 258.13h1.3M281.20 247.04h1.3M281.20 235.95h1.3M281.20 273.30h1.3M281.20 271.30h1.3" stroke="#444" stroke-width="0.8"/>
<path d="M350.50 229.30H401.00V280.60H350.50Z" fill="none" stroke="#b8b8b8" stroke-width="0.9"/>
<path d="M351.00 281.60H400.50" stroke="#555" stroke-width="1" stroke-dasharray="0.8 2.4" stroke-opacity="0.8"/>
<path d="M360.60 281.60h2.2" stroke="#222" stroke-width="1.1"/>
<path d="M349.20 269.45h1.3M349.20 258.30h1.3M349.20 247.14h1.3M349.20 235.99h1.3M349.20 273.60h1.3M349.20 271.60h1.3" stroke="#444" stroke-width="0.8"/>
<path d="M282.50 296.30H333.20V347.60H282.50Z" fill="none" stroke="#b8b8b8" stroke-width="0.9"/>
<path d="M283.00 348.60H332.70" stroke="#555" stroke-width="1" stroke-dasharray="0.8 2.4" stroke-opacity="0.8"/>
<path d="M292.64 348.60h2.2" stroke="#222" stroke-width="1.1"/>
<path d="M281.20 336.45h1.3M281.20 325.30h1.3M281.20 314.14h1.3M281.20 302.99h1.3M281.20 340.60h1.3M281.20 338.60h1.3" stroke="#444" stroke-width="0.8"/>
<path d="M350.80 296.50H401.00V347.50H350.80Z" fill="none" stroke="#b8b8b8" stroke-width="0.9"/>
<path d="M351.30 348.50H400.50" stroke="#555" stroke-width="1" stroke-dasharray="0.8 2.4" stroke-opacity="0.8"/>
<path d="M360.84 348.50h2.2" stroke="#222" stroke-width="1.1"/>
<path d="M349.50 336.41h1.3M349.50 325.33h1.3M349.50 314.24h1.3M349.50 303.15h1.3M349.50 340.50h1.3M349.50 338.50h1.3" stroke="#444" stroke-width="0.8"/>
<path d="M290.00 237.50H325.50V256.20H290.00ZM306.80 237.50V256.20" fill="none" stroke="#707070" stroke-width="0.9"/>
<path d="M359.00 237.10H394.00V255.30H359.00ZM375.20 237.10V255.30" fill="none" stroke="#707070" stroke-width="0.9"/>
<path d="M359.00 304.50H394.50V323.70H359.00ZM376.00 304.50V323.70" fill="none" stroke="#707070" stroke-width="0.9"/>
<text x="291.80" y="236.90" font-size="7">1</text>
<text x="318.00" y="236.90" font-size="7" textLength="7.50" lengthAdjust="spacingAndGlyphs">68</text>
<text x="359.00" y="236.20" font-size="7">2</text>
<text x="385.40" y="236.20" font-size="7" textLength="7.60" lengthAdjust="spacingAndGlyphs">67</text>
<text x="359.50" y="303.40" font-size="7" textLength="7.50" lengthAdjust="spacingAndGlyphs">95</text>
<text x="390.50" y="303.40" font-size="7">1</text>
<text x="0" y="0" font-size="7.7" text-anchor="middle" transform="translate(276.01 254.50) rotate(-90)" textLength="16.40" lengthAdjust="spacingAndGlyphs">B220</text>
<text x="294.50" y="290.80" font-size="7.7" textLength="20.70" lengthAdjust="spacingAndGlyphs">MHC II</text>
<text x="0" y="0" font-size="7.7" text-anchor="middle" transform="translate(346.41 254.30) rotate(-90)" textLength="15.40" lengthAdjust="spacingAndGlyphs">B220</text>
<text x="363.70" y="290.80" font-size="7.7" textLength="20.30" lengthAdjust="spacingAndGlyphs">MHC II</text>
<text x="0" y="0" font-size="7.7" text-anchor="middle" transform="translate(276.01 323.80) rotate(-90)" textLength="22.30" lengthAdjust="spacingAndGlyphs">CD45.1</text>
<text x="292.60" y="358.10" font-size="7.7" textLength="24.20" lengthAdjust="spacingAndGlyphs">CD45.2</text>
<text x="0" y="0" font-size="7.7" text-anchor="middle" transform="translate(347.81 323.50) rotate(-90)" textLength="15.00" lengthAdjust="spacingAndGlyphs">B220</text>
<text x="363.70" y="358.10" font-size="7.7" textLength="20.30" lengthAdjust="spacingAndGlyphs">MHC II</text>
<line x1="302.20" y1="307.30" x2="302.20" y2="297.60" stroke="#231f20" stroke-width="1.3"/>
<path d="M302.20 292.10L304.70 298.10L299.70 298.10Z" fill="#231f20"/>
<line x1="323.70" y1="310.70" x2="344.23" y2="287.38" stroke="#231f20" stroke-width="1.3"/>
<path d="M348.00 283.10L345.78 289.41L342.03 286.10Z" fill="#231f20"/>
<line x1="324.80" y1="336.30" x2="338.00" y2="336.30" stroke="#231f20" stroke-width="1.3"/>
<path d="M343.50 336.30L337.50 338.80L337.50 333.80Z" fill="#231f20"/>
<text x="324.80" y="213.80" font-size="7.3" textLength="58.90" lengthAdjust="spacingAndGlyphs">Donor 1 : Donor 2</text>
<text x="302.70" y="223.30" font-size="7.3" textLength="38.90" lengthAdjust="spacingAndGlyphs">WT (CD45.1</text>
<text x="348.90" y="220.20" font-size="6.0">+</text>
<text x="351.70" y="223.30" font-size="7.3" textLength="6.30" lengthAdjust="spacingAndGlyphs">) :</text>
<text x="361.70" y="223.30" font-size="7.3" textLength="22.90" lengthAdjust="spacingAndGlyphs">Fcer2a</text>
<text x="387.30" y="220.00" font-size="6.0" textLength="6.40" lengthAdjust="spacingAndGlyphs">cre</text>
<text x="394.60" y="223.30" font-size="7.3" textLength="24.70" lengthAdjust="spacingAndGlyphs">H2-Ab1</text>
<text x="423.30" y="220.00" font-size="6.0">c</text>
<text x="428.40" y="223.30" font-size="7.3" textLength="26.60" lengthAdjust="spacingAndGlyphs">(CD45.2</text>
<text x="459.00" y="220.20" font-size="6.0">+</text>
<text x="461.70" y="223.30" font-size="7.3">)</text>
<rect x="448.20" y="273.57" width="16.70" height="73.93" fill="#da9652"/>
<rect x="448.20" y="239.05" width="16.70" height="34.52" fill="#6c4a70"/>
<rect x="448.20" y="237.28" width="16.70" height="1.78" fill="#7bb26b"/>
<rect x="466.40" y="271.24" width="16.50" height="76.26" fill="#da9652"/>
<rect x="466.40" y="241.83" width="16.50" height="29.42" fill="#6c4a70"/>
<rect x="466.40" y="237.28" width="16.50" height="4.55" fill="#7bb26b"/>
<rect x="484.50" y="241.83" width="16.50" height="105.67" fill="#da9652"/>
<rect x="484.50" y="237.17" width="16.50" height="4.66" fill="#6c4a70"/>
<path d="M445.80 236.00V347.50H503.50" fill="none" stroke="#231f20" stroke-width="1.3"/>
<text x="438.30" y="350.10" font-size="7.3" text-anchor="end">0</text>
<text x="438.30" y="327.90" font-size="7.3" text-anchor="end">20</text>
<text x="438.30" y="305.70" font-size="7.3" text-anchor="end">40</text>
<text x="438.30" y="283.50" font-size="7.3" text-anchor="end">60</text>
<text x="438.30" y="261.30" font-size="7.3" text-anchor="end">80</text>
<text x="438.30" y="239.10" font-size="7.3" text-anchor="end">100</text>
<path d="M441.30 347.50H445.80M441.30 325.30H445.80M441.30 303.10H445.80M441.30 280.90H445.80M441.30 258.70H445.80M441.30 236.50H445.80M456.55 347.50V350.80M474.65 347.50V350.80M492.75 347.50V350.80" stroke="#231f20" stroke-width="0.9"/>
<text x="0" y="0" font-size="7.3" text-anchor="end" textLength="16" lengthAdjust="spacingAndGlyphs" transform="translate(459.21 354.70) rotate(-90)">Host</text>
<text x="0" y="0" font-size="7.3" text-anchor="end" textLength="28.9" lengthAdjust="spacingAndGlyphs" transform="translate(477.31 354.70) rotate(-90)">Donor 1</text>
<text x="0" y="0" font-size="7.3" text-anchor="end" textLength="28.9" lengthAdjust="spacingAndGlyphs" transform="translate(495.41 354.70) rotate(-90)">Donor 2</text>
<text x="0" y="0" font-size="9.4" text-anchor="middle" textLength="122.8" lengthAdjust="spacingAndGlyphs" transform="translate(419.90 291.40) rotate(-90)">Composition, % of CD45<tspan font-size="6" dy="-3.5">+</tspan><tspan dy="3.5"> cells</tspan></text>
<clipPath id="c16"><rect x="19.00" y="433.50" width="51.80" height="51.70"/></clipPath>
<g clip-path="url(#c16)">
<g filter="url(#sp)" fill="#000">
<ellipse rx="21.0" ry="8.7" fill="url(#gg)" opacity="1.00" transform="translate(30.0 446.5) rotate(0)"/>
<ellipse rx="18.0" ry="5.4" fill="url(#gg)" opacity="1.00" transform="translate(42.0 447.0) rotate(0)"/>
<ellipse rx="42.0" ry="12.0" fill="url(#gg)" opacity="0.45" transform="translate(40.0 446.5) rotate(0)"/>
<ellipse rx="18.0" ry="24.0" fill="url(#gg)" opacity="1.00" transform="translate(35.0 468.0) rotate(0)"/>
<ellipse rx="18.0" ry="18.0" fill="url(#gg)" opacity="1.00" transform="translate(27.0 474.0) rotate(-30)"/>
<ellipse rx="24.0" ry="15.0" fill="url(#gg)" opacity="0.91" transform="translate(45.0 474.0) rotate(15)"/>
<ellipse rx="12.0" ry="18.0" fill="url(#gg)" opacity="0.78" transform="translate(36.0 463.0) rotate(0)"/>
<ellipse rx="42.0" ry="30.0" fill="url(#gg)" opacity="0.20" transform="translate(40.0 470.0) rotate(0)"/>
</g>
<path transform="translate(19.00 433.50) scale(.5)" d="M0 0m27 1h1m28 5h1m-53 1h1m18 2h1m9 2h1m39 0h1m-64 1h1m44 1h1m-45 1h1m25 0h1m-4 1h1m-12 1h1m11 0h1m38 0h1m2 0h1m-27 1h1m-49 1h1m0 0h1m23 0h1m0 0h1m10 0h1m9 0h1m-29 1h1m29 0h1m25 0h1m12 0h1m-91 1h1m0 0h1m0 0h1m3 0h1m30 0h1m8 0h1m13 0h1m-45 1h1m4 0h1m31 0h1m32 0h1m8 0h1m-86 1h1m1 0h1m1 0h1m43 0h1m-16 1h1m44 0h1m0 0h1m-82 1h1m20 0h1m4 0h1m4 0h1m1 0h1m13 0h1m-54 1h1m-1 0h1m3 0h1m6 0h1m5 0h1m20 0h1m44 0h1m0 0h1m-65 1h1m17 0h1m0 0h1m20 0h1m15 0h1m11 0h1m-57 1h1m2 0h1m0 0h1m3 0h1m3 0h1m5 0h1m0 0h1m-42 1h1m12 0h1m0 0h1m2 0h1m4 0h1m1 0h1m1 0h1m-1 0h1m0 0h1m4 0h1m1 0h1m3 0h1m27 0h1m19 0h1m-92 1h1m7 0h1m4 0h1m3 0h1m0 0h1m7 0h1m22 0h1m0 0h1m20 0h1m15 0h1m-67 1h1m2 0h1m6 0h1m8 0h1m1 0h1m-46 1h1m14 0h1m14 0h1m-32 1h1m17 0h1m27 0h1m-44 1h1m48 0h1m0 0h1m3 0h1m14 0h1m-47 1h1m3 0h1m7 0h1m-35 1h1m2 0h1m2 0h1m15 0h1m1 0h1m4 0h1m10 0h1m0 0h1m-38 1h1m15 0h1m7 0h1m13 0h1m49 0h1m-53 3h1m4 0h1m16 0h1m-47 1h1m8 0h1m7 0h1m26 0h1m7 0h1m-62 1h1m12 0h1m6 0h1m-21 1h1m47 0h1m-20 1h1m8 0h1m-40 1h1m25 0h1m7 0h1m-25 1h1m6 1h1m42 0h1m-41 1h1m4 0h1m0 0h1m-17 1h1m3 1h1m8 0h1m0 0h1m-20 1h1m3 0h1m25 0h1m-36 1h1m11 1h1m14 0h1m7 0h1m7 0h1m16 0h1m-34 1h1m1 0h1m-1 0h1m0 0h1m-18 1h1m3 0h1m0 0h1m21 0h1m12 0h1m31 0h1m-80 1h1m4 0h1m5 0h1m49 0h1m-53 1h1m6 0h1m1 0h1m1 0h1m11 0h1m-27 1h1m2 0h1m2 0h1m3 0h1m7 0h1m29 0h1m-63 1h1m-1 0h1m2 0h1m2 0h1m7 0h1m2 0h1m0 0h1m1 0h1m0 0h1m-27 1h1m24 0h1m4 0h1m0 0h1m1 0h1m0 0h1m2 0h1m12 0h1m10 0h1m-64 1h1m21 0h1m3 0h1m3 0h1m2 0h1m5 0h1m-1 0h1m4 0h1m-22 1h1m4 0h1m9 0h1m8 0h1m-22 1h1m0 0h1m25 0h1m-44 1h1m0 0h1m14 0h1m2 0h1m2 0h1m15 0h1m-43 1h1m16 0h1m2 0h1m0 0h1m14 0h1m-1 0h1m0 0h1m9 0h1m0 0h1m-45 1h1m18 0h1m9 0h1m1 0h1m2 0h1m21 0h1m-62 1h1m1 0h1m0 0h1m6 0h1m0 0h1m12 0h1m1 0h1m36 0h1m16 0h1m-83 1h1m10 0h1m26 0h1m0 0h1m5 0h1m10 0h1m16 0h1m-66 1h1m11 0h1m8 0h1m0 0h1m0 0h1m8 0h1m-40 1h1m18 0h1m5 0h1m2 0h1m2 0h1m9 0h1m-35 1h1m6 0h1m3 0h1m3 0h1m4 0h1m0 0h1m0 0h1m27 0h1m-49 1h1m4 0h1m9 0h1m-1 0h1m-1 0h1m8 0h1m1 0h1m24 0h1m7 0h1m13 0h1m-71 1h1m4 0h1m6 0h1m1 0h1m0 0h1m4 0h1m8 0h1m-48 1h1m6 0h1m2 0h1m4 0h1m4 0h1m-1 0h1m0 0h1m0 0h1m6 0h1m8 0h1m6 0h1m5 0h1m14 0h1m20 0h1m-79 1h1m4 0h1m1 0h1m-1 0h1m3 0h1m1 0h1m15 0h1m6 0h1m27 0h1m16 0h1m-85 1h1m11 0h1m5 0h1m-1 0h1m1 0h1m7 0h1m5 0h1m30 0h1m18 0h1m-84 1h1m7 0h1m3 0h1m1 0h1m-1 0h1m0 0h1m3 0h1m-1 0h1m7 0h1m25 0h1m5 0h1m0 0h1m0 0h1m-57 1h1m3 0h1m1 0h1m7 0h1m-1 0h1m7 0h1m-1 0h1m1 0h1m4 0h1m18 0h1m10 0h1m-60 1h1m5 0h1m1 0h1m0 0h1m-1 0h1m4 0h1m7 0h1m-36 1h1m5 0h1m12 0h1m51 0h1m-61 1h1m1 0h1m3 0h1m13 0h1m3 0h1m18 0h1m-1 0h1m-1 0h1m10 0h1m-66 1h1m25 0h1m6 0h1m4 0h1m2 0h1m0 0h1m-1 0h1m9 0h1m3 0h1m16 0h1m-63 1h1m6 0h1m3 0h1m1 0h1m2 0h1m7 0h1m47 0h1m-78 1h1m7 0h1m18 0h1m0 0h1m13 0h1m2 0h1m28 0h1m-82 1h1m18 0h1m4 0h1m3 0h1m16 0h1m15 0h1m-42 1h1m2 0h1m24 0h1m-41 1h1m17 0h1m3 0h1m3 0h1m1 0h1m0 0h1m18 0h1m3 0h1m3 0h1m-53 1h1m16 0h1m0 0h1m31 0h1m1 0h1m-61 1h1m5 0h1m4 0h1m8 0h1m36 0h1m-56 1h1m3 0h1m31 0h1m-1 0h1m-31 1h1m5 0h1m5 0h1m6 0h1m-1 0h1m15 0h1m3 0h1m7 0h1m26 0h1m-70 1h1m1 0h1m19 0h1m-1 0h1m3 0h1m5 0h1m2 0h1m-34 1h1m9 0h1m3 0h1m20 0h1m5 0h1m17 0h1m4 0h1m-83 1h1m2 0h1m2 0h1m7 0h1m20 1h1m15 0h1m13 0h1m-36 1h1m4 0h1m15 0h1m46 0h1m-87 1h1m8 0h1m0 0h1m25 0h1m-23 1h1m2 0h1m2 0h1m8 0h1m10 0h1m-54 1h1m47 1h1m8 0h1m1 0h1m18 0h1m-73 2h1m35 0h1m10 0h1m-51 1h1m14 0h1" stroke="#333" stroke-width="1" stroke-opacity="0.3"/>
<defs><path id="p16" d="M26.6 442.5l.9-.1 1.1-.1 1 0 1 0 1 0 1 .1 1 .1.5.1 1 .1 1 .2.8.1.7.2 1 .2.9.1.6.1 1 .2 1 .2.5.1 1 .1 1 .2.6.1 1 .3 1 .2.5.2.8.3.7.4.5.5.2.7-.2.5-.5.5-1 .5-.5.1-1 .3-.5.2-1 .2-1.1.1-.5.1-1 .2-1 .1-1 .1-.7.1-.8 0-1 .2-1 .1-1 .1-1 0-.5.1-1 .1-1 0-1 .1-1 0-1 0-1-.1-1.1-.1-.5-.1-1-.1-1-.2-.5-.1-1-.3-.5-.2-1-.5-.5-.3-.5-.3-.5-.5-.5-.8-.2-.6.2-.8.5-.8.5-.4.5-.4.5-.3.8-.4.7-.2.7-.3.8-.2 1-.2.6-.1z"/></defs>
<use href="#p16" fill="none" stroke="#222" stroke-width="3" stroke-opacity="0.6" filter="url(#bl)"/>
<use href="#p16" fill="#8a8a8a" stroke="#222" stroke-width="1.25" stroke-linejoin="round"/>
<path d="M28.6 444l1 0 1-.1 1 0 1 .1.5 0 1 .1 1 .2 1 .1 1 .1.5.1 1 .1 1 .2 1 .1.5.1 1 .2 1 .1.5.2 1 .3.6.1.7.6-.1 1-.6.3-.6.2-1 .3-1 .2-.5 0-1 .2-1 .1-1 0-1 .1-.9.1-.6 0-1 0-1 .1-1 0-1 .1-1 0-1-.1-1 0-.9-.1-.6-.1-1.1-.3-.6-.1-.9-.4-.5-.3-.5-.3-.5-.9 0-.3.5-.9.5-.4.5-.3.8-.3.7-.2 1.1-.2.5-.1z" fill="#bdbdbd"/>
<path d="M29 445.5l.6-.1 1-.1 1-.1 1 0 1 .1 1 .1 1 .1 1 0 .5.1 1 .1 1 .1 1 .2.5.1 1 .3.6.2-.1.7-.5.3-1 .2-1 .1-1 .1-.8.1-.7 0-1 0-1 0-1 0-1 0-1 0-.5 0-1-.2-1-.2-.7-.1-.8-.5-.4-.5.4-.6.9-.5z" fill="none" stroke="#8a8a8a" stroke-width="0.45"/>
</g>
<clipPath id="c17"><rect x="19.00" y="433.50" width="51.80" height="51.70"/></clipPath>
<g clip-path="url(#c17)">
<defs><path id="p17" d="M33.6 459.1l.5-.1 1-.1 1 .1.5.1 1 .4.5.2.6.4.7.5.5.5.5.5.4.5.3.5.5.9.4.6.2.5.4 1 .2.5.3 1 .2.5.3.9.4.6.2.5.4.7.6.6.5.5.5.5.5.4.5.4.5.5.6.5.6.5.6.5.4.5.4.5.4.7.1.8-.1.5-.5.7-.5.4-.9.4-.6.1-1 .2-1 .1-1 .1-.6 0-1 0-1 0-1 .1-1 0-1 .1-1 0-1 .1-1 .1-1 0-1 .1-.5 0-1 .1-1 0-1 .1-1 .1-1 .1-.7.1-.9 0-1 0-.6 0-.9-.1-1-.4-.5-.2-.5-.4-.5-.5-.5-.9-.1-.5 0-1 .1-.8.2-.7.3-.6.5-.9.3-.5.4-.5.3-.6.5-.7.5-.8.3-.5.3-.5.4-.8.4-.7.2-.5.4-1 .2-.5.3-1 .3-.5.3-.6.4-.9.4-.5.3-.5.4-.5.5-.5.5-.5.7-.5.8-.5.5-.2 1-.3z"/></defs>
<use href="#p17" fill="none" stroke="#222" stroke-width="4" stroke-opacity="0.6" filter="url(#bl)"/>
<use href="#p17" fill="#555" stroke="#444" stroke-width="0.8" stroke-linejoin="round"/>
<path d="M34.5 464.6l.6 0 .5 0 1 .4.5.4.5.5.5.6.4.6.3.5.3.8.4.7.2.5.4 1 .2.5.3 1 .2.6.2 1-.2 1-.5.5-.7.3-.5.2-1 .2-1 .2-.5.1-1 .1-1 .1-1 .1-1 .1-1 .1-.5 0-1 .1-1 0-.9-.1-.7-.3-.5-.7 0-.5 0-.5.4-1 .3-.5.4-.6.5-.8.4-.7.3-.5.3-.5.5-.9.3-.6.3-.5.4-.6.5-.8.4-.6.5-.5.6-.4.5-.3.9-.3z" fill="#808080"/>
<path d="M34.3 467.6l.8-.1.5.2.7.4.5.5.3.5.5 1 .2.5.2 1 0 1.1-.4.7-.5.4-.8.4-.7.2-1 .1-1 .1-1 0-1-.1-.8-.3-.3-.5 0-1 .2-.6.4-.8.3-.7.3-.5.4-.5.5-.7.5-.5.5-.4.7-.4z" fill="none" stroke="#8a8a8a" stroke-width="0.45"/>
</g>
<ellipse cx="35.5" cy="467" rx="5" ry="6.5" fill="url(#gw)" opacity="0.6"/>
<clipPath id="c18"><rect x="87.30" y="433.80" width="52.30" height="51.60"/></clipPath>
<g clip-path="url(#c18)">
<g filter="url(#sp)" fill="#000">
<ellipse rx="24.0" ry="15.0" fill="url(#gg)" opacity="0.65" transform="translate(105.0 450.0) rotate(0)"/>
<ellipse rx="18.0" ry="15.0" fill="url(#gg)" opacity="0.52" transform="translate(123.0 451.0) rotate(0)"/>
<ellipse rx="42.0" ry="15.0" fill="url(#gg)" opacity="0.29" transform="translate(112.0 452.0) rotate(0)"/>
<ellipse rx="48.0" ry="36.0" fill="url(#gg)" opacity="0.04" transform="translate(112.0 460.0) rotate(0)"/>
</g>
<path transform="translate(87.30 433.80) scale(.5)" d="M0 0m60 3h1m-21 1h1m-39 1h1m33 0h1m0 0h1m-17 5h1m47 0h1m11 1h1m-22 1h1m6 0h1m3 0h1m-52 1h1m13 0h1m9 0h1m7 0h1m2 0h1m19 0h1m-31 1h1m19 0h1m10 0h1m9 0h1m-43 1h1m-37 1h1m1 0h1m16 0h1m25 1h1m-25 1h1m24 0h1m1 0h1m3 0h1m-18 1h1m4 0h1m3 0h1m13 0h1m-61 1h1m19 0h1m28 0h1m6 0h1m5 0h1m8 0h1m2 0h1m0 0h1m-74 1h1m23 0h1m17 0h1m5 0h1m0 0h1m7 0h1m13 0h1m-74 1h1m16 0h1m18 0h1m1 0h1m5 0h1m8 0h1m5 0h1m14 0h1m0 0h1m0 0h1m-56 1h1m4 0h1m15 0h1m22 0h1m-60 1h1m13 0h1m18 0h1m6 0h1m2 0h1m7 0h1m20 0h1m-73 1h1m7 0h1m7 0h1m-1 0h1m8 0h1m0 0h1m3 0h1m5 0h1m6 0h1m-1 0h1m15 0h1m29 0h1m-93 1h1m9 0h1m16 0h1m0 0h1m4 0h1m30 0h1m6 0h1m6 0h1m-67 1h1m17 0h1m19 0h1m5 0h1m36 0h1m-91 1h1m9 0h1m9 0h1m6 0h1m8 0h1m1 0h1m5 0h1m20 0h1m5 0h1m3 0h1m-1 0h1m-68 1h1m3 0h1m4 0h1m7 0h1m2 0h1m2 0h1m0 0h1m6 0h1m13 0h1m12 0h1m-47 1h1m13 0h1m1 0h1m0 0h1m3 0h1m5 0h1m15 0h1m-53 1h1m15 0h1m2 0h1m2 0h1m5 0h1m7 0h1m0 0h1m1 0h1m4 0h1m28 0h1m-78 1h1m3 0h1m5 0h1m14 0h1m4 0h1m0 0h1m7 0h1m11 0h1m5 0h1m6 0h1m-45 1h1m2 0h1m4 0h1m1 0h1m0 0h1m-1 0h1m7 0h1m-1 0h1m9 0h1m0 0h1m13 0h1m16 0h1m-99 1h1m4 0h1m29 0h1m11 0h1m2 0h1m23 0h1m0 0h1m23 0h1m-88 1h1m0 0h1m6 0h1m1 0h1m4 0h1m-1 0h1m-1 0h1m4 0h1m3 0h1m0 0h1m1 0h1m0 0h1m-1 0h1m16 0h1m0 0h1m1 0h1m2 0h1m-1 0h1m1 0h1m-1 0h1m3 0h1m2 0h1m5 0h1m1 0h1m-71 1h1m12 0h1m4 0h1m0 0h1m-1 0h1m4 0h1m42 0h1m16 0h1m-1 0h1m-90 1h1m20 0h1m0 0h1m3 0h1m6 0h1m16 0h1m3 0h1m1 0h1m1 0h1m5 0h1m10 0h1m4 0h1m1 0h1m-76 1h1m3 0h1m11 0h1m-1 0h1m10 0h1m1 0h1m12 0h1m-1 0h1m0 0h1m1 0h1m-1 0h1m0 0h1m3 0h1m9 0h1m8 0h1m5 0h1m2 0h1m-87 1h1m1 0h1m9 0h1m1 0h1m21 0h1m-1 0h1m0 0h1m1 0h1m12 0h1m12 0h1m-1 0h1m13 0h1m1 0h1m4 0h1m-81 1h1m2 0h1m14 0h1m9 0h1m9 0h1m0 0h1m0 0h1m4 0h1m-42 1h1m1 0h1m3 0h1m2 0h1m8 0h1m0 0h1m2 0h1m0 0h1m7 0h1m25 0h1m-53 1h1m9 0h1m1 0h1m2 0h1m16 0h1m21 0h1m18 0h1m3 0h1m-96 1h1m56 0h1m1 0h1m-1 0h1m5 0h1m-61 1h1m22 0h1m7 0h1m10 0h1m0 0h1m11 0h1m19 0h1m-70 1h1m2 0h1m9 0h1m0 0h1m11 0h1m12 0h1m-24 1h1m5 0h1m7 0h1m1 0h1m12 0h1m5 0h1m2 0h1m9 0h1m-63 1h1m21 0h1m13 0h1m2 0h1m4 0h1m18 0h1m-40 1h1m2 0h1m0 0h1m4 0h1m2 0h1m3 0h1m9 0h1m-40 1h1m-1 0h1m2 0h1m33 0h1m3 0h1m13 0h1m-77 1h1m57 0h1m3 0h1m11 0h1m12 0h1m-52 1h1m3 0h1m25 0h1m6 0h1m-55 1h1m32 0h1m21 0h1m7 0h1m-81 1h1m25 0h1m13 0h1m20 0h1m15 0h1m2 0h1m-81 1h1m60 0h1m13 0h1m11 0h1m-80 1h1m6 0h1m29 0h1m3 0h1m27 0h1m-53 1h1m19 0h1m12 0h1m5 0h1m-16 1h1m22 0h1m-42 3h1m-6 2h1m40 3h1m2 0h1m23 0h1m-94 6h1m49 0h1m-19 1h1m-22 9h1m76 0h1m-40 3h1m-34 4h1m53 3h1m15 9h1m-62 1h1" stroke="#333" stroke-width="1" stroke-opacity="0.3"/>
</g>
<clipPath id="c19"><rect x="19.60" y="512.30" width="50.90" height="51.10"/></clipPath>
<g clip-path="url(#c19)">
<g filter="url(#sp)" fill="#000">
<ellipse rx="15.6" ry="21.6" fill="url(#gg)" opacity="1.00" transform="translate(58.0 532.2) rotate(0)"/>
<ellipse rx="21.0" ry="6.9" fill="url(#gg)" opacity="0.98" transform="translate(43.0 526.0) rotate(5)"/>
<ellipse rx="21.0" ry="9.0" fill="url(#gg)" opacity="0.78" transform="translate(52.0 520.0) rotate(0)"/>
<ellipse rx="21.0" ry="10.5" fill="url(#gg)" opacity="0.78" transform="translate(47.0 527.0) rotate(0)"/>
<ellipse rx="21.0" ry="28.5" fill="url(#gg)" opacity="0.59" transform="translate(58.0 532.0) rotate(0)"/>
<ellipse rx="30.0" ry="30.0" fill="url(#gg)" opacity="0.16" transform="translate(35.0 542.0) rotate(0)"/>
</g>
<path transform="translate(19.60 512.30) scale(.5)" d="M0 0m37 1h1m32 0h1m20 1h1m-9 1h1m3 0h1m-31 1h1m6 1h1m-12 1h1m18 0h1m10 0h1m9 0h1m-48 1h1m1 0h1m-18 1h1m27 0h1m3 0h1m2 0h1m11 0h1m9 0h1m-18 1h1m23 0h1m-54 1h1m24 0h1m10 0h1m-39 1h1m13 0h1m7 0h1m5 0h1m1 0h1m4 0h1m5 0h1m5 0h1m-68 1h1m35 0h1m4 0h1m0 0h1m3 0h1m15 0h1m13 0h1m-75 1h1m30 0h1m4 0h1m2 0h1m0 0h1m-1 0h1m4 0h1m-1 0h1m14 0h1m-29 1h1m1 0h1m10 0h1m8 0h1m3 0h1m-45 1h1m3 0h1m3 0h1m5 0h1m3 0h1m10 0h1m4 0h1m1 0h1m1 0h1m1 0h1m-1 0h1m23 0h1m-62 1h1m17 0h1m32 0h1m4 0h1m0 0h1m-60 1h1m0 0h1m8 0h1m3 0h1m16 0h1m5 0h1m3 0h1m1 0h1m5 0h1m-27 1h1m3 0h1m3 0h1m0 0h1m3 0h1m10 0h1m-43 1h1m2 0h1m0 0h1m13 0h1m4 0h1m0 0h1m-1 0h1m6 0h1m2 0h1m0 0h1m13 0h1m4 0h1m-61 1h1m12 0h1m3 0h1m0 0h1m7 0h1m0 0h1m9 0h1m-34 1h1m15 0h1m9 0h1m0 0h1m1 0h1m2 0h1m-1 0h1m8 0h1m1 0h1m-73 1h1m11 0h1m11 0h1m4 0h1m4 0h1m4 0h1m7 0h1m0 0h1m-1 0h1m4 0h1m7 0h1m6 0h1m-59 1h1m7 0h1m21 0h1m3 0h1m3 0h1m1 0h1m2 0h1m7 0h1m5 0h1m0 0h1m-58 1h1m1 0h1m19 0h1m0 0h1m1 0h1m3 0h1m3 0h1m0 0h1m1 0h1m3 0h1m1 0h1m5 0h1m4 0h1m0 0h1m17 0h1m-63 1h1m10 0h1m1 0h1m0 0h1m18 0h1m16 0h1m1 0h1m4 0h1m-1 0h1m0 0h1m-75 1h1m5 0h1m13 0h1m10 0h1m4 0h1m8 0h1m0 0h1m0 0h1m2 0h1m0 0h1m2 0h1m3 0h1m-65 1h1m33 0h1m18 0h1m6 0h1m5 0h1m2 0h1m8 0h1m3 0h1m-75 1h1m15 0h1m2 0h1m5 0h1m2 0h1m9 0h1m1 0h1m3 0h1m9 0h1m1 0h1m1 0h1m23 0h1m-66 1h1m6 0h1m0 0h1m6 0h1m3 0h1m1 0h1m2 0h1m-1 0h1m1 0h1m0 0h1m3 0h1m2 0h1m1 0h1m0 0h1m0 0h1m1 0h1m7 0h1m3 0h1m0 0h1m0 0h1m-1 0h1m2 0h1m-59 1h1m10 0h1m5 0h1m2 0h1m-1 0h1m4 0h1m16 0h1m17 0h1m-80 1h1m17 0h1m1 0h1m2 0h1m2 0h1m16 0h1m4 0h1m-1 0h1m4 0h1m0 0h1m10 0h1m11 0h1m-51 1h1m3 0h1m3 0h1m4 0h1m1 0h1m12 0h1m0 0h1m0 0h1m2 0h1m0 0h1m4 0h1m5 0h1m-77 1h1m17 0h1m16 0h1m5 0h1m10 0h1m1 0h1m1 0h1m12 0h1m0 0h1m1 0h1m-51 1h1m3 0h1m4 0h1m3 0h1m17 0h1m3 0h1m5 0h1m3 0h1m-37 1h1m0 0h1m12 0h1m1 0h1m1 0h1m2 0h1m8 0h1m0 0h1m-1 0h1m-38 1h1m0 0h1m22 0h1m5 0h1m3 0h1m3 0h1m3 0h1m0 0h1m4 0h1m-1 0h1m4 0h1m-80 1h1m31 0h1m4 0h1m1 0h1m1 0h1m7 0h1m1 0h1m3 0h1m16 0h1m7 0h1m3 0h1m-56 1h1m18 0h1m11 0h1m1 0h1m0 0h1m1 1h1m6 0h1m-1 0h1m1 0h1m1 0h1m3 0h1m-23 1h1m2 0h1m-1 0h1m1 0h1m9 0h1m8 0h1m-66 1h1m20 0h1m5 0h1m6 0h1m4 0h1m11 0h1m0 0h1m-14 1h1m3 0h1m2 0h1m2 0h1m3 0h1m1 0h1m-1 0h1m4 0h1m-34 1h1m11 0h1m4 0h1m1 0h1m3 0h1m3 0h1m0 0h1m-34 1h1m6 0h1m10 0h1m4 0h1m1 0h1m3 0h1m0 0h1m9 0h1m-55 1h1m7 0h1m17 0h1m1 0h1m0 0h1m12 0h1m8 0h1m1 0h1m-29 1h1m3 0h1m6 0h1m7 0h1m1 0h1m13 0h1m3 0h1m-35 1h1m14 0h1m1 0h1m3 0h1m6 0h1m3 0h1m0 0h1m-37 1h1m10 0h1m-12 1h1m3 0h1m5 0h1m7 0h1m-29 1h1m8 0h1m9 0h1m13 0h1m12 0h1m-42 1h1m6 0h1m1 0h1m4 0h1m1 0h1m-1 0h1m13 0h1m-51 1h1m39 0h1m3 0h1m0 0h1m11 0h1m-76 1h1m46 0h1m1 0h1m3 0h1m4 0h1m4 0h1m4 0h1m-1 0h1m-43 1h1m0 0h1m-1 0h1m3 0h1m4 0h1m0 0h1m1 0h1m2 0h1m2 0h1m15 0h1m3 0h1m7 0h1m-33 1h1m17 0h1m9 0h1m-56 1h1m28 0h1m19 0h1m-24 1h1m7 0h1m4 0h1m1 0h1m1 0h1m22 0h1m1 0h1m-50 1h1m26 0h1m1 0h1m-32 1h1m17 0h1m-1 0h1m4 0h1m5 0h1m-1 0h1m14 0h1m-47 1h1m21 0h1m9 0h1m-14 1h1m20 0h1m-71 1h1m12 0h1m50 0h1m11 0h1m1 0h1m-1 0h1m-26 1h1m-24 1h1m15 0h1m6 0h1m6 0h1m-65 1h1m27 0h1m3 0h1m4 0h1m22 0h1m-11 1h1m13 1h1m7 0h1m8 0h1m-43 2h1m9 1h1m31 0h1m-63 1h1m19 1h1m-28 1h1m52 0h1m-1 0h1m4 1h1m14 0h1m-51 1h1m-13 1h1m30 0h1m-35 1h1m17 0h1m44 0h1m-70 1h1m35 0h1m13 2h1m6 0h1m-43 2h1m-8 1h1m48 1h1m-8 3h1m-47 1h1m16 1h1m-16 3h1m49 0h1m-17 7h1m7 1h1" stroke="#333" stroke-width="1" stroke-opacity="0.3"/>
<defs><path id="p19" d="M56 521.3l.9-.2 1-.1 1 .1.9.2.6.3.5.2.8.5.7.5.5.5.4.5.4.5.4.5.4.6.4.9.2.5.3 1 .2.5.2 1 .1 1 .1.5 0 1 0 1 0 .9-.1.6-.2 1-.2 1-.2.5-.3 1-.3.6-.3.5-.5.8-.4.7-.4.5-.5.5-.6.5-.6.4-.5.3-.6.3-.9.3-1 .1-1 0-1-.2-.7-.2-.8-.4-.5-.4-.5-.3-.5-.5-.5-.5-.5-.7-.5-.7-.4-.5-.2-.5-.4-1.1-.2-.5-.3-1-.1-.5-.2-1-.2-1-.1-.5-.2-1-.3-.5-.5-.6-.5-.4-1-.4-.5-.1-1-.2-1-.2-.6-.1-.9-.1-1-.1-1-.1-.7-.2-.8-.1-1-.2-.6-.2-1-.3-.5-.2-1-.4-.5-.3-.5-.3-.6-.5-.4-.6 0-.9.4-.5.6-.4.5-.2 1-.4.5-.1 1-.2 1.1-.1 1-.1.5 0 1 0 1 0 .5 0 1 .1 1 .1 1 .1 1 .1 1 0 1 .1 1-.1 1-.1 1.1-.2.5-.2 1-.3.5-.3.7-.3.8-.3.6-.2z"/></defs>
<use href="#p19" fill="none" stroke="#222" stroke-width="3.5" stroke-opacity="0.7" filter="url(#bl)"/>
<use href="#p19" fill="#c0c0c0" stroke="#2a2a2a" stroke-width="1.6" stroke-linejoin="round"/>
<path d="M55.2 523.8l.7-.1 1-.2 1 0 1 .2.5.1 1 .5.5.3.5.4.5.6.5.6.4.6.3.5.3.9.3.6.2 1 .1.5.1 1 0 1-.1 1-.1.7-.1.8-.3 1-.2.5-.4.8-.4.7-.3.6-.5.5-.5.5-.7.5-.6.3-.5.2-1 .2-1 0-.9-.2-.6-.3-.5-.3-.6-.4-.5-.5-.5-.5-.4-.7-.5-.9-.2-.5-.3-.9-.2-.6-.2-1-.1-.9-.1-.6-.3-1-.2-.5-.5-.8-.5-.5-.5-.3-.9-.4-.6-.1-1-.2-1-.1-1-.1-.5 0-1-.1-1-.1-1-.1-.7-.2-.8-.2-1-.2-.5-.2-.8-.4-.8-.5-.3-.5.3-1 .5-.3.5-.2 1.1-.2 1-.2 1 0 1 0 1 0 1 .1 1 .1 1 .2.5 0 1 .2 1 .1 1 .1 1 0 1.1-.1 1-.2.5-.1 1-.3.8-.2z" fill="#cdcdcd"/>
<path d="M55.3 522.3l.6-.1 1-.3 1 0 1 .1 1 .2.5.3.7.3.7.5.5.5.5.5.4.5.4.5.3.7.5.8.2.5.3 1 .1.5.2 1 .2 1 0 1 0 1-.1 1-.1 1-.2.9-.2.6-.3.9-.3.6-.3.6-.5.7-.5.7-.4.6-.5.5-.6.4-.5.3-.5.3-1 .4-.5.1-1 .1-.9-.1-.6-.2-.9-.3-.6-.4-.5-.4-.5-.4-.5-.5-.5-.6-.5-.7-.3-.5-.3-.6-.4-1-.2-.5-.3-1-.1-.5-.1-1-.2-1-.2-.7-.2-.8-.3-.5-.5-.5-.8-.5-.7-.2-1-.3-.5 0-1-.2-1-.1-1-.1-.5-.1-1-.1-1-.2-1-.2-.5-.1-1.1-.3-.5-.1-1-.4-.5-.3-.5-.3-.6-.5-.4-.5 0-.9.5-.6.5-.2.5-.3 1-.3 1-.2.6 0 1-.1 1-.1 1 0 1 .1 1 0 1 .1.5.1 1 .1 1 .1 1 .1 1 0 1 0 1-.2 1.1-.2.5-.1 1-.4.5-.1.9-.4zM57.1 522.8l.8 0 .5 0 1 .2.7.3.8.5.5.3.5.5.5.5.5.7.4.5.2.5.4 1 .2.5.3 1 .1.5.1 1 .1 1 0 1-.1 1-.1.8-.2.7-.3 1-.2.5-.4.7-.4.9-.4.5-.4.5-.5.5-.6.5-.7.4-.5.3-1 .3-.5 0-1 0-.5-.1-1-.3-.5-.3-.5-.3-.6-.5-.5-.5-.4-.5-.5-.8-.4-.8-.3-.5-.3-1-.2-.5-.2-1-.2-.8-.1-.7-.2-1-.2-.6-.5-.8-.5-.5-.5-.3-.5-.3-1-.3-1-.1-.5-.1-1-.1-1-.1-1-.1-1-.1-.5-.1-1-.2-1-.2-.5-.1-1.1-.4-.5-.2-.8-.4-.7-.5-.3-.5.1-1 .7-.5.5-.2 1-.3.6-.1 1-.1 1-.1 1 0 1 .1 1 0 1 .1.9.1.6.1 1 .1 1 .1 1 .1 1 0 1-.1 1.1-.1.6-.2.9-.2.9-.3.6-.2 1-.2.7-.1z" fill="none" stroke="#333" stroke-width="0.6"/>
<path d="M41 524.8l.8 0 1-.1 1 .1.5.1 1 .1 1 .2.5.1 1 .3.9.2.6.2 1 .1 1-.1.9-.2.7-.1 1-.2.5-.2 1-.2 1-.1 1-.1 1 .2.7.2.8.4.5.4.5.5.5.6.4.6.3.5.3 1 .1.5.2 1 .1 1 0 1-.2 1-.2.9-.2.6-.3.7-.5.8-.4.5-.5.5-.6.5-.5.2-1 .3-1 0-1-.4-.5-.3-.5-.4-.5-.5-.5-.7-.4-.7-.2-.5-.3-1-.2-.5-.1-1-.2-1-.1-.7-.3-.8-.2-.6-.5-.7-.6-.6-.5-.3-.5-.3-1-.4-1 0-1 0-1 0-1 0-1 0-.8-.1-.7-.1-1-.1-.9-.3-.6-.2-.5-.3-.2-1 .7-.3.7-.2zM54.8 526.8l.6-.2 1-.2 1 0 1 .3.5.2.6.4.5.5.4.5.5 1 .2.5.2 1 .1.9 0 .6 0 .5-.2 1-.3.8-.4.7-.3.5-.6.5-.7.4-.5.2-1-.1-.5-.1-.5-.4-.6-.5-.4-.6-.4-.9-.2-.5-.2-1-.2-1-.1-.5-.1-1-.2-1-.1-.5-.1-1 .3-.5.7-.5z" fill="none" stroke="#8a8a8a" stroke-width="0.45"/>
<path d="M57.4 528.8l1 .4.5.5.4.6.2.5.1 1-.1 1-.2.5-.4.6-1 .4-.9-.5-.3-.5-.3-.7-.1-.8-.1-1 .1-1 .3-.5.8-.5z" fill="#2a2a2a"/>
</g>
<clipPath id="c20"><rect x="87.00" y="512.30" width="51.30" height="51.10"/></clipPath>
<g clip-path="url(#c20)">
<g filter="url(#sp)" fill="#000">
<ellipse rx="17.1" ry="15.6" fill="url(#gg)" opacity="1.00" transform="translate(113.0 548.1) rotate(0)"/>
<ellipse rx="24.0" ry="18.0" fill="url(#gg)" opacity="0.72" transform="translate(104.0 540.0) rotate(-45)"/>
<ellipse rx="33.0" ry="30.0" fill="url(#gg)" opacity="0.59" transform="translate(112.0 548.0) rotate(0)"/>
<ellipse rx="4.8" ry="15.0" fill="url(#gg)" opacity="0.78" transform="translate(125.0 530.0) rotate(0)"/>
</g>
<path transform="translate(87.00 512.30) scale(.5)" d="M0 0m66 10h1m9 4h1m-1 0h1m3 5h1m-46 1h1m-8 1h1m20 1h1m29 1h1m-7 2h1m1 0h1m-46 1h1m6 1h1m34 2h1m-24 1h1m1 0h1m-1 0h1m8 0h1m18 0h1m-30 1h1m21 0h1m0 0h1m-50 1h1m53 0h1m0 0h1m-50 1h1m-11 1h1m-2 1h1m63 0h1m-49 1h1m-1 0h1m15 0h1m3 0h1m24 0h1m-38 1h1m9 0h1m20 0h1m-49 1h1m18 0h1m4 0h1m21 0h1m20 0h1m-58 1h1m0 0h1m14 0h1m5 0h1m15 0h1m-49 1h1m29 0h1m7 0h1m10 0h1m6 0h1m-69 1h1m15 0h1m13 0h1m4 0h1m10 0h1m-11 1h1m41 0h1m-20 1h1m3 0h1m-56 1h1m3 0h1m8 0h1m0 0h1m12 0h1m8 0h1m0 0h1m-45 1h1m29 0h1m19 0h1m15 0h1m-81 1h1m27 0h1m15 0h1m1 0h1m-18 1h1m-1 0h1m3 0h1m2 0h1m16 0h1m3 0h1m-1 0h1m31 0h1m-50 1h1m4 0h1m11 0h1m3 0h1m-31 1h1m1 0h1m9 0h1m0 0h1m7 0h1m0 0h1m24 0h1m2 0h1m16 0h1m-89 1h1m15 0h1m12 0h1m9 0h1m7 0h1m2 0h1m-53 1h1m36 0h1m1 0h1m8 0h1m5 0h1m-61 1h1m8 0h1m14 0h1m0 0h1m0 0h1m63 0h1m-75 1h1m5 0h1m4 0h1m4 0h1m9 0h1m0 0h1m3 0h1m9 0h1m-30 1h1m0 0h1m2 0h1m1 0h1m0 0h1m2 0h1m2 0h1m11 0h1m2 0h1m0 0h1m-49 1h1m10 0h1m4 0h1m4 0h1m9 0h1m-1 0h1m10 0h1m46 0h1m-78 1h1m5 0h1m31 0h1m-59 1h1m0 0h1m10 0h1m28 0h1m11 0h1m3 0h1m0 0h1m1 0h1m7 0h1m-65 1h1m11 0h1m8 0h1m0 0h1m0 0h1m3 0h1m0 0h1m11 0h1m3 0h1m-44 1h1m15 0h1m3 0h1m4 0h1m1 0h1m0 0h1m0 0h1m0 0h1m6 0h1m4 0h1m4 0h1m-36 1h1m4 0h1m0 0h1m7 0h1m0 0h1m2 0h1m5 0h1m-1 0h1m0 0h1m7 0h1m27 0h1m-65 1h1m2 0h1m16 0h1m3 0h1m-1 0h1m6 0h1m2 0h1m27 0h1m-60 1h1m11 0h1m0 0h1m3 0h1m6 0h1m5 0h1m1 0h1m4 0h1m-57 1h1m26 0h1m12 0h1m15 0h1m-33 1h1m1 0h1m2 0h1m5 0h1m5 0h1m24 0h1m1 0h1m22 0h1m-74 1h1m8 0h1m6 0h1m2 0h1m5 0h1m18 0h1m2 0h1m10 0h1m12 0h1m-82 1h1m11 0h1m4 0h1m10 0h1m0 0h1m1 0h1m2 0h1m1 0h1m0 0h1m-1 0h1m21 0h1m5 0h1m-53 1h1m2 0h1m1 0h1m0 0h1m9 0h1m4 0h1m3 0h1m0 0h1m13 0h1m-34 1h1m2 0h1m1 0h1m5 0h1m7 0h1m4 0h1m0 0h1m5 0h1m7 0h1m1 0h1m-1 0h1m3 0h1m-52 1h1m9 0h1m14 0h1m-30 1h1m7 0h1m1 0h1m0 0h1m1 0h1m3 0h1m1 0h1m3 0h1m0 0h1m8 0h1m1 0h1m0 0h1m-1 0h1m1 0h1m-1 0h1m-1 0h1m3 0h1m0 0h1m4 0h1m8 0h1m1 0h1m19 0h1m-74 1h1m18 0h1m10 0h1m3 0h1m5 0h1m4 0h1m3 0h1m-54 1h1m-1 0h1m0 0h1m5 0h1m3 0h1m2 0h1m0 0h1m3 0h1m1 0h1m9 0h1m2 0h1m2 0h1m3 0h1m3 0h1m-36 1h1m11 0h1m-1 0h1m3 0h1m4 0h1m4 0h1m5 0h1m-47 1h1m0 0h1m10 0h1m6 0h1m1 0h1m3 0h1m8 0h1m4 0h1m-31 1h1m6 0h1m4 0h1m11 0h1m1 0h1m1 0h1m0 0h1m0 0h1m0 0h1m28 0h1m-58 1h1m10 0h1m-1 0h1m1 0h1m3 0h1m2 0h1m0 0h1m4 0h1m11 0h1m2 0h1m-1 0h1m-44 1h1m8 0h1m9 0h1m11 0h1m0 0h1m2 0h1m0 0h1m2 0h1m30 0h1m-63 1h1m7 0h1m1 0h1m0 0h1m2 0h1m-1 0h1m-1 0h1m0 0h1m3 0h1m4 0h1m10 0h1m-49 1h1m15 0h1m15 0h1m24 0h1m-47 1h1m4 0h1m11 0h1m12 0h1m19 0h1m-57 1h1m10 0h1m9 0h1m2 0h1m9 0h1m-61 1h1m8 0h1m11 0h1m16 0h1m2 0h1m7 0h1m-45 1h1m13 0h1m17 0h1m1 0h1m0 0h1m1 0h1m34 0h1m-70 1h1m16 0h1m9 0h1m-1 0h1m4 0h1m5 0h1m1 0h1m8 0h1m12 0h1m-62 1h1m19 0h1m10 0h1m8 0h1m6 0h1m13 0h1m-48 1h1m9 0h1m19 0h1m-29 1h1m6 0h1m9 0h1m2 0h1m0 0h1m-41 1h1m13 0h1m33 0h1m3 0h1m0 0h1m5 0h1m-47 1h1m6 0h1m10 0h1m4 0h1m-1 0h1m-1 0h1m0 0h1m3 0h1m0 0h1m5 0h1m10 0h1m3 0h1m2 0h1m-41 1h1m5 0h1m11 0h1m1 0h1m6 0h1m20 0h1m-60 1h1m0 0h1m30 0h1m-1 0h1m-20 1h1m18 0h1m11 0h1m-53 1h1m27 0h1m17 0h1m-49 1h1m37 0h1m7 0h1m22 0h1m-42 1h1m10 0h1m17 0h1m2 0h1m0 0h1m-54 3h1m35 0h1m-26 1h1m36 0h1m-55 1h1m28 0h1m9 0h1" stroke="#333" stroke-width="1" stroke-opacity="0.3"/>
<defs><path id="p20" d="M112.5 534.3l.7-.4.5.7.5.6.5.6.5.5.5.5.4.5.5.5.5.6.5.5.5.5.6.5.5.5.5.4.5.5.5.5.5.4.5.4.5.5.5.4.5.4.5.5.6.5.6.5.7.5.6.5.5.3.5.4.5.3.7.5-.2.5-.6.5-.7.5-.7.4-.5.4-.5.4-.5.4-.5.4-.5.5-.6.5-.6.5-.6.5-.6.5-.5.5-.6.5-.5.5-.5.4-.5.5-.5.5-.5.5-.5.5-.5.5-.5.5-.5.5-.5.6-.5.5-.4.5-.5.5-.3.5-.9.1-.4-.6-.5-.5-.4-.5-.5-.5-.4-.5-.5-.5-.5-.5-.5-.5-.5-.5-.5-.5-.5-.5-.5-.5-.6-.5-.5-.5-.6-.5-.5-.5-.6-.5-.5-.5-.5-.4-.5-.4-.5-.4-.5-.4-.5-.4-.6-.5-.7-.5-.7-.5-.5-.4-.5-.4-.5-.7.8-.5.7-.5.5-.4.5-.4.5-.4.5-.4.6-.4.6-.5.6-.5.6-.5.6-.5.5-.5.5-.5.5-.4.5-.5.5-.5.5-.4.5-.5.5-.5.5-.5.5-.5.5-.5.5-.5.5-.6.5-.5.5-.6.5-.6.4-.5z"/></defs>
<use href="#p20" fill="none" stroke="#222" stroke-width="4" stroke-opacity="0.7" filter="url(#bl)"/>
<use href="#p20" fill="#c4c4c4" stroke="#333" stroke-width="1.5" stroke-linejoin="round"/>
<path d="M112.5 541.9l.7-.5.5.6.5.6.5.5.5.5.5.5.5.5.5.4.5.5.5.4.5.5.6.5.7.5.7.5-.5.8-.5.4-.5.4-.5.4-.6.5-.6.5-.6.5-.5.5-.5.5-.5.5-.5.5-.5.5-.4.5-.9.2-.5-.6-.5-.6-.5-.5-.5-.5-.5-.5-.5-.5-.5-.4-.5-.5-.5-.4-.5-.4-.5-.4-.5-.4-.7-.5.2-.8.5-.3.6-.4.6-.5.6-.5.6-.5.5-.5.6-.5.5-.5.5-.5.5-.5.4-.5.5-.5z" fill="#d4d4d4"/>
<path d="M112.9 537.3l.4 0 .4.6.5.6.5.5.5.6.5.5.5.5.5.5.5.5.5.5.5.4.5.5.5.4.5.5.5.5.6.5.6.5.6.5.7.5.5.4.5.3.5.4.6.4-.1.5-.7.5-.7.5-.6.4-.5.4-.5.4-.5.4-.5.4-.5.5-.6.5-.5.5-.6.5-.5.5-.6.5-.5.5-.5.5-.5.5-.5.5-.5.5-.4.5-.5.5-.4.5-.4.6-.6-.3-.5-.6-.5-.6-.5-.5-.5-.6-.5-.5-.5-.5-.5-.5-.5-.5-.5-.4-.5-.5-.5-.5-.5-.4-.5-.5-.5-.4-.5-.4-.5-.4-.6-.5-.6-.5-.7-.5-.6-.5-.5-.3-.4-.7.8-.5.6-.5.5-.4.5-.4.5-.4.5-.4.6-.4.6-.5.5-.5.6-.5.6-.5.5-.5.5-.5.5-.5.6-.5.5-.5.4-.5.5-.5.5-.5.4-.5.4-.6.6-.5z" fill="none" stroke="#333" stroke-width="0.6"/>
<path d="M112.8 544.4l.5 0 .4.5.5.5.5.5.6.5.6.5.6.5.7.5-.5.8-.5.4-.5.4-.5.4-.5.5-.5.5-.5.5-.5.6-.5-.2-.6-.6-.5-.5-.5-.5-.5-.4-.5-.5-.5-.4-.7-.5.2-.7.5-.4.5-.4.6-.5.6-.5.5-.5.5-.5.5-.5z" fill="none" stroke="#8a8a8a" stroke-width="0.45"/>
<path d="M112.4 546.4l.8-.5.5.6.5.4.5.5.6.5-.1.5-.6.5-.6.5-.5.5-.9.2-.5-.6-.5-.4-.5-.4-.4-.8.7-.5.5-.5.5-.5z" fill="#2a2a2a"/>
</g>
<text x="25.80" y="429.00" font-size="8" textLength="39.20" lengthAdjust="spacingAndGlyphs">Spleen cells</text>
<path d="M19.00 433.50H70.80V485.20H19.00Z" fill="none" stroke="#b8b8b8" stroke-width="0.9"/>
<path d="M19.50 486.20H70.30" stroke="#555" stroke-width="1" stroke-dasharray="0.8 2.4" stroke-opacity="0.8"/>
<path d="M29.36 486.20h2.2" stroke="#222" stroke-width="1.1"/>
<path d="M17.70 473.96h1.3M17.70 462.72h1.3M17.70 451.48h1.3M17.70 440.24h1.3M17.70 478.20h1.3M17.70 476.20h1.3" stroke="#444" stroke-width="0.8"/>
<path d="M87.30 433.80H139.60V485.40H87.30Z" fill="none" stroke="#b8b8b8" stroke-width="0.9"/>
<path d="M87.80 486.40H139.10" stroke="#555" stroke-width="1" stroke-dasharray="0.8 2.4" stroke-opacity="0.8"/>
<path d="M97.76 486.40h2.2" stroke="#222" stroke-width="1.1"/>
<path d="M86.00 474.18h1.3M86.00 462.97h1.3M86.00 451.75h1.3M86.00 440.53h1.3M86.00 478.40h1.3M86.00 476.40h1.3" stroke="#444" stroke-width="0.8"/>
<path d="M19.60 512.30H70.50V563.40H19.60Z" fill="none" stroke="#b8b8b8" stroke-width="0.9"/>
<path d="M20.10 564.40H70.00" stroke="#555" stroke-width="1" stroke-dasharray="0.8 2.4" stroke-opacity="0.8"/>
<path d="M29.78 564.40h2.2" stroke="#222" stroke-width="1.1"/>
<path d="M18.30 552.29h1.3M18.30 541.18h1.3M18.30 530.07h1.3M18.30 518.97h1.3M18.30 556.40h1.3M18.30 554.40h1.3" stroke="#444" stroke-width="0.8"/>
<path d="M87.00 512.30H138.30V563.40H87.00Z" fill="none" stroke="#b8b8b8" stroke-width="0.9"/>
<path d="M87.50 564.40H137.80" stroke="#555" stroke-width="1" stroke-dasharray="0.8 2.4" stroke-opacity="0.8"/>
<path d="M97.26 564.40h2.2" stroke="#222" stroke-width="1.1"/>
<path d="M85.70 552.29h1.3M85.70 541.18h1.3M85.70 530.07h1.3M85.70 518.97h1.3M85.70 556.40h1.3M85.70 554.40h1.3" stroke="#444" stroke-width="0.8"/>
<rect x="19.60" y="439.00" width="43.50" height="14.50" fill="none" stroke="#e0868a" stroke-width="0.9"/>
<rect x="19.90" y="439.60" width="25.50" height="13.30" fill="none" stroke="#9ccc8c" stroke-width="0.9"/>
<rect x="45.40" y="439.60" width="17.40" height="13.30" fill="none" stroke="#9ab4da" stroke-width="0.9"/>
<rect x="93.70" y="438.20" width="38.60" height="26.80" fill="none" stroke="#9ab4da" stroke-width="0.9"/>
<line x1="114.50" y1="438.20" x2="114.50" y2="465.00" stroke="#9ab4da" stroke-width="0.9"/>
<line x1="114.50" y1="451.70" x2="132.30" y2="451.70" stroke="#9ab4da" stroke-width="0.9"/>
<rect x="20.10" y="516.10" width="30.30" height="15.40" fill="none" stroke="#9ccc8c" stroke-width="0.9"/>
<rect x="50.80" y="522.80" width="17.00" height="29.70" fill="none" stroke="#9ccc8c" stroke-width="0.9"/>
<rect x="120.40" y="513.70" width="14.40" height="24.50" fill="none" stroke="#e0868a" stroke-width="0.9"/>
<line x1="29.60" y1="453.50" x2="29.78" y2="503.80" stroke="#5e9e55" stroke-width="1"/>
<path d="M29.80 509.30L27.28 503.31L32.28 503.29Z" fill="#5e9e55"/>
<line x1="63.10" y1="446.00" x2="76.30" y2="446.21" stroke="#4b6c92" stroke-width="1.2"/>
<path d="M81.80 446.30L75.76 448.70L75.84 443.70Z" fill="#4b6c92"/>
<line x1="62.50" y1="453.00" x2="84.10" y2="502.56" stroke="#a2303c" stroke-width="1"/>
<path d="M86.30 507.60L81.61 503.10L86.19 501.10Z" fill="#a2303c"/>
<text x="124.20" y="444.30" font-size="7" textLength="7.00" lengthAdjust="spacingAndGlyphs">T2</text>
<text x="95.50" y="463.70" font-size="7" textLength="6.40" lengthAdjust="spacingAndGlyphs">T1</text>
<text x="124.20" y="463.70" font-size="7" textLength="7.00" lengthAdjust="spacingAndGlyphs">T3</text>
<text x="20.60" y="523.40" font-size="7" textLength="9.50" lengthAdjust="spacingAndGlyphs">MZ</text>
<text x="57.30" y="551.70" font-size="7" textLength="8.90" lengthAdjust="spacingAndGlyphs">FO</text>
<text x="122.90" y="521.10" font-size="7" textLength="9.30" lengthAdjust="spacingAndGlyphs">GC</text>
<text x="0" y="0" font-size="7.7" text-anchor="middle" transform="translate(13.31 461.60) rotate(-90)" textLength="16.30" lengthAdjust="spacingAndGlyphs">B220</text>
<text x="37.20" y="496.20" font-size="7.7" textLength="16.30" lengthAdjust="spacingAndGlyphs">CD93</text>
<text x="0" y="0" font-size="7.7" text-anchor="middle" transform="translate(84.41 459.30) rotate(-90)" textLength="11.30" lengthAdjust="spacingAndGlyphs">IgM</text>
<text x="105.30" y="496.10" font-size="7.7" textLength="17.00" lengthAdjust="spacingAndGlyphs">CD23</text>
<text x="0" y="0" font-size="7.7" text-anchor="middle" transform="translate(13.31 537.60) rotate(-90)" textLength="12.30" lengthAdjust="spacingAndGlyphs">IgM</text>
<text x="35.90" y="575.00" font-size="7.7" textLength="18.10" lengthAdjust="spacingAndGlyphs">CD23</text>
<text x="0" y="0" font-size="7.7" text-anchor="middle" transform="translate(83.71 538.00) rotate(-90)" textLength="10.00" lengthAdjust="spacingAndGlyphs">GL7</text>
<text x="107.30" y="574.50" font-size="7.7" textLength="10.90" lengthAdjust="spacingAndGlyphs">Fas</text>
<rect x="195.30" y="400.30" width="8.90" height="5.70" fill="#c9c7ca"/>
<rect x="195.30" y="410.90" width="8.90" height="5.70" fill="#ae3b4a"/>
<rect x="195.30" y="421.40" width="8.90" height="5.80" fill="#48699a"/>
<text x="208.40" y="406.00" font-size="7.3" textLength="27.10" lengthAdjust="spacingAndGlyphs">WT : WT</text>
<text x="208.40" y="416.30" font-size="7.3" textLength="15.40" lengthAdjust="spacingAndGlyphs">WT :</text>
<text x="227.70" y="416.30" font-size="7.3" textLength="17.70" lengthAdjust="spacingAndGlyphs">Itgax</text>
<text x="246.10" y="413.10" font-size="6.0" textLength="7.40" lengthAdjust="spacingAndGlyphs">cre</text>
<text x="254.50" y="416.30" font-size="7.3" textLength="23.90" lengthAdjust="spacingAndGlyphs">H2-Ab1</text>
<text x="283.10" y="413.10" font-size="6.0">c</text>
<text x="208.40" y="426.80" font-size="7.3" textLength="15.40" lengthAdjust="spacingAndGlyphs">WT :</text>
<text x="226.40" y="426.80" font-size="7.3" textLength="22.80" lengthAdjust="spacingAndGlyphs">Fcer2a</text>
<text x="251.80" y="423.60" font-size="6.0" textLength="8.00" lengthAdjust="spacingAndGlyphs">cre</text>
<text x="260.90" y="426.80" font-size="7.3" textLength="24.30" lengthAdjust="spacingAndGlyphs">H2-Ab1</text>
<text x="290.50" y="423.60" font-size="6.0">c</text>
<rect x="195.10" y="500.10" width="5.75" height="6.90" fill="#c9c7ca"/>
<rect x="200.85" y="500.10" width="5.75" height="9.30" fill="#ae3b4a"/>
<rect x="206.60" y="500.10" width="5.75" height="27.10" fill="#48699a"/>
<rect x="215.62" y="498.30" width="5.75" height="1.80" fill="#c9c7ca"/>
<rect x="221.37" y="446.90" width="5.75" height="53.20" fill="#ae3b4a"/>
<rect x="227.12" y="475.80" width="5.75" height="24.30" fill="#48699a"/>
<rect x="236.14" y="500.10" width="5.75" height="9.10" fill="#c9c7ca"/>
<rect x="241.89" y="461.30" width="5.75" height="38.80" fill="#ae3b4a"/>
<rect x="247.64" y="493.50" width="5.75" height="6.60" fill="#48699a"/>
<rect x="256.66" y="500.10" width="5.75" height="6.90" fill="#c9c7ca"/>
<rect x="262.41" y="459.20" width="5.75" height="40.90" fill="#ae3b4a"/>
<rect x="268.16" y="467.90" width="5.75" height="32.20" fill="#48699a"/>
<rect x="277.18" y="500.10" width="5.75" height="8.40" fill="#c9c7ca"/>
<rect x="282.93" y="452.70" width="5.75" height="47.40" fill="#ae3b4a"/>
<rect x="288.68" y="475.20" width="5.75" height="24.90" fill="#48699a"/>
<rect x="297.70" y="500.10" width="5.75" height="11.60" fill="#c9c7ca"/>
<rect x="303.45" y="474.60" width="5.75" height="25.50" fill="#ae3b4a"/>
<rect x="309.20" y="500.10" width="5.75" height="15.50" fill="#48699a"/>
<rect x="318.22" y="500.10" width="5.75" height="12.60" fill="#c9c7ca"/>
<rect x="323.97" y="500.10" width="5.75" height="6.90" fill="#ae3b4a"/>
<rect x="329.72" y="500.10" width="5.75" height="53.40" fill="#48699a"/>
<path d="M197.97 507.00V517.00M195.88 517.00h4.2M203.72 509.40V523.30M201.62 523.30h4.2M209.47 527.20V536.50M207.38 536.50h4.2M218.50 498.30V493.50M216.40 493.50h4.2M224.25 446.90V441.00M222.15 441.00h4.2M230.00 475.80V472.30M227.90 472.30h4.2M239.01 509.20V513.70M236.91 513.70h4.2M244.76 461.30V454.40M242.66 454.40h4.2M250.51 493.50V489.00M248.41 489.00h4.2M259.53 507.00V510.80M257.43 510.80h4.2M265.28 459.20V453.50M263.18 453.50h4.2M271.03 467.90V464.60M268.93 464.60h4.2M280.06 508.50V512.30M277.95 512.30h4.2M285.81 452.70V448.30M283.70 448.30h4.2M291.56 475.20V473.30M289.45 473.30h4.2M300.57 511.70V515.60M298.47 515.60h4.2M306.32 474.60V465.60M304.22 465.60h4.2M312.07 515.60V521.30M309.97 521.30h4.2M321.10 512.70V519.40M319.00 519.40h4.2M326.85 507.00V516.50M324.75 516.50h4.2M332.60 553.50V564.00M330.50 564.00h4.2" stroke="#2b2b2b" stroke-width="0.8" fill="none"/>
<line x1="192.70" y1="500.10" x2="337.70" y2="500.10" stroke="#231f20" stroke-width="1"/>
<path d="M192.7 432.8V566.7H340.4" fill="none" stroke="#231f20" stroke-width="1.2"/>
<text x="185.50" y="435.90" font-size="7.3" text-anchor="end">40</text>
<text x="185.50" y="469.20" font-size="7.3" text-anchor="end">20</text>
<text x="185.50" y="502.60" font-size="7.3" text-anchor="end">0</text>
<text x="185.50" y="535.80" font-size="7.3" text-anchor="end">-20</text>
<text x="185.50" y="569.10" font-size="7.3" text-anchor="end">-40</text>
<path d="M189.2 433.40H192.7M189.2 466.70H192.7M189.2 500.10H192.7M189.2 533.30H192.7M189.2 566.60H192.7M192.50 566.7V569.3M213.22 566.7V569.3M233.94 566.7V569.3M254.66 566.7V569.3M275.38 566.7V569.3M296.10 566.7V569.3M316.82 566.7V569.3M337.54 566.7V569.3" stroke="#231f20" stroke-width="0.9"/>
<text x="0" y="0" font-size="7" text-anchor="end" textLength="19.6" lengthAdjust="spacingAndGlyphs" transform="translate(206.28 574.8) rotate(-90)">T cells</text>
<text x="0" y="0" font-size="7" text-anchor="end" textLength="6.6" lengthAdjust="spacingAndGlyphs" transform="translate(226.80 574.8) rotate(-90)">T1</text>
<text x="0" y="0" font-size="7" text-anchor="end" textLength="6.6" lengthAdjust="spacingAndGlyphs" transform="translate(247.32 574.8) rotate(-90)">T2</text>
<text x="0" y="0" font-size="7" text-anchor="end" textLength="8.5" lengthAdjust="spacingAndGlyphs" transform="translate(267.84 574.8) rotate(-90)">MZ</text>
<text x="0" y="0" font-size="7" text-anchor="end" textLength="8.3" lengthAdjust="spacingAndGlyphs" transform="translate(288.36 574.8) rotate(-90)">FO</text>
<text x="0" y="0" font-size="7" text-anchor="end" textLength="6.6" lengthAdjust="spacingAndGlyphs" transform="translate(308.88 574.8) rotate(-90)">T3</text>
<text x="0" y="0" font-size="7" text-anchor="end" textLength="8.5" lengthAdjust="spacingAndGlyphs" transform="translate(329.40 574.8) rotate(-90)">GC</text>
<line x1="218.70" y1="585.60" x2="332.70" y2="585.60" stroke="#8a8a8a" stroke-width="1.6"/>
<text x="263.80" y="597.10" font-size="7.3" textLength="20.80" lengthAdjust="spacingAndGlyphs">B cells</text>
<text x="224.25" y="440.50" font-size="6.5" text-anchor="middle" fill="#d4545c" stroke="#d4545c">**</text>
<text x="230.00" y="471.70" font-size="6.5" text-anchor="middle" fill="#6d8fc2" stroke="#6d8fc2">*</text>
<text x="244.76" y="454.00" font-size="6.5" text-anchor="middle" fill="#d4545c" stroke="#d4545c">**</text>
<text x="265.28" y="452.80" font-size="6.5" text-anchor="middle" fill="#d4545c" stroke="#d4545c">**</text>
<text x="271.03" y="464.00" font-size="6.5" text-anchor="middle" fill="#6d8fc2" stroke="#6d8fc2">**</text>
<text x="285.81" y="447.60" font-size="6.5" text-anchor="middle" fill="#d4545c" stroke="#d4545c">**</text>
<text x="291.56" y="473.20" font-size="6.5" text-anchor="middle" fill="#6d8fc2" stroke="#6d8fc2">**</text>
<text x="306.32" y="464.90" font-size="6.5" text-anchor="middle" fill="#d4545c" stroke="#d4545c">*</text>
<text x="332.60" y="499.50" font-size="6.5" text-anchor="middle" fill="#6d8fc2" stroke="#6d8fc2">*</text>
<text x="0" y="0" font-size="9.4" text-anchor="middle" textLength="155" lengthAdjust="spacingAndGlyphs" transform="translate(172.9 499.5) rotate(-90)">% of CD45.2<tspan font-size="6" dy="-3.5">+</tspan><tspan dy="3.5"> cells, change from input</tspan></text>
<circle cx="413.2" cy="412.9" r="1.7" fill="#d0d0d0" stroke="#999" stroke-width="1.3"/>
<text x="418.70" y="415.80" font-size="7.6" textLength="9.30" lengthAdjust="spacingAndGlyphs">FO</text>
<circle cx="441.3" cy="413.2" r="1.7" fill="#e0d0e6" stroke="#b49ac0" stroke-width="1.3"/>
<text x="446.70" y="415.80" font-size="7.6" textLength="9.60" lengthAdjust="spacingAndGlyphs" fill="#9a7aa8" stroke="#9a7aa8">GC</text>
<text x="383.50" y="427.70" font-size="7.8" textLength="34.00" lengthAdjust="spacingAndGlyphs">WT donor</text>
<text x="455.40" y="427.70" font-size="7.8" textLength="28.10" lengthAdjust="spacingAndGlyphs">WT host</text>
<clipPath id="c21"><rect x="375.80" y="432.70" width="51.60" height="51.80"/></clipPath>
<g clip-path="url(#c21)">
<g filter="url(#sp)" fill="#000">
<ellipse rx="16.5" ry="10.5" fill="url(#gg)" opacity="0.13" transform="translate(403.5 474.0) rotate(0)"/>
<ellipse rx="27.0" ry="18.0" fill="url(#gg)" opacity="0.02" transform="translate(400.0 472.0) rotate(0)"/>
</g>
<path transform="translate(375.80 432.70) scale(.5)" d="M0 0m58 48h1m13 4h1m-63 2h1m63 0h1m-50 4h1m16 3h1m40 1h1m-30 1h1m-33 3h1m44 0h1m-33 1h1m20 0h1m-42 1h1m16 0h1m46 0h1m-24 1h1m11 0h1m-39 1h1m24 0h1m-24 1h1m6 0h1m6 0h1m0 0h1m1 0h1m14 0h1m14 0h1m-39 1h1m3 0h1m5 0h1m-11 1h1m30 0h1m4 0h1m-62 1h1m19 0h1m1 0h1m1 0h1m3 0h1m-1 0h1m4 0h1m22 0h1m-16 1h1m10 0h1m-27 1h1m-1 0h1m16 0h1m6 0h1m7 0h1m-35 1h1m22 0h1m13 0h1m-26 1h1m0 0h1m3 0h1m5 0h1m5 0h1m6 0h1m-48 1h1m1 0h1m5 0h1m0 0h1m3 0h1m11 0h1m4 0h1m6 0h1m-1 0h1m5 0h1m0 0h1m0 0h1m0 0h1m4 0h1m-26 1h1m0 0h1m3 0h1m8 0h1m6 0h1m-53 1h1m2 0h1m0 0h1m15 0h1m0 0h1m4 0h1m2 0h1m0 0h1m0 0h1m0 0h1m4 0h1m10 0h1m1 0h1m3 0h1m0 0h1m2 0h1m-39 1h1m5 0h1m1 0h1m5 0h1m6 0h1m1 0h1m-40 1h1m1 0h1m7 0h1m0 0h1m1 0h1m23 0h1m-39 1h1m10 0h1m8 0h1m0 0h1m-1 0h1m6 0h1m-1 0h1m15 0h1m3 0h1m-30 1h1m10 0h1m-1 0h1m4 0h1m0 0h1m-19 1h1m2 0h1m6 0h1m1 0h1m2 0h1m-1 0h1m0 0h1m1 0h1m1 0h1m0 0h1m16 0h1m-47 1h1m6 0h1m4 0h1m13 0h1m9 0h1m-23 1h1m4 0h1m0 0h1m4 0h1m1 0h1m-28 1h1m13 0h1m-1 0h1m12 0h1m1 0h1m-26 1h1m20 0h1m5 0h1m6 0h1m0 0h1m-41 1h1m12 1h1m4 0h1m-1 0h1m12 0h1m-30 1h1m11 0h1m5 0h1m3 0h1m5 0h1m0 0h1m-24 1h1m7 0h1m9 0h1m5 0h1m-19 1h1m29 0h1m-36 2h1m1 0h1m9 0h1m1 0h1m5 1h1m-19 1h1m6 0h1m-32 2h1m17 0h1" stroke="#333" stroke-width="1" stroke-opacity="0.3"/>
<path d="M401.6 466.9l.8-.1 1 0 1 0 1 .1.5 0 1 .2 1 .2.5.2 1 .3.5.2.7.4.8.4.5.3.5.4.5.5.5.5.5.6.5.8.2.5.2 1 0 1-.2 1-.2.6-.5.9-.5.6-.4.5-.6.5-.5.4-.5.3-.5.3-1 .5-.5.2-.9.3-.6.2-1 .2-.6.1-.9.1-1 .1-1 0-1 0-1.1-.1-.6-.1-.9-.2-1-.2-.5-.2-1-.3-.5-.3-.7-.3-.8-.5-.5-.4-.5-.4-.5-.4-.5-.6-.5-.7-.2-.5-.3-.8-.1-.8 0-1 .1-.6.3-.9.3-.5.4-.6.5-.6.5-.4.5-.4.7-.5.8-.5.5-.2.7-.3.8-.3.6-.2.9-.2 1-.2.8-.1zM400.5 468.9l.8-.2 1.1-.1 1 0 1 0 1 .1 1 .2.5.1 1 .3.5.2.7.4.8.5.5.4.5.5.5.6.3.5.2.5.1 1-.1 1-.2.5-.3.7-.5.6-.5.5-.5.4-.6.4-.9.5-.5.2-.9.3-.6.1-1 .2-1 .1-1 0-1 0-1.1-.1-1-.2-.5-.2-1-.3-.5-.3-.6-.3-.8-.5-.6-.5-.4-.5-.4-.5-.2-.6-.3-1 0-1 .3-1 .3-.5.4-.5.5-.5.6-.5.7-.5.5-.2.6-.3.9-.3.7-.2zM402.7 469.9l.7 0 1 0 .5.1 1 .2.8.2.7.3.5.3.7.4.5.5.4.5.4.9.1.6-.1.8-.3.7-.4.6-.5.5-.7.5-.6.3-.5.2-1 .3-.6.2-.9.1-1 0-1 0-.7-.1-.9-.2-.8-.3-.7-.3-.5-.3-.5-.4-.5-.5-.5-.7-.2-.9 0-1 .2-.7.5-.7.5-.5.5-.4.5-.3 1-.4.5-.2 1.1-.2.8-.1zM401.2 471.4l.7-.2 1-.1 1 0 1 .1.9.2.6.3.5.3.5.4.5.6.2.9-.2 1-.3.5-.6.6-.6.3-.5.2-1 .3-1 .1-.5.1-.5-.1-1-.1-1-.3-.6-.3-.5-.4-.5-.5-.4-.9 0-1 .4-.7.5-.5.5-.4.9-.4z" fill="none" stroke="#7a7a7a" stroke-width="0.45"/>
</g>
<clipPath id="c22"><rect x="375.80" y="432.70" width="51.60" height="51.80"/></clipPath>
<g clip-path="url(#c22)">
<g filter="url(#sp)" fill="#a080b0">
<ellipse rx="16.5" ry="12.6" fill="url(#gg)" opacity="0.16" transform="translate(407.0 450.0) rotate(-10)"/>
<ellipse rx="24.0" ry="18.0" fill="url(#gg)" opacity="0.02" transform="translate(402.0 452.0) rotate(0)"/>
</g>
<path transform="translate(375.80 432.70) scale(.5)" d="M0 0m64 8h1m20 6h1m-37 1h1m4 4h1m4 0h1m-7 2h1m9 2h1m-4 1h1m-7 1h1m6 0h1m16 0h1m-31 1h1m16 0h1m-1 1h1m1 0h1m-27 1h1m40 0h1m2 0h1m-31 1h1m4 0h1m1 0h1m2 1h1m1 1h1m1 0h1m14 0h1m-46 1h1m16 1h1m-1 0h1m2 0h1m-10 1h1m13 0h1m-1 0h1m19 0h1m7 0h1m-25 1h1m7 0h1m-15 2h1m17 0h1m-35 1h1m16 0h1m1 0h1m4 0h1m3 0h1m-9 1h1m3 0h1m1 0h1m-23 1h1m13 0h1m-21 1h1m11 0h1m2 0h1m-10 1h1m-3 2h1m5 0h1m1 0h1m6 0h1m0 0h1m2 0h1m12 0h1m-31 1h1m7 0h1m-18 2h1m3 0h1m-5 2h1m22 0h1m0 1h1m-22 2h1m9 0h1m13 1h1m6 0h1m-13 1h1m-27 1h1" stroke="#a080b0" stroke-width="1" stroke-opacity="0.3"/>
<path d="M407.2 441.8l.7-.1.9.1.6 0 1 .1 1 .3.5.1 1 .4.5.2.6.4.7.5.6.5.5.5.5.5.3.5.3.5.4 1 .2.5.1 1 0 1-.1 1-.2.5-.4 1-.3.5-.3.5-.4.6-.5.6-.5.5-.5.4-.6.4-.7.5-.7.4-.5.3-.9.3-.6.3-1 .2-.5.2-1 .2-1 .1-1 0-1-.1-1-.1-1-.2-.5-.1-1.1-.4-.5-.2-.6-.4-.8-.5-.6-.4-.5-.5-.5-.5-.4-.6-.3-.5-.3-.6-.3-.9-.1-1 0-1 .1-1 .3-1 .2-.5.3-.6.5-.7.5-.7.5-.5.5-.5.5-.4.5-.4.5-.3.9-.4.7-.4.5-.2 1-.3.5-.2 1-.2 1-.2.8 0zM404.8 444.3l.6-.2 1-.2 1-.1 1 .1 1 .1 1 .2.5.2.9.4.6.3.5.4.5.4.5.6.5.7.2.6.3 1 0 .5 0 .8-.2.7-.3.9-.4.6-.3.5-.5.5-.5.5-.6.5-.7.5-.5.3-.6.2-.9.4-.6.1-.9.2-1 .1-1 .1-1-.1-1-.2-.5-.2-1-.4-.5-.3-.6-.3-.5-.4-.5-.5-.5-.7-.4-.8-.2-.5-.1-1 0-1 .2-.8.3-.7.3-.5.4-.6.5-.6.5-.5.6-.4.6-.4.9-.5.5-.2.9-.3zM405 445.8l.9-.3 1-.1 1 0 1 .1 1 .2.5.2.6.4.7.5.5.5.3.5.4.9.1.6-.1 1-.1.5-.4.8-.5.7-.5.5-.5.5-.5.3-.5.3-1 .4-.5.1-1 .2-1 0-1 0-1-.3-.5-.1-.7-.4-.8-.5-.5-.5-.3-.5-.3-.5-.3-1 .1-1 .2-.9.4-.6.3-.5.5-.5.6-.5.8-.5.5-.3.6-.2zM407.2 446.8l.4 0 .8.1 1 .3.5.3.5.4.5.7.2.7 0 1-.2.6-.5.7-.5.5-.5.4-.7.3-.8.3-1 .1-1 0-1-.3-.5-.2-.6-.4-.4-.5-.5-1-.1-.5.1-.5.4-1 .4-.5.6-.5.6-.4.5-.2 1-.3.8-.1z" fill="none" stroke="#b89cc4" stroke-width="0.5"/>
</g>
<clipPath id="c23"><rect x="444.20" y="433.00" width="51.10" height="51.00"/></clipPath>
<g clip-path="url(#c23)">
<g filter="url(#sp)" fill="#000">
<ellipse rx="15.9" ry="9.9" fill="url(#gg)" opacity="1.00" transform="translate(472.0 473.5) rotate(0)"/>
<ellipse rx="9.0" ry="6.0" fill="url(#gg)" opacity="0.78" transform="translate(465.0 474.5) rotate(0)"/>
<ellipse rx="15.0" ry="12.0" fill="url(#gg)" opacity="0.78" transform="translate(461.0 473.0) rotate(0)"/>
<ellipse rx="24.0" ry="9.0" fill="url(#gg)" opacity="0.59" transform="translate(467.0 467.5) rotate(0)"/>
<ellipse rx="24.0" ry="24.0" fill="url(#gg)" opacity="0.20" transform="translate(458.0 470.0) rotate(0)"/>
</g>
<path transform="translate(444.20 433.00) scale(.5)" d="M0 0m86 19h1m-71 12h1m27 4h1m-10 1h1m-9 1h1m-18 1h1m-1 12h1m15 0h1m-1 1h1m16 2h1m5 0h1m-7 2h1m3 1h1m-23 1h1m31 0h1m-32 1h1m-2 1h1m4 0h1m7 0h1m7 0h1m3 0h1m9 0h1m-33 1h1m21 0h1m-35 1h1m29 0h1m5 0h1m0 0h1m0 0h1m-12 1h1m1 0h1m20 0h1m-21 1h1m0 0h1m8 0h1m-42 1h1m11 0h1m3 0h1m3 0h1m-1 0h1m12 0h1m8 0h1m5 0h1m12 0h1m-62 1h1m1 0h1m4 0h1m5 0h1m10 0h1m11 0h1m2 0h1m5 0h1m1 0h1m-1 0h1m-41 1h1m11 0h1m0 0h1m0 0h1m8 0h1m0 0h1m-1 0h1m14 0h1m-42 1h1m8 0h1m2 0h1m14 0h1m-1 0h1m9 0h1m24 0h1m-65 1h1m12 0h1m8 0h1m0 0h1m6 0h1m5 0h1m2 0h1m1 0h1m3 0h1m-38 1h1m5 0h1m23 0h1m6 0h1m5 0h1m-25 1h1m0 0h1m5 0h1m13 0h1m0 0h1m-47 1h1m5 0h1m4 0h1m2 0h1m4 0h1m0 0h1m2 0h1m4 0h1m2 0h1m4 0h1m0 0h1m0 0h1m4 0h1m0 0h1m0 0h1m-42 1h1m3 0h1m7 0h1m1 0h1m5 0h1m-1 0h1m6 0h1m-1 0h1m0 0h1m1 0h1m2 0h1m1 0h1m1 0h1m3 0h1m-59 1h1m28 0h1m0 0h1m-1 0h1m7 0h1m11 0h1m3 0h1m0 0h1m-50 1h1m0 0h1m8 0h1m0 0h1m3 0h1m2 0h1m0 0h1m0 0h1m0 0h1m0 0h1m5 0h1m-1 0h1m2 0h1m1 0h1m4 0h1m3 0h1m8 0h1m-56 1h1m13 0h1m3 0h1m1 0h1m2 0h1m-1 0h1m0 0h1m5 0h1m-1 0h1m4 0h1m0 0h1m0 0h1m1 0h1m1 0h1m4 0h1m3 0h1m3 0h1m-51 1h1m13 0h1m2 0h1m9 0h1m-1 0h1m5 0h1m3 0h1m1 0h1m-1 0h1m0 0h1m3 0h1m1 0h1m-1 0h1m5 0h1m0 0h1m5 0h1m-72 1h1m11 0h1m-1 0h1m12 0h1m-1 0h1m3 0h1m5 0h1m8 0h1m9 0h1m6 0h1m3 0h1m-52 1h1m3 0h1m12 0h1m0 0h1m2 0h1m0 0h1m-1 0h1m2 0h1m6 0h1m-1 0h1m4 0h1m1 0h1m-27 1h1m4 0h1m0 0h1m0 0h1m0 0h1m0 0h1m3 0h1m11 0h1m-1 0h1m0 0h1m0 0h1m-32 1h1m0 0h1m0 0h1m11 0h1m0 0h1m4 0h1m2 0h1m-1 0h1m1 0h1m10 0h1m1 0h1m1 0h1m19 0h1m-70 1h1m12 0h1m0 0h1m0 0h1m7 0h1m0 0h1m1 0h1m0 0h1m5 0h1m4 0h1m-1 0h1m0 0h1m6 0h1m7 0h1m3 0h1m10 0h1m-70 1h1m2 0h1m13 0h1m3 0h1m2 0h1m3 0h1m-1 0h1m-1 0h1m0 0h1m4 0h1m1 0h1m6 0h1m5 0h1m0 0h1m-1 0h1m-37 1h1m4 0h1m4 0h1m6 0h1m0 0h1m-1 0h1m0 0h1m3 0h1m0 0h1m0 0h1m0 0h1m3 0h1m9 0h1m-69 1h1m12 0h1m2 0h1m4 0h1m10 0h1m6 0h1m0 0h1m5 0h1m0 0h1m3 0h1m15 0h1m-1 0h1m-64 1h1m21 0h1m0 0h1m-1 0h1m3 0h1m0 0h1m5 0h1m8 0h1m16 0h1m-54 1h1m22 0h1m-1 0h1m3 0h1m-1 0h1m3 0h1m1 0h1m10 0h1m5 0h1m-61 1h1m11 0h1m11 0h1m-1 0h1m3 0h1m2 0h1m11 0h1m5 0h1m2 0h1m-32 1h1m3 0h1m10 0h1m0 0h1m7 0h1m3 0h1m0 0h1m3 0h1m2 0h1m1 0h1m-57 1h1m28 0h1m19 0h1m6 0h1m-32 1h1m8 0h1m5 0h1m23 0h1m-46 1h1m10 0h1m14 0h1m0 0h1m4 0h1m0 0h1m13 0h1m-56 1h1m5 0h1m15 0h1m7 0h1m2 0h1m-15 1h1m-1 0h1m-1 0h1m4 0h1m1 0h1m14 0h1m-15 1h1m10 0h1m18 0h1m-30 2h1m-11 1h1m5 0h1m13 0h1m6 0h1m-35 3h1m19 1h1" stroke="#333" stroke-width="1" stroke-opacity="0.3"/>
<defs><path id="p23" d="M468.7 469l.5-.1 1.1-.2 1-.1 1 0 1 0 1 .2.9.2.6.2.8.3.7.3.5.3.5.4.5.5.5.6.4.9.2.5 0 1-.2.5-.4.9-.5.6-.5.5-.5.4-.5.3-.7.3-.8.3-.6.2-.9.2-1 .2-1 0-1 .1-1-.1-1.1 0-1-.1-1-.1-1-.2-.5 0-1-.2-.8-.3-.7-.2-.5-.3-.7-.5-.5-.5-.4-.5-.3-1 .2-1 .2-.5.5-.7.5-.4.6-.4.8-.5.6-.3.5-.3 1-.4.5-.2.8-.3.7-.2 1-.3z"/></defs>
<use href="#p23" fill="none" stroke="#222" stroke-width="3.5" stroke-opacity="0.75" filter="url(#bl)"/>
<use href="#p23" fill="#e0e0e0" stroke="#111" stroke-width="1.9" stroke-linejoin="round"/>
<path d="M468.4 469.5l.8-.2 1.1-.2 1-.1 1 0 1 .1 1 .1 1 .3.5.2.7.3.8.4.5.4.5.5.5.7.2.5.2 1-.2 1-.2.5-.5.7-.5.5-.5.4-.8.4-.7.3-.5.2-1 .3-1 .1-.6.1-.9.1-1 0-1-.1-.6 0-1-.1-1-.1-1-.1-1-.1-.5-.2-1-.3-.5-.2-.6-.4-.6-.5-.4-.5-.4-1 .2-1 .3-.6.5-.5.5-.4.7-.5.8-.4.5-.3.9-.3.6-.3.7-.2.8-.3.7-.2zM468.8 470l1-.2 1-.2 1 0 1 0 1 .1 1 .3.5.2.7.3.8.5.5.4.5.6.3.5.2.8 0 .4-.2.8-.3.6-.5.5-.5.5-.8.4-.7.3-.5.2-1 .3-1 .1-1 .1-.5 0-1 0-.5 0-1.1 0-1-.1-1-.1-1-.1-1-.2-.5-.1-.8-.4-.7-.5-.5-.5-.3-.5 0-1 .3-.8.5-.6.5-.4.5-.3.8-.4.7-.3.5-.2 1-.4.5-.1 1-.4.6-.1z" fill="none" stroke="#333" stroke-width="0.6"/>
<path d="M468.6 471.5l.6-.1 1.1-.2 1-.1 1 0 1 .1.8.3.7.3.5.5.4.7.1.5 0 .5-.5.7-.5.5-.6.3-.9.3-.9.2-.6.1-1 .1-1 0-1.1.1-1 0-1 0-1-.1-.6-.2-.9-.4-.5-.4-.3-.7.3-1 .5-.5.5-.3.5-.3 1-.3.5-.2 1-.2.9-.2zM467.9 472.5l.8-.1 1.1-.2 1-.1 1 0 1 .2.5.2.6.5 0 1-.5.5-.6.3-.7.2-.8.2-1 .1-1.1.1-.6.1-.9.1-1 0-.8-.1-.7-.2-.5-.3-.2-1 .4-.5.8-.5.5-.1 1-.3.7-.1z" fill="none" stroke="#8a8a8a" stroke-width="0.45"/>
</g>
<clipPath id="c24"><rect x="444.20" y="433.00" width="51.10" height="51.00"/></clipPath>
<g clip-path="url(#c24)">
<g filter="url(#sp)" fill="#a080b0">
<ellipse rx="18.0" ry="16.5" fill="url(#gg)" opacity="0.23" transform="translate(474.0 452.0) rotate(0)"/>
<ellipse rx="27.0" ry="21.0" fill="url(#gg)" opacity="0.05" transform="translate(470.0 452.0) rotate(0)"/>
</g>
<path transform="translate(444.20 433.00) scale(.5)" d="M0 0m37 3h1m7 4h1m44 5h1m-68 3h1m23 0h1m14 0h1m13 0h1m-13 1h1m-24 1h1m23 0h1m9 0h1m-30 1h1m6 0h1m1 0h1m15 0h1m-60 1h1m28 0h1m-1 0h1m11 0h1m1 1h1m4 0h1m24 0h1m-46 1h1m24 1h1m2 0h1m-61 1h1m34 0h1m13 0h1m1 0h1m-39 1h1m22 0h1m-31 1h1m35 0h1m0 0h1m-1 0h1m2 0h1m20 0h1m3 0h1m1 0h1m-34 1h1m0 0h1m7 0h1m2 0h1m0 0h1m0 0h1m7 0h1m5 0h1m0 0h1m19 0h1m-55 1h1m5 0h1m2 0h1m2 0h1m12 0h1m2 0h1m21 1h1m-67 1h1m15 0h1m1 0h1m7 0h1m1 0h1m4 0h1m1 0h1m3 0h1m-35 1h1m29 0h1m-1 0h1m3 0h1m-44 1h1m1 0h1m8 0h1m12 0h1m0 0h1m1 0h1m12 0h1m2 0h1m1 0h1m0 0h1m9 0h1m15 0h1m-49 1h1m8 0h1m0 0h1m-1 0h1m0 0h1m3 0h1m4 0h1m-52 1h1m24 0h1m1 0h1m1 0h1m3 0h1m3 0h1m1 0h1m8 0h1m11 0h1m-64 1h1m32 0h1m1 0h1m4 0h1m2 0h1m5 0h1m-1 0h1m12 0h1m3 0h1m5 0h1m-51 1h1m11 0h1m0 0h1m2 0h1m6 0h1m3 0h1m0 0h1m1 0h1m4 0h1m12 0h1m-45 1h1m0 0h1m14 0h1m4 0h1m5 0h1m-20 1h1m3 0h1m3 0h1m8 0h1m3 0h1m9 0h1m-42 1h1m7 0h1m13 0h1m1 0h1m0 0h1m2 0h1m7 0h1m1 0h1m0 0h1m-1 0h1m3 0h1m-46 1h1m8 0h1m5 0h1m-1 0h1m4 0h1m1 0h1m4 0h1m8 0h1m1 0h1m-51 1h1m22 0h1m0 0h1m-1 0h1m12 0h1m0 0h1m6 0h1m1 0h1m4 0h1m-44 1h1m5 0h1m13 0h1m5 0h1m10 0h1m-41 1h1m9 0h1m5 0h1m0 0h1m2 0h1m6 0h1m11 0h1m-17 1h1m4 0h1m6 0h1m0 0h1m5 0h1m1 0h1m-1 0h1m4 0h1m9 0h1m-47 1h1m1 0h1m5 0h1m10 0h1m7 0h1m-1 0h1m0 0h1m2 0h1m9 0h1m-39 1h1m6 0h1m14 0h1m5 0h1m11 0h1m-80 1h1m43 0h1m15 0h1m0 0h1m1 0h1m11 0h1m-56 1h1m27 0h1m0 0h1m1 0h1m0 0h1m2 0h1m1 0h1m-1 0h1m1 0h1m11 0h1m6 0h1m-31 1h1m9 0h1m0 0h1m9 0h1m-42 1h1m0 0h1m15 0h1m1 0h1m8 0h1m3 0h1m10 0h1m9 0h1m-56 1h1m24 0h1m15 0h1m8 0h1m7 0h1m-73 1h1m16 0h1m27 0h1m11 0h1m-31 1h1m9 0h1m-15 1h1m0 0h1m1 0h1m18 0h1m-23 2h1m16 0h1m6 0h1m-1 0h1m-27 1h1m4 0h1m-11 1h1m2 0h1m24 0h1m5 0h1m-49 1h1m32 0h1m0 0h1m3 0h1m-1 0h1m13 0h1m1 0h1m-39 1h1m18 0h1m11 1h1m-20 1h1m16 1h1m-41 1h1m11 0h1m29 0h1m-13 1h1m15 1h1m-24 1h1m21 1h1m-12 1h1m14 4h1m-6 4h1m-42 7h1" stroke="#9070a0" stroke-width="1" stroke-opacity="0.3"/>
<path d="M471.1 442.5l.7-.2 1-.1 1-.1 1 0 1 .2 1 .2.5.1 1 .3.5.2.7.4.8.5.5.3.5.4.5.5.5.5.5.6.5.7.3.5.2.5.5 1 .1.5.2 1 .2 1 0 1-.2 1-.2 1-.1.5-.5 1-.2.5-.3.5-.5.7-.5.6-.5.5-.5.5-.5.4-.5.3-.8.5-.7.4-.5.2-1 .3-.5.1-1 .2-1 .2-1 0-1-.1-1-.1-.7-.2-.8-.2-.7-.3-.9-.4-.5-.3-.5-.3-.7-.5-.6-.5-.5-.5-.5-.5-.3-.5-.4-.5-.5-.8-.3-.7-.2-.5-.3-1-.1-1-.1-.8 0-.4.1-.8.1-1 .3-1 .2-.5.3-.7.5-.8.4-.5.3-.5.5-.5.5-.5.6-.5.7-.5.5-.3.5-.3.9-.4.7-.3.8-.2zM471.3 445.5l1-.3 1-.1 1-.1 1 .1 1 .3.5.1 1 .5.5.2.5.4.5.4.5.5.5.6.5.8.3.6.2.5.2 1 .1 1-.1 1-.2 1-.2.5-.3.6-.5.8-.5.6-.5.5-.5.4-.5.4-.5.2-1 .5-.5.1-1 .3-1 .1-1-.1-1-.1-1-.3-.5-.2-.6-.3-.8-.5-.7-.5-.5-.5-.4-.5-.4-.5-.2-.5-.5-1-.1-.5-.2-1 0-1 .2-1 .1-.5.5-1 .2-.5.4-.5.4-.5.5-.5.7-.5.8-.5.6-.3.5-.2z" fill="none" stroke="#b89cc4" stroke-width="0.5"/>
</g>
<ellipse cx="393.2" cy="527.3" rx="11" ry="5" fill="none" stroke="#8a8a8a" stroke-width="0.8"/>
<clipPath id="c25"><rect x="375.80" y="512.70" width="51.60" height="51.20"/></clipPath>
<g clip-path="url(#c25)">
<g filter="url(#sp)" fill="#000">
<ellipse rx="22.5" ry="9.1" fill="url(#gg)" opacity="1.00" transform="translate(407.0 534.5) rotate(-49.4)"/>
<ellipse rx="11.7" ry="13.5" fill="url(#gg)" opacity="1.00" transform="translate(410.5 549.5) rotate(10)"/>
<ellipse rx="15.0" ry="6.9" fill="url(#gg)" opacity="0.65" transform="translate(396.0 527.0) rotate(0)"/>
<ellipse rx="12.0" ry="6.9" fill="url(#gg)" opacity="0.33" transform="translate(389.0 527.0) rotate(0)"/>
<ellipse rx="30.0" ry="27.0" fill="url(#gg)" opacity="0.26" transform="translate(405.0 538.0) rotate(0)"/>
<ellipse rx="27.0" ry="15.0" fill="url(#gg)" opacity="0.65" transform="translate(407.0 534.5) rotate(-49.4)"/>
</g>
<path transform="translate(375.80 512.70) scale(.5)" d="M0 0m87 11h1m4 1h1m-31 1h1m0 0h1m18 1h1m-2 1h1m-66 1h1m32 0h1m0 2h1m29 1h1m0 0h1m0 0h1m-1 0h1m6 1h1m-29 1h1m21 0h1m-63 1h1m30 0h1m10 0h1m-22 1h1m29 0h1m2 0h1m-1 0h1m7 0h1m0 0h1m-52 1h1m1 0h1m1 0h1m20 0h1m14 0h1m-65 1h1m9 0h1m25 0h1m16 0h1m21 0h1m-61 1h1m3 0h1m12 0h1m25 0h1m-47 1h1m7 0h1m5 0h1m0 0h1m4 0h1m2 0h1m0 0h1m32 0h1m-50 1h1m2 0h1m7 0h1m2 0h1m19 0h1m3 0h1m7 0h1m-53 1h1m6 0h1m3 0h1m24 0h1m12 0h1m9 0h1m-71 1h1m11 0h1m6 0h1m14 0h1m10 0h1m0 0h1m3 0h1m7 0h1m2 0h1m5 0h1m1 0h1m-66 1h1m5 0h1m9 0h1m3 0h1m27 0h1m2 0h1m15 0h1m-62 1h1m6 0h1m15 0h1m1 0h1m17 0h1m-1 0h1m12 0h1m-38 1h1m20 0h1m4 0h1m9 0h1m17 0h1m-62 1h1m5 0h1m-1 0h1m6 0h1m24 0h1m-31 1h1m6 0h1m3 0h1m9 0h1m10 0h1m1 0h1m-49 1h1m53 0h1m10 0h1m0 0h1m-45 1h1m11 0h1m8 0h1m0 0h1m-17 1h1m7 0h1m2 0h1m1 0h1m1 0h1m2 0h1m10 0h1m13 0h1m-63 1h1m22 0h1m3 0h1m0 0h1m0 0h1m4 0h1m26 0h1m-49 1h1m29 0h1m-36 1h1m2 0h1m5 0h1m6 0h1m1 0h1m5 0h1m-46 1h1m11 0h1m3 0h1m5 0h1m-1 0h1m7 0h1m8 0h1m1 0h1m9 0h1m-54 1h1m31 0h1m3 0h1m14 0h1m1 0h1m7 0h1m-37 1h1m6 0h1m5 0h1m4 0h1m14 0h1m-39 1h1m9 0h1m5 0h1m5 0h1m1 0h1m5 0h1m-40 1h1m9 0h1m5 0h1m0 0h1m6 0h1m4 0h1m2 0h1m-1 0h1m-44 1h1m33 0h1m2 0h1m4 0h1m0 0h1m2 0h1m0 0h1m0 0h1m-41 1h1m19 0h1m0 0h1m-1 0h1m-1 0h1m2 0h1m9 0h1m-1 0h1m7 0h1m1 0h1m2 0h1m6 0h1m1 0h1m-44 1h1m17 0h1m3 0h1m4 0h1m8 0h1m-37 1h1m6 0h1m-1 0h1m9 0h1m8 0h1m0 0h1m16 0h1m-47 1h1m2 0h1m1 0h1m10 0h1m-1 0h1m2 0h1m0 0h1m2 0h1m-1 0h1m0 0h1m14 0h1m-37 1h1m2 0h1m7 0h1m0 0h1m10 0h1m6 0h1m-1 0h1m15 0h1m-50 1h1m7 0h1m5 0h1m5 0h1m6 0h1m11 0h1m-39 1h1m12 0h1m-1 0h1m3 0h1m6 0h1m3 0h1m2 0h1m-44 1h1m4 0h1m6 0h1m16 0h1m18 0h1m0 0h1m-61 1h1m20 0h1m7 0h1m23 0h1m11 0h1m-58 1h1m13 0h1m2 0h1m3 0h1m2 0h1m0 0h1m0 0h1m0 0h1m4 0h1m19 0h1m-31 2h1m3 0h1m0 0h1m7 0h1m2 0h1m0 0h1m0 0h1m-42 1h1m4 0h1m35 0h1m-30 1h1m12 0h1m3 0h1m8 0h1m3 0h1m-34 1h1m1 0h1m10 0h1m5 0h1m0 0h1m1 0h1m15 0h1m5 0h1m-31 1h1m5 0h1m10 0h1m2 0h1m6 0h1m3 0h1m-60 1h1m7 0h1m13 0h1m6 0h1m4 0h1m8 0h1m3 0h1m4 0h1m4 0h1m-28 1h1m7 0h1m6 0h1m4 0h1m-19 1h1m5 0h1m0 0h1m5 0h1m7 0h1m9 0h1m-48 1h1m18 0h1m9 0h1m25 0h1m-42 1h1m0 0h1m11 0h1m3 0h1m-36 1h1m16 0h1m2 0h1m4 0h1m-21 1h1m12 0h1m1 0h1m3 0h1m13 0h1m5 0h1m9 0h1m-50 1h1m25 0h1m12 0h1m13 0h1m-44 1h1m5 0h1m9 0h1m12 0h1m2 0h1m-44 1h1m8 0h1m12 0h1m9 0h1m-7 1h1m2 0h1m1 0h1m3 0h1m-23 1h1m9 1h1m17 0h1m5 0h1m-83 1h1m20 0h1m9 0h1m24 0h1m4 0h1m5 0h1m-12 1h1m15 0h1m7 0h1m-28 1h1m6 0h1m26 0h1m1 0h1m-69 1h1m31 0h1m4 0h1m5 0h1m5 0h1m-37 1h1m37 0h1m-54 1h1m34 0h1m1 0h1m8 0h1m2 0h1m0 0h1m-12 1h1m6 0h1m7 1h1m4 0h1m-21 2h1m10 0h1m-46 1h1m29 0h1m7 0h1m17 0h1m10 2h1m-21 1h1m-16 1h1m-1 1h1m7 0h1m-3 1h1m10 0h1m-11 1h1m-8 7h1" stroke="#333" stroke-width="1" stroke-opacity="0.3"/>
<path d="M415.9 520.7l.5-.1 1-.2 1 .1.6.2.3 1 0 1-.1 1-.1 1-.2 1.1-.1.5-.3 1-.1.5-.3 1-.2.5-.4 1-.2.5-.4 1-.2.5-.3.7-.4.8-.2.5-.4.7-.4.8-.3.5-.3.5-.5.8-.5.7-.3.5-.4.5-.5.5-.5.5-.6.5-.5.5-.7.5-.5.5-.5.4-.5.3-.5.4-.7.4-.7.5-.6.4-.5.3-.6.3-.9.5-.5.3-.5.3-.9.4-.7.3-.5.2-1 .4-.5.2-1 .3-.5.1-1 .2-1 .1-.7-.3-.3-.5-.1-1 0-1 .1-1 .1-.5.2-1 .2-1 .1-.5.3-1 .2-.5.4-1 .1-.5.4-1 .2-.5.3-.7.4-.8.3-.5.3-.8.4-.7.3-.5.3-.6.5-.9.4-.5.3-.5.4-.5.4-.6.6-.6.5-.4.5-.5.5-.4.6-.5.6-.5.7-.5.6-.5.5-.3.5-.4.5-.4.8-.5.7-.3.5-.3.5-.4 1-.5.5-.2.5-.3 1-.4.5-.2.9-.4.6-.2 1-.3z" fill="none" stroke="#777" stroke-width="0.5"/>
<defs><path id="p25" d="M413.9 524.2l.5-.1 1 0 .5.3.2.8 0 1.1-.1 1-.1.5-.3 1-.2.8-.2.7-.3.8-.3.7-.2.6-.4.9-.2.5-.4.7-.4.8-.3.5-.3.5-.5.8-.5.7-.4.5-.5.5-.6.5-.5.5-.5.4-.5.3-.5.4-.6.4-.8.5-.6.4-.5.3-.6.3-.9.5-.5.3-.6.2-.9.4-.6.2-1 .3-.5.1-1 .1-.5-.1-.4-1 0-1 .1-1 .2-1 .2-.5.2-1 .2-.6.3-.9.2-.5.5-1 .2-.5.3-.8.4-.7.3-.5.3-.7.6-.8.3-.5.3-.5.5-.5.5-.5.5-.5.6-.5.6-.5.7-.5.5-.4.5-.3.5-.3.8-.5.7-.5.5-.2.6-.3.9-.5.5-.2.8-.4.7-.2 1-.3z"/></defs>
<use href="#p25" fill="none" stroke="#222" stroke-width="3.5" stroke-opacity="0.7" filter="url(#bl)"/>
<use href="#p25" fill="#b0b0b0" stroke="#2e2e2e" stroke-width="1.25" stroke-linejoin="round"/>
<path d="M410.6 528.8l.8-.2.6.2.1 1-.1 1-.1.5-.3 1-.2.5-.4 1-.3.5-.3.7-.5.8-.3.5-.5.5-.5.5-.7.5-.5.4-.5.4-.5.3-.8.4-.7.4-.5.2-1 .4-.5.1-.8-.1-.3-.5.1-.6.1-.9.2-1 .2-.5.4-1 .2-.5.4-.8.4-.7.3-.5.3-.5.5-.6.5-.4.6-.5.7-.5.7-.5.5-.3.5-.3.9-.4.6-.3.7-.2z" fill="#c4c4c4"/>
<path d="M413.4 525.2l1 0 .5.1.3 1-.1 1-.1 1-.1.5-.3 1-.2.8-.3.7-.2.7-.4.8-.2.5-.4.9-.3.6-.3.5-.4.8-.5.7-.3.5-.4.5-.5.5-.6.5-.6.5-.6.5-.5.4-.5.3-.5.4-.7.4-.8.5-.5.3-.5.2-1 .5-.5.2-.8.3-.8.3-1 .2-.5 0-.5 0-.4-1-.1-.5.1-.5.1-1 .2-1 .2-.5.3-1 .1-.5.4-1 .2-.5.4-.9.3-.6.3-.5.5-.9.3-.6.3-.5.4-.5.5-.6.5-.5.5-.5.5-.4.6-.5.7-.5.7-.5.5-.3.5-.3.7-.4.8-.5.5-.3.6-.2.9-.4.5-.2 1-.3.5-.2zM411.4 526.8l1-.3 1-.1.6.4.1 1-.1 1-.1.7-.2.8-.3 1-.2.5-.3.8-.3.7-.2.5-.5 1-.3.5-.3.5-.4.7-.5.7-.5.5-.5.5-.5.4-.5.4-.5.4-.6.4-.8.5-.6.4-.5.3-.6.3-.9.5-.5.2-1 .3-.5.2-1.1.1-.8-.3-.1-1 .1-1 .2-1 .1-.7.3-.8.2-.7.4-.8.2-.5.4-1 .3-.5.3-.5.5-.8.4-.7.4-.5.4-.5.6-.5.6-.5.6-.5.5-.3.5-.4.5-.3.8-.5.7-.4.5-.3.7-.3.8-.4.5-.1z" fill="none" stroke="#333" stroke-width="0.6"/>
<path d="M409.5 530.3l.9-.2.5.7-.2 1-.3 1-.1.5-.4.9-.3.6-.3.5-.4.6-.5.5-.5.4-.6.5-.8.5-.6.4-.5.2-1 .4-.5.1-.6-.1-.1-1 .2-.9.1-.6.4-.9.2-.6.3-.5.5-.8.5-.7.5-.4.5-.4.5-.4.5-.3.9-.5.6-.3.6-.2zM407.7 532.3l.7-.3.9.3-.2 1-.2.7-.4.8-.3.5-.5.5-.7.5-.6.4-.5.2-1 .2-.2-.8.2-.6.3-.9.3-.5.4-.6.5-.5.5-.4.8-.5z" fill="none" stroke="#8a8a8a" stroke-width="0.45"/>
<path d="M406.9 533.8l1-.4 0 .8-.4.6-.5.5-.6.3-.2-.8.2-.5.5-.5z" fill="#2a2a2a"/>
</g>
<clipPath id="c26"><rect x="375.80" y="512.70" width="51.60" height="51.20"/></clipPath>
<g clip-path="url(#c26)">
<path d="M410.1 540.8l.8 0 .7 0 .8.1 1 .4.5.2.6.3.6.5.6.5.5.5.3.5.4.5.5 1 .2.5.3 1 .1.5.1 1 0 1 0 1-.2 1-.1.6-.4 1-.2.5-.3.5-.5.8-.5.7-.4.5-.6.5-.5.4-.5.3-.5.3-1 .5-.5.1-1 .2-1 0-1-.1-.9-.2-.6-.3-.5-.2-.8-.5-.6-.5-.5-.5-.4-.5-.4-.5-.3-.7-.4-.8-.2-.5-.3-1-.1-1.1 0-1 0-1 .2-1 .3-1 .1-.5.4-.7.4-.8.3-.5.3-.5.5-.5.5-.5.6-.5.7-.5.7-.3.5-.3 1-.3.7-.1z" fill="none" stroke="#777" stroke-width="0.5"/>
<defs><path id="p26" d="M409.1 542.8l.8-.2 1-.1 1 .1.6.2.9.4.5.3.5.4.5.5.5.7.4.7.3.5.3 1 .1.5.1 1 0 1-.2 1-.1.6-.4 1-.2.5-.3.5-.5.7-.5.5-.5.5-.5.4-.7.4-.8.3-.8.2-.7.1-1-.1-.5-.1-1-.4-.5-.3-.5-.3-.5-.5-.5-.5-.5-.8-.4-.6-.2-.5-.2-1-.2-1.1 0-1 .2-1 .2-1 .2-.5.4-.7.4-.8.4-.5.5-.5.5-.5.7-.4.5-.3.7-.3z"/></defs>
<use href="#p26" fill="none" stroke="#222" stroke-width="3" stroke-opacity="0.6" filter="url(#bl)"/>
<use href="#p26" fill="#505050" stroke="#222" stroke-width="1.25" stroke-linejoin="round"/>
<path d="M409.4 546.8l1-.3 1 .1.5.3.5.4.5.8.2.7 0 1-.2.8-.4.8-.5.5-.6.4-.5.1-1 0-.5-.1-.6-.4-.4-.5-.4-1.1-.1-1 .2-1 .3-.5.5-.5.5-.5z" fill="#6a6a6a"/>
</g>
<clipPath id="c27"><rect x="444.40" y="512.60" width="51.70" height="50.80"/></clipPath>
<g clip-path="url(#c27)">
<g filter="url(#sp)" fill="#000">
<ellipse rx="30.9" ry="8.4" fill="url(#gg)" opacity="1.00" transform="translate(463.5 554.4) rotate(0)"/>
<ellipse rx="36.0" ry="9.0" fill="url(#gg)" opacity="0.78" transform="translate(462.0 549.0) rotate(0)"/>
<ellipse rx="24.0" ry="27.0" fill="url(#gg)" opacity="0.16" transform="translate(456.0 535.0) rotate(0)"/>
<ellipse rx="15.0" ry="15.0" fill="url(#gg)" opacity="0.52" transform="translate(452.0 552.0) rotate(0)"/>
</g>
<path transform="translate(444.40 512.60) scale(.5)" d="M0 0m2 9h1m15 6h1m11 5h1m-11 2h1m-6 3h1m14 0h1m26 0h1m-21 1h1m0 4h1m-4 5h1m4 1h1m-20 1h1m6 1h1m16 1h1m-9 1h1m8 1h1m-32 2h1m11 0h1m6 3h1m4 0h1m11 0h1m-49 1h1m17 3h1m-7 1h1m9 1h1m-13 2h1m8 0h1m10 0h1m-11 2h1m13 0h1m-27 1h1m19 0h1m7 0h1m-36 1h1m75 0h1m-75 1h1m2 0h1m10 0h1m14 0h1m-22 2h1m-3 1h1m1 0h1m-8 1h1m0 0h1m2 0h1m5 0h1m45 0h1m-57 1h1m28 0h1m27 0h1m-48 1h1m41 0h1m8 0h1m-52 1h1m6 0h1m15 0h1m1 0h1m1 0h1m22 0h1m-61 1h1m17 0h1m0 0h1m6 0h1m0 0h1m1 0h1m3 0h1m-38 1h1m10 0h1m14 0h1m-1 0h1m11 0h1m9 0h1m-48 1h1m3 0h1m16 0h1m0 0h1m1 0h1m1 0h1m11 0h1m4 0h1m12 0h1m-57 1h1m2 0h1m-1 0h1m11 0h1m2 0h1m3 0h1m3 0h1m0 0h1m7 0h1m16 0h1m-46 1h1m1 0h1m4 0h1m4 0h1m9 0h1m2 0h1m6 0h1m-1 0h1m10 0h1m0 0h1m0 0h1m-52 1h1m4 0h1m6 0h1m-1 0h1m8 0h1m0 0h1m3 0h1m2 0h1m5 0h1m0 0h1m0 0h1m29 0h1m-61 1h1m0 0h1m12 0h1m0 0h1m12 0h1m6 0h1m48 0h1m-88 1h1m10 0h1m7 0h1m11 0h1m13 0h1m0 0h1m8 0h1m4 0h1m11 0h1m5 0h1m-83 1h1m0 0h1m15 0h1m1 0h1m0 0h1m2 0h1m0 0h1m6 0h1m-1 0h1m3 0h1m11 0h1m-1 0h1m0 0h1m0 0h1m0 0h1m4 0h1m-1 0h1m14 0h1m2 0h1m-76 1h1m4 0h1m24 0h1m0 0h1m11 0h1m0 0h1m3 0h1m-42 1h1m-1 0h1m0 0h1m1 0h1m7 0h1m2 0h1m7 0h1m2 0h1m3 0h1m4 0h1m1 0h1m34 0h1m0 0h1m-80 1h1m0 0h1m7 0h1m7 0h1m10 0h1m8 0h1m12 0h1m6 0h1m1 0h1m3 0h1m-49 1h1m-1 0h1m2 0h1m-1 0h1m8 0h1m2 0h1m3 0h1m6 0h1m5 0h1m7 0h1m5 0h1m5 0h1m0 0h1m15 0h1m10 0h1m-87 1h1m1 0h1m1 0h1m2 0h1m0 0h1m2 0h1m3 0h1m0 0h1m1 0h1m8 0h1m17 0h1m5 0h1m27 0h1m-86 1h1m8 0h1m3 0h1m-1 0h1m1 0h1m-1 0h1m0 0h1m7 0h1m22 0h1m2 0h1m2 0h1m2 0h1m0 0h1m3 0h1m-55 1h1m7 0h1m5 0h1m-1 0h1m6 0h1m0 0h1m3 0h1m1 0h1m3 0h1m0 0h1m7 0h1m0 0h1m0 0h1m0 0h1m2 0h1m17 0h1m-77 1h1m9 0h1m-1 0h1m12 0h1m1 0h1m4 0h1m3 0h1m7 0h1m2 0h1m1 0h1m1 0h1m0 0h1m2 0h1m0 0h1m14 0h1m-70 1h1m7 0h1m9 0h1m2 0h1m1 0h1m1 0h1m4 0h1m2 0h1m1 0h1m-1 0h1m-1 0h1m10 0h1m0 0h1m0 0h1m0 0h1m-41 1h1m1 0h1m5 0h1m2 0h1m12 0h1m6 0h1m5 0h1m0 0h1m1 0h1m2 0h1m17 0h1m-63 1h1m7 0h1m8 0h1m-1 0h1m12 0h1m10 0h1m3 0h1m1 0h1m-52 1h1m5 0h1m0 0h1m5 0h1m0 0h1m4 0h1m31 0h1m5 0h1m-1 0h1m0 0h1m1 0h1m0 0h1m5 0h1m-71 1h1m2 0h1m11 0h1m8 0h1m9 0h1m0 0h1m1 0h1m3 0h1m0 0h1m27 0h1m-27 1h1m0 0h1m16 0h1m-43 1h1m0 0h1m0 0h1m10 0h1m6 0h1m10 0h1m12 0h1m-58 2h1m4 0h1m7 0h1m-1 0h1m0 0h1m20 0h1m-44 1h1m0 0h1m3 0h1m0 0h1m8 0h1m35 0h1m-1 0h1m3 0h1m-49 1h1m7 0h1m13 0h1m10 0h1m3 0h1m5 0h1m10 0h1m-41 1h1m68 0h1m-69 1h1m6 0h1m11 0h1m-15 1h1m2 2h1m23 0h1m-39 1h1" stroke="#333" stroke-width="1" stroke-opacity="0.3"/>
<defs><path id="p27" d="M458 550.3l1-.1 1 0 1-.1 1 0 1-.1 1 0 1 .1 1 0 1 .1 1 0 1 .1.5.1 1 .1 1 .1 1 .2.5.1 1 .2.8.2.7.2.9.3.6.3.6.2.8.5.6.5.4.5 0 1-.4.6-.5.5-.7.5-.8.3-.5.2-1 .4-.5.1-1 .3-.9.2-.6.1-1 .2-1 .1-.5.1-1 .1-1 .1-1 .1-1 0-1 0-1 .1-1 0-1-.1-1 0-1-.1-1 0-1-.1-1-.1-.6-.1-1-.1-1-.2-.5-.1-1-.2-1-.3-.5-.2-1-.3-.5-.2-.7-.3-.8-.5-.5-.5-.3-.6 0-1 .4-.5.6-.5.8-.5.5-.2.7-.3.8-.2.8-.3.7-.2 1-.2.5-.1 1-.2 1-.1 1.1-.1.5-.1z"/></defs>
<use href="#p27" fill="none" stroke="#222" stroke-width="3.5" stroke-opacity="0.75" filter="url(#bl)"/>
<use href="#p27" fill="#e0e0e0" stroke="#151515" stroke-width="1.7" stroke-linejoin="round"/>
<path d="M456.9 550.8l.6-.1 1-.1 1-.1 1 0 1-.1 1 0 1 0 1 0 1 0 1 .1 1 0 1 .1 1 .1.6.1.9.2 1 .1.9.2.6.2 1 .2.5.2 1 .4.5.2.6.3.6.5.4.5 0 1-.3.6-.6.5-.7.4-.5.2-.9.4-.6.2-1 .2-.5.2-1 .2-1 .1-.5.1-1 .2-1 .1-1 .1-1 0-1 .1-.5 0-1 0-1 0-1 0-.5 0-1-.1-1 0-1-.1-1-.1-1.1-.2-.5-.1-1-.1-1-.3-.5-.1-1-.3-.5-.1-1-.4-.5-.3-.6-.3-.6-.5-.3-.6 0-1 .4-.5.6-.4.5-.3.5-.3 1-.4.5-.1 1-.3.7-.2.8-.2 1-.1 1-.2zM457 551.3l1-.1 1-.1 1-.1 1-.1 1 0 1 0 1 0 1 0 1 0 1 .1 1 .1 1 .1 1 .1.5.1 1 .2 1 .2.5.2 1 .3.5.2.7.3.7.5.5.5 0 1-.4.6-.6.5-.9.4-.5.2-1 .3-.5.2-1 .2-.9.2-.6.1-1 .1-1 .1-1 .1-.9.1-.6 0-1 0-1 0-1 0-1 0-.6 0-.9-.1-1-.1-1-.1-1.1-.1-.5-.1-1-.2-1-.3-.5-.1-1-.3-.5-.2-.8-.4-.6-.5-.4-.6 0-1 .5-.5.7-.5.6-.3.5-.2 1-.3.6-.2.9-.2 1-.2.6-.1z" fill="none" stroke="#333" stroke-width="0.6"/>
<path d="M459.3 552.3l.7-.1 1-.1 1 0 1-.1 1 0 1 .1 1 0 1 .1.7.1.8.2 1 .2.5.1 1 .4.5.3.5.4 0 .9-.5.5-.5.3-.6.3-.9.2-1 .2-.5.1-1 .2-1 .1-1 0-1 .1-1 0-1-.1-1 0-1-.1-1-.2-.5-.1-1-.2-.9-.2-.7-.3-.5-.3-.5-.5 0-.7.5-.6.5-.3 1-.4.6-.1 1-.2.8-.2zM462.3 552.8l.7 0 1 0 .7 0 .8.1 1 .1 1 .2.5.2 1 .4.4.5-.4.6-.8.5-.7.2-1 .2-.6.1-.9 0-1 .1-1 0-1-.1-.9 0-.6-.1-1-.3-.7-.1-.8-.5-.4-.6.4-.5 1-.4.5-.1 1-.2 1-.2.8-.1z" fill="none" stroke="#8a8a8a" stroke-width="0.45"/>
</g>
<clipPath id="c28"><rect x="444.40" y="512.60" width="51.70" height="50.80"/></clipPath>
<g clip-path="url(#c28)">
<g filter="url(#sp)" fill="#a080b0">
<ellipse rx="8.4" ry="9.0" fill="url(#gg)" opacity="0.23" transform="translate(472.0 528.0) rotate(0)"/>
<ellipse rx="8.4" ry="9.0" fill="url(#gg)" opacity="0.23" transform="translate(478.0 532.0) rotate(0)"/>
<ellipse rx="15.0" ry="13.5" fill="url(#gg)" opacity="0.13" transform="translate(474.0 530.0) rotate(0)"/>
</g>
<path transform="translate(444.40 512.60) scale(.5)" d="M0 0m74 15h1m-21 3h1m-4 1h1m15 1h1m-10 3h1m6 0h1m-13 1h1m9 0h1m7 0h1m-18 1h1m-1 0h1m1 0h1m5 0h1m-9 1h1m1 0h1m-4 1h1m6 0h1m-3 1h1m2 0h1m10 0h1m-27 1h1m5 0h1m11 0h1m7 0h1m0 0h1m-28 1h1m10 0h1m-1 0h1m2 0h1m0 0h1m0 0h1m0 0h1m1 0h1m-15 1h1m4 0h1m5 0h1m-17 1h1m-1 0h1m2 0h1m8 0h1m0 0h1m0 0h1m3 1h1m-9 1h1m14 0h1m-2 1h1m4 0h1m-1 0h1m-23 1h1m1 0h1m-1 0h1m2 0h1m5 0h1m15 0h1m-41 1h1m5 0h1m12 0h1m6 0h1m-17 1h1m8 0h1m1 0h1m7 0h1m-11 1h1m15 0h1m-17 1h1m3 0h1m0 0h1m1 0h1m1 0h1m3 0h1m-27 1h1m10 0h1m16 0h1m-30 1h1m14 0h1m6 0h1m3 0h1m-32 1h1m25 0h1m-9 1h1m24 0h1m-30 1h1m4 0h1m6 1h1m8 0h1m-27 1h1m14 4h1m-6 2h1m-3 1h1" stroke="#a080b0" stroke-width="1" stroke-opacity="0.3"/>
<path d="M470.7 522.2l.8-.2 1-.1 1 .1.8.2.7.2.7.3.8.4.5.2.6.4.8.5.6.4.5.3.5.4.5.4.6.5.5.5.4.6.5.8.4.6.2.5.3 1 .1 1 0 1-.2 1-.3.8-.3.7-.3.5-.4.5-.5.6-.5.4-.8.5-.7.3-.7.2-.8.2-1 0-1-.1-.5-.1-1-.2-.7-.3-.8-.2-.5-.3-1-.4-.5-.2-.7-.4-.8-.4-.5-.4-.5-.4-.5-.5-.5-.5-.5-.7-.3-.6-.3-.5-.3-1-.1-.5-.1-1 0-1 .1-.7.2-.8.3-.8.3-.7.4-.5.4-.5.4-.5.6-.5.8-.5.6-.3.7-.2zM470.5 523.7l.5-.2 1-.2 1 0 1 .2.5.2.9.5.6.3.5.3.5.4.8.5.7.5.5.3.5.4.5.4.5.5.5.6.5.7.3.6.2.8.2.7 0 1-.2.6-.2.9-.3.5-.5.7-.5.5-.5.4-.9.4-.6.2-1 .2-1-.1-1-.3-.5-.1-.7-.4-.8-.3-.5-.3-.8-.4-.7-.3-.5-.3-.6-.4-.7-.5-.6-.5-.5-.5-.3-.5-.3-.5-.4-1-.2-.5-.1-1 .1-1 .1-.5.4-1 .2-.5.4-.5.5-.6.6-.4.9-.5zM470.6 524.7l.9-.3 1-.1 1 .1.7.3.8.4.5.3.5.4.6.4.7.5.7.4.5.4.5.3.5.4.5.5.5.7.4.8.2.5.1 1-.1 1-.2.5-.4.7-.5.6-.5.4-.5.3-1 .3-1 0-1-.2-.5-.2-.8-.4-.7-.3-.5-.3-.7-.4-.8-.4-.5-.2-.6-.4-.7-.5-.5-.5-.5-.5-.3-.5-.4-1-.1-.5-.1-1 .2-.9.2-.6.3-.6.5-.6.5-.5.6-.3zM471.8 525.2l.7-.1.5.1 1 .3.5.3.6.4.6.5.7.5.6.4.5.3.5.3.7.5.6.5.4.5.3.6.3.9 0 1-.3.9-.4.6-.6.5-.5.3-1 .2-1-.2-.8-.3-.7-.3-.5-.3-.6-.4-.9-.5-.5-.2-.5-.3-.9-.5-.6-.4-.5-.6-.4-.5-.2-.5-.2-1 .1-1 .2-.7.5-.8.5-.5.5-.3.8-.2zM471.4 526.2l.6-.2 1 .1.5.1.8.5.6.5.6.5.5.4.5.3.5.3.8.5.7.5.5.5.3.5.2 1-.3 1-.4.5-.8.5-.5 0-.5 0-1-.3-.5-.3-.6-.4-.8-.5-.6-.3-.5-.2-1-.5-.5-.3-.5-.4-.5-.6-.4-.7-.1-1 .3-1 .4-.5.7-.5z" fill="none" stroke="#b89cc4" stroke-width="0.5"/>
</g>
<path d="M375.80 432.70H427.40V484.50H375.80Z" fill="none" stroke="#b8b8b8" stroke-width="0.9"/>
<path d="M376.30 485.50H426.90" stroke="#555" stroke-width="1" stroke-dasharray="0.8 2.4" stroke-opacity="0.8"/>
<path d="M386.12 485.50h2.2" stroke="#222" stroke-width="1.1"/>
<path d="M374.50 473.24h1.3M374.50 461.98h1.3M374.50 450.72h1.3M374.50 439.46h1.3M374.50 477.50h1.3M374.50 475.50h1.3" stroke="#444" stroke-width="0.8"/>
<path d="M444.20 433.00H495.30V484.00H444.20Z" fill="none" stroke="#b8b8b8" stroke-width="0.9"/>
<path d="M444.70 485.00H494.80" stroke="#555" stroke-width="1" stroke-dasharray="0.8 2.4" stroke-opacity="0.8"/>
<path d="M454.42 485.00h2.2" stroke="#222" stroke-width="1.1"/>
<path d="M442.90 472.91h1.3M442.90 461.83h1.3M442.90 450.74h1.3M442.90 439.65h1.3M442.90 477.00h1.3M442.90 475.00h1.3" stroke="#444" stroke-width="0.8"/>
<path d="M375.80 512.70H427.40V563.90H375.80Z" fill="none" stroke="#b8b8b8" stroke-width="0.9"/>
<path d="M376.30 564.90H426.90" stroke="#555" stroke-width="1" stroke-dasharray="0.8 2.4" stroke-opacity="0.8"/>
<path d="M386.12 564.90h2.2" stroke="#222" stroke-width="1.1"/>
<path d="M374.50 552.77h1.3M374.50 541.64h1.3M374.50 530.51h1.3M374.50 519.38h1.3M374.50 556.90h1.3M374.50 554.90h1.3" stroke="#444" stroke-width="0.8"/>
<path d="M444.40 512.60H496.10V563.40H444.40Z" fill="none" stroke="#b8b8b8" stroke-width="0.9"/>
<path d="M444.90 564.40H495.60" stroke="#555" stroke-width="1" stroke-dasharray="0.8 2.4" stroke-opacity="0.8"/>
<path d="M454.74 564.40h2.2" stroke="#222" stroke-width="1.1"/>
<path d="M443.10 552.36h1.3M443.10 541.31h1.3M443.10 530.27h1.3M443.10 519.23h1.3M443.10 556.40h1.3M443.10 554.40h1.3" stroke="#444" stroke-width="0.8"/>
<line x1="396.40" y1="432.70" x2="396.40" y2="484.50" stroke="#8f8f8f" stroke-width="0.9"/>
<line x1="375.80" y1="464.80" x2="427.40" y2="464.80" stroke="#8f8f8f" stroke-width="0.9"/>
<line x1="465.40" y1="433.00" x2="465.40" y2="484.00" stroke="#8f8f8f" stroke-width="0.9"/>
<line x1="444.20" y1="465.00" x2="495.30" y2="465.00" stroke="#8f8f8f" stroke-width="0.9"/>
<line x1="465.40" y1="512.60" x2="465.40" y2="563.40" stroke="#8f8f8f" stroke-width="0.9"/>
<line x1="444.40" y1="545.00" x2="496.10" y2="545.00" stroke="#8f8f8f" stroke-width="0.9"/>
<text x="417.00" y="440.10" font-size="7" textLength="7.00" lengthAdjust="spacingAndGlyphs" fill="#9a7aa8" stroke="#9a7aa8">90</text>
<text x="417.00" y="482.20" font-size="7" textLength="7.00" lengthAdjust="spacingAndGlyphs">92</text>
<text x="485.30" y="440.10" font-size="7" textLength="6.40" lengthAdjust="spacingAndGlyphs" fill="#9a7aa8" stroke="#9a7aa8">91</text>
<text x="485.30" y="481.70" font-size="7" textLength="6.40" lengthAdjust="spacingAndGlyphs">89</text>
<text x="485.50" y="520.40" font-size="7" textLength="7.30" lengthAdjust="spacingAndGlyphs" fill="#9a7aa8" stroke="#9a7aa8">98</text>
<text x="485.50" y="561.40" font-size="7" textLength="7.30" lengthAdjust="spacingAndGlyphs">29</text>
<text x="387.80" y="493.80" font-size="7.7" textLength="20.50" lengthAdjust="spacingAndGlyphs">MHC II</text>
<text x="456.90" y="494.00" font-size="7.7" textLength="20.30" lengthAdjust="spacingAndGlyphs">MHC II</text>
<text x="456.80" y="575.70" font-size="7.7" textLength="22.00" lengthAdjust="spacingAndGlyphs">MHC II</text>
<text x="386.80" y="575.80" font-size="7.7" textLength="24.30" lengthAdjust="spacingAndGlyphs">CD45.2</text>
<text x="0" y="0" font-size="7.7" text-anchor="middle" transform="translate(370.01 460.00) rotate(-90)" textLength="11.60" lengthAdjust="spacingAndGlyphs">GL7</text>
<text x="0" y="0" font-size="7.7" text-anchor="middle" transform="translate(439.71 459.80) rotate(-90)" textLength="10.90" lengthAdjust="spacingAndGlyphs">GL7</text>
<text x="0" y="0" font-size="7.7" text-anchor="middle" transform="translate(440.21 539.00) rotate(-90)" textLength="11.50" lengthAdjust="spacingAndGlyphs">GL7</text>
<text x="0" y="0" font-size="7.7" text-anchor="middle" transform="translate(370.01 541.70) rotate(-90)" textLength="23.00" lengthAdjust="spacingAndGlyphs">CD45.1</text>
<text x="432.80" y="508.20" font-size="7.6" textLength="15.60" lengthAdjust="spacingAndGlyphs">Itgax</text>
<text x="450.00" y="505.10" font-size="6.0" textLength="5.80" lengthAdjust="spacingAndGlyphs">cre</text>
<text x="457.00" y="508.20" font-size="7.6" textLength="23.70" lengthAdjust="spacingAndGlyphs">H2-Ab1</text>
<text x="483.80" y="505.10" font-size="6.0">c</text>
<text x="489.00" y="508.20" font-size="7.6" textLength="18.70" lengthAdjust="spacingAndGlyphs">donor</text>
<line x1="393.00" y1="521.60" x2="393.00" y2="502.80" stroke="#555" stroke-width="1.3"/>
<path d="M393.00 497.30L395.50 503.30L390.50 503.30Z" fill="#555"/>
<line x1="416.00" y1="523.50" x2="435.68" y2="494.71" stroke="#231f20" stroke-width="1.3"/>
<path d="M438.90 490.00L437.47 496.53L433.34 493.71Z" fill="#231f20"/>
<line x1="416.90" y1="550.30" x2="433.20" y2="550.30" stroke="#231f20" stroke-width="1.3"/>
<path d="M438.70 550.30L432.70 552.80L432.70 547.80Z" fill="#231f20"/>
</svg></body></html>
